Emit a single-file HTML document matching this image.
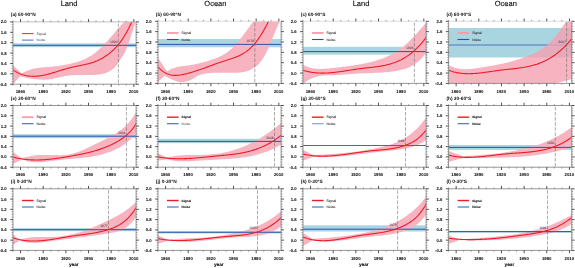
<!DOCTYPE html><html><head><meta charset="utf-8"><style>html,body{margin:0;padding:0;background:#fff;}svg{display:block;will-change:transform;}text{text-rendering:geometricPrecision;font-kerning:none;}</style></head><body>
<svg width="575" height="268" viewBox="0 0 575 268" font-family='"Liberation Sans", sans-serif'>
<rect width="575" height="268" fill="#fff"/>
<defs>
<clipPath id="c00"><rect x="13.00" y="21.90" width="123.10" height="62.30"/></clipPath>
<clipPath id="c01"><rect x="158.00" y="21.30" width="123.10" height="62.10"/></clipPath>
<clipPath id="c02"><rect x="303.00" y="21.30" width="123.10" height="62.10"/></clipPath>
<clipPath id="c03"><rect x="448.60" y="21.30" width="123.10" height="62.10"/></clipPath>
<clipPath id="c10"><rect x="13.00" y="105.50" width="123.10" height="61.70"/></clipPath>
<clipPath id="c11"><rect x="158.00" y="105.50" width="123.10" height="61.70"/></clipPath>
<clipPath id="c12"><rect x="303.00" y="105.50" width="123.10" height="61.70"/></clipPath>
<clipPath id="c13"><rect x="448.60" y="105.50" width="123.10" height="61.70"/></clipPath>
<clipPath id="c20"><rect x="13.00" y="188.80" width="123.10" height="61.60"/></clipPath>
<clipPath id="c21"><rect x="158.00" y="188.80" width="123.10" height="61.60"/></clipPath>
<clipPath id="c22"><rect x="303.00" y="188.80" width="123.10" height="61.60"/></clipPath>
<clipPath id="c23"><rect x="448.60" y="188.80" width="123.10" height="61.60"/></clipPath>
</defs>
<text x="69.00" y="6.20" font-size="7.50" text-anchor="middle" fill="#000" stroke="#000" stroke-width="0.10" stroke-linejoin="round">Land</text>
<text x="215.40" y="6.20" font-size="7.50" text-anchor="middle" fill="#000" stroke="#000" stroke-width="0.10" stroke-linejoin="round">Ocean</text>
<text x="361.00" y="6.20" font-size="7.50" text-anchor="middle" fill="#000" stroke="#000" stroke-width="0.10" stroke-linejoin="round">Land</text>
<text x="505.80" y="6.20" font-size="7.50" text-anchor="middle" fill="#000" stroke="#000" stroke-width="0.10" stroke-linejoin="round">Ocean</text>
<g clip-path="url(#c00)">
<rect x="13.00" y="43.30" width="123.10" height="3.90" fill="#a9d5e0"/>
<path d="M13.00,65.40 L13.79,66.13 L14.58,66.85 L15.37,67.58 L16.16,68.31 L16.95,69.04 L17.75,69.76 L18.54,70.49 L19.33,71.22 L20.12,71.95 L20.91,72.67 L21.70,73.40 L22.45,72.95 L23.20,72.53 L23.95,72.13 L24.70,71.75 L25.45,71.39 L26.20,71.05 L26.95,70.74 L27.70,70.44 L28.45,70.16 L29.20,69.91 L29.95,69.66 L30.70,69.44 L31.45,69.23 L32.21,69.03 L32.96,68.85 L33.71,68.68 L34.46,68.52 L35.21,68.38 L35.96,68.24 L36.71,68.12 L37.46,68.00 L38.21,67.89 L38.96,67.79 L39.71,67.70 L40.46,67.61 L41.21,67.53 L41.96,67.45 L42.71,67.38 L43.46,67.31 L44.21,67.24 L44.96,67.18 L45.71,67.12 L46.46,67.06 L47.21,67.00 L47.96,66.94 L48.71,66.88 L49.46,66.82 L50.21,66.77 L50.96,66.71 L51.71,66.64 L52.46,66.58 L53.22,66.52 L53.97,66.45 L54.72,66.37 L55.47,66.30 L56.22,66.21 L56.97,66.13 L57.72,66.04 L58.47,65.94 L59.22,65.83 L59.97,65.73 L60.72,65.61 L61.47,65.49 L62.22,65.37 L62.97,65.24 L63.72,65.11 L64.47,64.97 L65.22,64.83 L65.97,64.68 L66.72,64.53 L67.47,64.37 L68.22,64.21 L68.97,64.05 L69.72,63.88 L70.47,63.71 L71.22,63.54 L71.97,63.36 L72.72,63.17 L73.47,62.98 L74.23,62.78 L74.98,62.58 L75.73,62.37 L76.48,62.15 L77.23,61.93 L77.98,61.69 L78.73,61.45 L79.48,61.20 L80.23,60.93 L80.98,60.66 L81.73,60.37 L82.48,60.08 L83.23,59.77 L83.98,59.44 L84.73,59.11 L85.48,58.76 L86.23,58.40 L86.98,58.02 L87.73,57.62 L88.48,57.22 L89.23,56.79 L89.98,56.35 L90.73,55.89 L91.48,55.41 L92.23,54.92 L92.98,54.40 L93.73,53.87 L94.48,53.31 L95.24,52.74 L95.99,52.14 L96.74,51.53 L97.49,50.89 L98.24,50.24 L98.99,49.56 L99.74,48.87 L100.49,48.16 L101.24,47.43 L101.99,46.69 L102.74,45.94 L103.49,45.17 L104.24,44.38 L104.99,43.59 L105.74,42.78 L106.49,41.96 L107.24,41.13 L107.99,40.29 L108.74,39.45 L109.49,38.60 L110.24,37.74 L110.99,36.87 L111.74,36.01 L112.49,35.14 L113.24,34.26 L113.99,33.39 L114.74,32.51 L115.49,31.64 L116.25,30.77 L117.00,29.90 L117.75,29.03 L118.50,28.17 L119.25,27.31 L120.00,26.46 L120.75,25.62 L121.50,24.78 L122.25,23.96 L123.00,23.14 L123.75,22.34 L124.50,21.55 L125.25,20.77 L126.00,20.01 L139.10,18.01 L136.30,20.01 L135.55,22.28 L134.80,24.57 L134.05,26.86 L133.30,29.16 L132.55,31.46 L131.80,33.77 L131.05,36.07 L130.30,38.34 L129.55,40.57 L128.80,42.72 L128.05,44.79 L127.30,46.74 L126.55,48.56 L125.80,50.23 L125.05,51.75 L124.29,53.15 L123.54,54.46 L122.79,55.71 L122.04,56.91 L121.29,58.11 L120.54,59.31 L119.79,60.51 L119.04,61.68 L118.29,62.81 L117.54,63.90 L116.79,64.92 L116.04,65.86 L115.29,66.71 L114.54,67.50 L113.79,68.21 L113.04,68.85 L112.29,69.44 L111.54,69.98 L110.79,70.48 L110.04,70.94 L109.29,71.36 L108.54,71.75 L107.79,72.10 L107.04,72.43 L106.29,72.72 L105.54,72.99 L104.79,73.24 L104.04,73.46 L103.29,73.67 L102.54,73.85 L101.79,74.02 L101.03,74.17 L100.28,74.30 L99.53,74.42 L98.78,74.53 L98.03,74.62 L97.28,74.70 L96.53,74.76 L95.78,74.82 L95.03,74.86 L94.28,74.90 L93.53,74.93 L92.78,74.95 L92.03,74.96 L91.28,74.97 L90.53,74.97 L89.78,74.97 L89.03,74.97 L88.28,74.97 L87.53,74.96 L86.78,74.96 L86.03,74.95 L85.28,74.95 L84.53,74.94 L83.78,74.94 L83.03,74.94 L82.28,74.94 L81.53,74.94 L80.78,74.95 L80.03,74.96 L79.28,74.97 L78.53,74.98 L77.77,75.00 L77.02,75.02 L76.27,75.05 L75.52,75.08 L74.77,75.11 L74.02,75.15 L73.27,75.20 L72.52,75.25 L71.77,75.30 L71.02,75.36 L70.27,75.43 L69.52,75.50 L68.77,75.59 L68.02,75.67 L67.27,75.77 L66.52,75.87 L65.77,75.99 L65.02,76.11 L64.27,76.24 L63.52,76.38 L62.77,76.53 L62.02,76.69 L61.27,76.86 L60.52,77.03 L59.77,77.21 L59.02,77.38 L58.27,77.57 L57.52,77.75 L56.77,77.93 L56.02,78.10 L55.27,78.28 L54.51,78.44 L53.76,78.60 L53.01,78.76 L52.26,78.90 L51.51,79.03 L50.76,79.15 L50.01,79.25 L49.26,79.35 L48.51,79.43 L47.76,79.49 L47.01,79.55 L46.26,79.59 L45.51,79.63 L44.76,79.65 L44.01,79.66 L43.26,79.66 L42.51,79.65 L41.76,79.64 L41.01,79.61 L40.26,79.58 L39.51,79.53 L38.76,79.48 L38.01,79.43 L37.26,79.36 L36.51,79.29 L35.76,79.21 L35.01,79.13 L34.26,79.04 L33.51,78.95 L32.76,78.85 L32.01,78.74 L31.25,78.63 L30.50,78.52 L29.75,78.41 L29.00,78.29 L28.25,78.16 L27.50,78.03 L26.75,77.89 L26.00,77.74 L25.25,77.59 L24.50,77.43 L23.75,77.27 L23.00,77.09 L22.25,76.91 L21.50,76.72 L20.75,76.51 L20.00,76.30 L19.22,77.21 L18.44,78.12 L17.67,79.03 L16.89,79.94 L16.11,80.86 L15.33,81.77 L14.56,82.68 L13.78,83.59 L13.00,84.50 Z" fill="#f7b3c0"/>
<line x1="13.00" y1="45.30" x2="136.10" y2="45.30" stroke="#2a52a8" stroke-width="1.00" stroke-opacity="1.00"/>
<path d="M13.00,69.91 L13.75,70.43 L14.50,70.91 L15.25,71.38 L16.01,71.82 L16.76,72.23 L17.51,72.63 L18.26,73.00 L19.01,73.34 L19.76,73.67 L20.52,73.98 L21.27,74.26 L22.02,74.53 L22.77,74.77 L23.52,75.00 L24.27,75.20 L25.03,75.39 L25.78,75.56 L26.53,75.71 L27.28,75.84 L28.03,75.96 L28.78,76.06 L29.53,76.14 L30.29,76.21 L31.04,76.26 L31.79,76.30 L32.54,76.32 L33.29,76.33 L34.04,76.32 L34.80,76.30 L35.55,76.27 L36.30,76.23 L37.05,76.17 L37.80,76.10 L38.55,76.02 L39.31,75.93 L40.06,75.82 L40.81,75.71 L41.56,75.59 L42.31,75.46 L43.06,75.32 L43.81,75.17 L44.57,75.01 L45.32,74.85 L46.07,74.67 L46.82,74.49 L47.57,74.31 L48.32,74.12 L49.08,73.92 L49.83,73.72 L50.58,73.51 L51.33,73.30 L52.08,73.08 L52.83,72.86 L53.58,72.64 L54.34,72.41 L55.09,72.18 L55.84,71.95 L56.59,71.72 L57.34,71.49 L58.09,71.25 L58.85,71.02 L59.60,70.79 L60.35,70.55 L61.10,70.32 L61.85,70.09 L62.60,69.86 L63.36,69.63 L64.11,69.40 L64.86,69.18 L65.61,68.96 L66.36,68.75 L67.11,68.54 L67.86,68.33 L68.62,68.13 L69.37,67.93 L70.12,67.74 L70.87,67.55 L71.62,67.37 L72.37,67.20 L73.13,67.03 L73.88,66.86 L74.63,66.70 L75.38,66.54 L76.13,66.38 L76.88,66.23 L77.64,66.07 L78.39,65.92 L79.14,65.76 L79.89,65.61 L80.64,65.46 L81.39,65.30 L82.14,65.14 L82.90,64.98 L83.65,64.81 L84.40,64.65 L85.15,64.47 L85.90,64.30 L86.65,64.12 L87.41,63.93 L88.16,63.73 L88.91,63.53 L89.66,63.33 L90.41,63.11 L91.16,62.89 L91.92,62.65 L92.67,62.41 L93.42,62.16 L94.17,61.89 L94.92,61.62 L95.67,61.33 L96.42,61.04 L97.18,60.73 L97.93,60.40 L98.68,60.07 L99.43,59.71 L100.18,59.35 L100.93,58.96 L101.69,58.57 L102.44,58.15 L103.19,57.72 L103.94,57.27 L104.69,56.81 L105.44,56.32 L106.19,55.82 L106.95,55.29 L107.70,54.75 L108.45,54.18 L109.20,53.60 L109.95,52.99 L110.70,52.36 L111.46,51.71 L112.21,51.03 L112.96,50.33 L113.71,49.61 L114.46,48.86 L115.21,48.08 L115.97,47.28 L116.72,46.45 L117.47,45.59 L118.22,44.70 L118.97,43.78 L119.72,42.82 L120.47,41.83 L121.23,40.80 L121.98,39.74 L122.73,38.63 L123.48,37.49 L124.23,36.30 L124.98,35.07 L125.74,33.79 L126.49,32.47 L127.24,31.10 L127.99,29.68 L128.74,28.21 L129.49,26.69 L130.25,25.11 L131.00,23.48 L131.75,21.80 L132.50,20.05" fill="none" stroke="#ee1c24" stroke-width="1.1"/>
<line x1="118.40" y1="21.90" x2="118.40" y2="84.20" stroke="#666" stroke-width="0.55" stroke-dasharray="3.6,1.5" stroke-dashoffset="-1.4"/>
</g>
<text x="117.60" y="42.60" font-size="3.40" text-anchor="end" fill="#333">1990</text>
<line x1="22.00" y1="33.60" x2="33.60" y2="33.60" stroke="#f02535" stroke-width="1.00"/>
<line x1="22.00" y1="40.10" x2="33.60" y2="40.10" stroke="#5a7cc0" stroke-width="1.1"/>
<text x="36.60" y="34.80" font-size="3.40" fill="#4a4a4a" stroke="#4a4a4a" stroke-width="0.03" stroke-linejoin="round">Signal</text>
<text x="36.60" y="41.30" font-size="3.40" fill="#4a4a4a" stroke="#4a4a4a" stroke-width="0.03" stroke-linejoin="round">Noise</text>
<path d="M12.55,84.20H136.55M13.00,21.90V84.20M136.10,21.90V84.20" fill="none" stroke="#8a8a8a" stroke-width="0.9"/>
<path d="M12.55,21.90H136.55" fill="none" stroke="#b8b8b8" stroke-width="0.9"/>
<path d="M20.55,84.20v2.80M20.55,21.90v-2.80M43.21,84.20v2.80M43.21,21.90v-2.80M65.87,84.20v2.80M65.87,21.90v-2.80M88.52,84.20v2.80M88.52,21.90v-2.80M111.18,84.20v2.80M111.18,21.90v-2.80M133.83,84.20v2.80M133.83,21.90v-2.80M13.00,84.20h-2.80M136.10,84.20h2.80M13.00,73.82h-2.80M136.10,73.82h2.80M13.00,63.43h-2.80M136.10,63.43h2.80M13.00,53.05h-2.80M136.10,53.05h2.80M13.00,42.67h-2.80M136.10,42.67h2.80M13.00,32.28h-2.80M136.10,32.28h2.80M13.00,21.90h-2.80M136.10,21.90h2.80" stroke="#222" stroke-width="0.8" fill="none"/>
<path d="M13.00,84.20v1.40M13.00,21.90v-1.40M28.10,84.20v1.40M28.10,21.90v-1.40M35.66,84.20v1.40M35.66,21.90v-1.40M50.76,84.20v1.40M50.76,21.90v-1.40M58.31,84.20v1.40M58.31,21.90v-1.40M73.42,84.20v1.40M73.42,21.90v-1.40M80.97,84.20v1.40M80.97,21.90v-1.40M96.07,84.20v1.40M96.07,21.90v-1.40M103.63,84.20v1.40M103.63,21.90v-1.40M118.73,84.20v1.40M118.73,21.90v-1.40M126.28,84.20v1.40M126.28,21.90v-1.40M13.00,81.60h-1.40M136.10,81.60h1.40M13.00,79.01h-1.40M136.10,79.01h1.40M13.00,76.41h-1.40M136.10,76.41h1.40M13.00,71.22h-1.40M136.10,71.22h1.40M13.00,68.62h-1.40M136.10,68.62h1.40M13.00,66.03h-1.40M136.10,66.03h1.40M13.00,60.84h-1.40M136.10,60.84h1.40M13.00,58.24h-1.40M136.10,58.24h1.40M13.00,55.65h-1.40M136.10,55.65h1.40M13.00,50.45h-1.40M136.10,50.45h1.40M13.00,47.86h-1.40M136.10,47.86h1.40M13.00,45.26h-1.40M136.10,45.26h1.40M13.00,40.07h-1.40M136.10,40.07h1.40M13.00,37.48h-1.40M136.10,37.48h1.40M13.00,34.88h-1.40M136.10,34.88h1.40M13.00,29.69h-1.40M136.10,29.69h1.40M13.00,27.09h-1.40M136.10,27.09h1.40M13.00,24.50h-1.40M136.10,24.50h1.40" stroke="#666" stroke-width="0.6" fill="none"/>
<text x="6.70" y="85.70" font-size="4.25" font-weight="bold" text-anchor="end" fill="#111" stroke="#111" stroke-width="0.04" stroke-linejoin="round">-0.4</text>
<text x="6.70" y="75.32" font-size="4.25" font-weight="bold" text-anchor="end" fill="#111" stroke="#111" stroke-width="0.04" stroke-linejoin="round">0.0</text>
<text x="6.70" y="64.93" font-size="4.25" font-weight="bold" text-anchor="end" fill="#111" stroke="#111" stroke-width="0.04" stroke-linejoin="round">0.4</text>
<text x="6.70" y="54.55" font-size="4.25" font-weight="bold" text-anchor="end" fill="#111" stroke="#111" stroke-width="0.04" stroke-linejoin="round">0.8</text>
<text x="6.70" y="44.17" font-size="4.25" font-weight="bold" text-anchor="end" fill="#111" stroke="#111" stroke-width="0.04" stroke-linejoin="round">1.2</text>
<text x="6.70" y="33.78" font-size="4.25" font-weight="bold" text-anchor="end" fill="#111" stroke="#111" stroke-width="0.04" stroke-linejoin="round">1.6</text>
<text x="6.70" y="23.40" font-size="4.25" font-weight="bold" text-anchor="end" fill="#111" stroke="#111" stroke-width="0.04" stroke-linejoin="round">2.0</text>
<text x="20.45" y="93.40" font-size="4.30" font-weight="bold" text-anchor="middle" fill="#111" stroke="#111" stroke-width="0.04" stroke-linejoin="round">1860</text>
<text x="43.11" y="93.40" font-size="4.30" font-weight="bold" text-anchor="middle" fill="#111" stroke="#111" stroke-width="0.04" stroke-linejoin="round">1890</text>
<text x="65.77" y="93.40" font-size="4.30" font-weight="bold" text-anchor="middle" fill="#111" stroke="#111" stroke-width="0.04" stroke-linejoin="round">1920</text>
<text x="88.42" y="93.40" font-size="4.30" font-weight="bold" text-anchor="middle" fill="#111" stroke="#111" stroke-width="0.04" stroke-linejoin="round">1950</text>
<text x="111.08" y="93.40" font-size="4.30" font-weight="bold" text-anchor="middle" fill="#111" stroke="#111" stroke-width="0.04" stroke-linejoin="round">1980</text>
<text x="133.73" y="93.40" font-size="4.30" font-weight="bold" text-anchor="middle" fill="#111" stroke="#111" stroke-width="0.04" stroke-linejoin="round">2010</text>
<text x="10.80" y="16.40" font-size="4.80" font-weight="bold" fill="#111">(a) 60-90°N</text>
<g clip-path="url(#c01)">
<rect x="158.00" y="39.00" width="123.10" height="8.30" fill="#a9d5e0"/>
<path d="M158.00,57.80 L158.77,58.95 L159.53,60.10 L160.30,61.25 L161.07,62.40 L161.83,63.55 L162.60,64.70 L163.37,65.85 L164.13,67.00 L164.90,68.15 L165.67,69.30 L166.43,70.45 L167.20,71.60 L167.95,71.03 L168.71,70.50 L169.46,70.02 L170.21,69.58 L170.96,69.17 L171.72,68.80 L172.47,68.47 L173.22,68.16 L173.97,67.89 L174.73,67.64 L175.48,67.41 L176.23,67.21 L176.98,67.03 L177.74,66.87 L178.49,66.73 L179.24,66.60 L179.99,66.49 L180.75,66.38 L181.50,66.28 L182.25,66.19 L183.00,66.11 L183.76,66.02 L184.51,65.94 L185.26,65.85 L186.01,65.76 L186.77,65.67 L187.52,65.56 L188.27,65.46 L189.02,65.35 L189.78,65.23 L190.53,65.11 L191.28,64.98 L192.04,64.84 L192.79,64.71 L193.54,64.56 L194.29,64.41 L195.05,64.26 L195.80,64.10 L196.55,63.94 L197.30,63.77 L198.06,63.60 L198.81,63.42 L199.56,63.24 L200.31,63.06 L201.07,62.87 L201.82,62.67 L202.57,62.48 L203.32,62.28 L204.08,62.07 L204.83,61.86 L205.58,61.65 L206.33,61.43 L207.09,61.21 L207.84,60.99 L208.59,60.76 L209.34,60.53 L210.10,60.30 L210.85,60.06 L211.60,59.81 L212.36,59.56 L213.11,59.31 L213.86,59.04 L214.61,58.77 L215.37,58.48 L216.12,58.19 L216.87,57.89 L217.62,57.57 L218.38,57.25 L219.13,56.91 L219.88,56.56 L220.63,56.19 L221.39,55.81 L222.14,55.41 L222.89,54.99 L223.64,54.56 L224.40,54.11 L225.15,53.64 L225.90,53.16 L226.65,52.65 L227.41,52.12 L228.16,51.57 L228.91,51.00 L229.66,50.40 L230.42,49.78 L231.17,49.13 L231.92,48.46 L232.68,47.77 L233.43,47.04 L234.18,46.29 L234.93,45.52 L235.69,44.71 L236.44,43.87 L237.19,43.01 L237.94,42.11 L238.70,41.19 L239.45,40.24 L240.20,39.27 L240.95,38.29 L241.71,37.29 L242.46,36.28 L243.21,35.26 L243.96,34.23 L244.72,33.20 L245.47,32.17 L246.22,31.13 L246.97,30.09 L247.73,29.05 L248.48,28.01 L249.23,26.98 L249.98,25.96 L250.74,24.94 L251.49,23.93 L252.24,22.93 L252.99,21.94 L253.75,20.97 L254.50,20.01 L284.10,18.01 L281.00,20.02 L280.25,21.26 L279.50,22.60 L278.75,24.02 L277.99,25.53 L277.24,27.11 L276.49,28.75 L275.74,30.46 L274.99,32.21 L274.24,34.01 L273.48,35.83 L272.73,37.68 L271.98,39.53 L271.23,41.38 L270.48,43.22 L269.73,45.03 L268.97,46.80 L268.22,48.52 L267.47,50.19 L266.72,51.78 L265.97,53.29 L265.22,54.71 L264.46,56.05 L263.71,57.31 L262.96,58.49 L262.21,59.60 L261.46,60.63 L260.71,61.60 L259.95,62.51 L259.20,63.35 L258.45,64.14 L257.70,64.88 L256.95,65.56 L256.20,66.20 L255.45,66.80 L254.69,67.35 L253.94,67.87 L253.19,68.36 L252.44,68.81 L251.69,69.23 L250.94,69.61 L250.18,69.97 L249.43,70.30 L248.68,70.61 L247.93,70.88 L247.18,71.13 L246.43,71.36 L245.67,71.57 L244.92,71.75 L244.17,71.92 L243.42,72.07 L242.67,72.19 L241.92,72.31 L241.16,72.40 L240.41,72.49 L239.66,72.56 L238.91,72.62 L238.16,72.67 L237.41,72.71 L236.65,72.74 L235.90,72.76 L235.15,72.78 L234.40,72.80 L233.65,72.81 L232.90,72.82 L232.15,72.82 L231.39,72.82 L230.64,72.82 L229.89,72.82 L229.14,72.82 L228.39,72.81 L227.64,72.80 L226.88,72.80 L226.13,72.79 L225.38,72.78 L224.63,72.77 L223.88,72.76 L223.13,72.75 L222.37,72.75 L221.62,72.74 L220.87,72.74 L220.12,72.74 L219.37,72.74 L218.62,72.74 L217.86,72.75 L217.11,72.76 L216.36,72.77 L215.61,72.79 L214.86,72.81 L214.11,72.83 L213.35,72.86 L212.60,72.90 L211.85,72.94 L211.10,72.99 L210.35,73.04 L209.60,73.10 L208.85,73.17 L208.09,73.24 L207.34,73.32 L206.59,73.41 L205.84,73.50 L205.09,73.61 L204.34,73.73 L203.58,73.87 L202.83,74.03 L202.08,74.21 L201.33,74.42 L200.58,74.66 L199.83,74.93 L199.07,75.23 L198.32,75.58 L197.57,75.96 L196.82,76.37 L196.07,76.80 L195.32,77.25 L194.56,77.70 L193.81,78.15 L193.06,78.59 L192.31,79.03 L191.56,79.44 L190.81,79.82 L190.05,80.17 L189.30,80.50 L188.55,80.80 L187.80,81.06 L187.05,81.30 L186.30,81.51 L185.55,81.68 L184.79,81.83 L184.04,81.94 L183.29,82.03 L182.54,82.08 L181.79,82.09 L181.04,82.08 L180.28,82.03 L179.53,81.95 L178.78,81.83 L178.03,81.68 L177.28,81.50 L176.53,81.28 L175.77,81.04 L175.02,80.77 L174.27,80.48 L173.52,80.17 L172.77,79.84 L172.02,79.50 L171.26,79.14 L170.51,78.78 L169.76,78.40 L169.01,78.03 L168.26,77.64 L167.51,77.26 L166.75,76.89 L166.00,76.51 L165.25,76.15 L164.50,75.80 L163.69,76.60 L162.88,77.40 L162.06,78.20 L161.25,79.00 L160.44,79.80 L159.62,80.60 L158.81,81.40 L158.00,82.20 Z" fill="#f7b3c0"/>
<line x1="158.00" y1="44.40" x2="281.10" y2="44.40" stroke="#2a52a8" stroke-width="1.00" stroke-opacity="1.00"/>
<path d="M158.00,66.70 L158.75,67.56 L159.51,68.36 L160.26,69.11 L161.01,69.81 L161.77,70.46 L162.52,71.06 L163.27,71.62 L164.03,72.13 L164.78,72.60 L165.53,73.03 L166.29,73.42 L167.04,73.77 L167.79,74.08 L168.55,74.35 L169.30,74.59 L170.05,74.80 L170.81,74.97 L171.56,75.12 L172.31,75.23 L173.07,75.32 L173.82,75.38 L174.57,75.41 L175.33,75.42 L176.08,75.41 L176.83,75.38 L177.59,75.32 L178.34,75.25 L179.09,75.17 L179.85,75.06 L180.60,74.95 L181.35,74.82 L182.11,74.68 L182.86,74.53 L183.61,74.37 L184.37,74.20 L185.12,74.03 L185.88,73.85 L186.63,73.66 L187.38,73.47 L188.14,73.28 L188.89,73.08 L189.64,72.87 L190.40,72.66 L191.15,72.44 L191.90,72.22 L192.66,72.00 L193.41,71.77 L194.16,71.53 L194.92,71.29 L195.67,71.05 L196.42,70.81 L197.18,70.56 L197.93,70.31 L198.68,70.05 L199.44,69.80 L200.19,69.54 L200.94,69.27 L201.70,69.01 L202.45,68.74 L203.20,68.47 L203.96,68.20 L204.71,67.93 L205.46,67.66 L206.22,67.38 L206.97,67.11 L207.72,66.83 L208.48,66.55 L209.23,66.28 L209.98,66.00 L210.74,65.72 L211.49,65.44 L212.24,65.17 L213.00,64.89 L213.75,64.61 L214.50,64.34 L215.26,64.06 L216.01,63.79 L216.76,63.52 L217.52,63.25 L218.27,62.98 L219.02,62.71 L219.78,62.45 L220.53,62.19 L221.28,61.93 L222.04,61.67 L222.79,61.42 L223.54,61.17 L224.30,60.92 L225.05,60.67 L225.80,60.43 L226.56,60.20 L227.31,59.96 L228.06,59.72 L228.82,59.49 L229.57,59.25 L230.32,59.01 L231.08,58.76 L231.83,58.51 L232.58,58.26 L233.34,58.00 L234.09,57.73 L234.84,57.45 L235.60,57.16 L236.35,56.87 L237.10,56.56 L237.86,56.24 L238.61,55.90 L239.36,55.55 L240.12,55.19 L240.87,54.80 L241.62,54.40 L242.38,53.99 L243.13,53.55 L243.89,53.09 L244.64,52.61 L245.39,52.11 L246.15,51.58 L246.90,51.03 L247.65,50.45 L248.41,49.85 L249.16,49.22 L249.91,48.56 L250.67,47.87 L251.42,47.15 L252.17,46.40 L252.93,45.61 L253.68,44.79 L254.43,43.94 L255.19,43.05 L255.94,42.13 L256.69,41.16 L257.45,40.16 L258.20,39.12 L258.95,38.04 L259.71,36.92 L260.46,35.77 L261.21,34.58 L261.97,33.36 L262.72,32.10 L263.47,30.81 L264.23,29.49 L264.98,28.14 L265.73,26.76 L266.49,25.35 L267.24,23.92 L267.99,22.46 L268.75,20.97 L269.50,19.46" fill="none" stroke="#ee1c24" stroke-width="1.1"/>
<line x1="254.80" y1="21.30" x2="254.80" y2="83.40" stroke="#666" stroke-width="0.55" stroke-dasharray="3.6,1.5" stroke-dashoffset="-1.4"/>
</g>
<text x="254.00" y="41.60" font-size="3.40" text-anchor="end" fill="#333">1978</text>
<line x1="167.00" y1="33.00" x2="178.60" y2="33.00" stroke="#ff9aa6" stroke-width="1.80"/>
<line x1="167.00" y1="39.50" x2="178.60" y2="39.50" stroke="#2850a8" stroke-width="1.1"/>
<text x="181.60" y="34.20" font-size="3.40" fill="#333" stroke="#333" stroke-width="0.09" stroke-linejoin="round">Signal</text>
<text x="181.60" y="40.70" font-size="3.40" fill="#333" stroke="#333" stroke-width="0.09" stroke-linejoin="round">Noise</text>
<path d="M157.55,83.40H281.55M158.00,21.30V83.40M281.10,21.30V83.40" fill="none" stroke="#8a8a8a" stroke-width="0.9"/>
<path d="M157.55,21.30H281.55" fill="none" stroke="#d8d8d8" stroke-width="0.9"/>
<path d="M165.55,83.40v2.80M165.55,21.30v-2.80M188.21,83.40v2.80M188.21,21.30v-2.80M210.87,83.40v2.80M210.87,21.30v-2.80M233.52,83.40v2.80M233.52,21.30v-2.80M256.18,83.40v2.80M256.18,21.30v-2.80M278.83,83.40v2.80M278.83,21.30v-2.80M158.00,83.40h-2.80M281.10,83.40h2.80M158.00,73.05h-2.80M281.10,73.05h2.80M158.00,62.70h-2.80M281.10,62.70h2.80M158.00,52.35h-2.80M281.10,52.35h2.80M158.00,42.00h-2.80M281.10,42.00h2.80M158.00,31.65h-2.80M281.10,31.65h2.80M158.00,21.30h-2.80M281.10,21.30h2.80" stroke="#222" stroke-width="0.8" fill="none"/>
<path d="M158.00,83.40v1.40M158.00,21.30v-1.40M173.10,83.40v1.40M173.10,21.30v-1.40M180.66,83.40v1.40M180.66,21.30v-1.40M195.76,83.40v1.40M195.76,21.30v-1.40M203.31,83.40v1.40M203.31,21.30v-1.40M218.42,83.40v1.40M218.42,21.30v-1.40M225.97,83.40v1.40M225.97,21.30v-1.40M241.07,83.40v1.40M241.07,21.30v-1.40M248.63,83.40v1.40M248.63,21.30v-1.40M263.73,83.40v1.40M263.73,21.30v-1.40M271.28,83.40v1.40M271.28,21.30v-1.40M158.00,80.81h-1.40M281.10,80.81h1.40M158.00,78.23h-1.40M281.10,78.23h1.40M158.00,75.64h-1.40M281.10,75.64h1.40M158.00,70.46h-1.40M281.10,70.46h1.40M158.00,67.88h-1.40M281.10,67.88h1.40M158.00,65.29h-1.40M281.10,65.29h1.40M158.00,60.11h-1.40M281.10,60.11h1.40M158.00,57.53h-1.40M281.10,57.53h1.40M158.00,54.94h-1.40M281.10,54.94h1.40M158.00,49.76h-1.40M281.10,49.76h1.40M158.00,47.17h-1.40M281.10,47.17h1.40M158.00,44.59h-1.40M281.10,44.59h1.40M158.00,39.41h-1.40M281.10,39.41h1.40M158.00,36.83h-1.40M281.10,36.83h1.40M158.00,34.24h-1.40M281.10,34.24h1.40M158.00,29.06h-1.40M281.10,29.06h1.40M158.00,26.47h-1.40M281.10,26.47h1.40M158.00,23.89h-1.40M281.10,23.89h1.40" stroke="#666" stroke-width="0.6" fill="none"/>
<text x="151.70" y="84.90" font-size="4.25" font-weight="bold" text-anchor="end" fill="#111" stroke="#111" stroke-width="0.04" stroke-linejoin="round">-0.4</text>
<text x="151.70" y="74.55" font-size="4.25" font-weight="bold" text-anchor="end" fill="#111" stroke="#111" stroke-width="0.04" stroke-linejoin="round">0.0</text>
<text x="151.70" y="64.20" font-size="4.25" font-weight="bold" text-anchor="end" fill="#111" stroke="#111" stroke-width="0.04" stroke-linejoin="round">0.4</text>
<text x="151.70" y="53.85" font-size="4.25" font-weight="bold" text-anchor="end" fill="#111" stroke="#111" stroke-width="0.04" stroke-linejoin="round">0.8</text>
<text x="151.70" y="43.50" font-size="4.25" font-weight="bold" text-anchor="end" fill="#111" stroke="#111" stroke-width="0.04" stroke-linejoin="round">1.2</text>
<text x="151.70" y="33.15" font-size="4.25" font-weight="bold" text-anchor="end" fill="#111" stroke="#111" stroke-width="0.04" stroke-linejoin="round">1.6</text>
<text x="151.70" y="22.80" font-size="4.25" font-weight="bold" text-anchor="end" fill="#111" stroke="#111" stroke-width="0.04" stroke-linejoin="round">2.0</text>
<text x="165.45" y="92.60" font-size="4.30" font-weight="bold" text-anchor="middle" fill="#111" stroke="#111" stroke-width="0.04" stroke-linejoin="round">1860</text>
<text x="188.11" y="92.60" font-size="4.30" font-weight="bold" text-anchor="middle" fill="#111" stroke="#111" stroke-width="0.04" stroke-linejoin="round">1890</text>
<text x="210.77" y="92.60" font-size="4.30" font-weight="bold" text-anchor="middle" fill="#111" stroke="#111" stroke-width="0.04" stroke-linejoin="round">1920</text>
<text x="233.42" y="92.60" font-size="4.30" font-weight="bold" text-anchor="middle" fill="#111" stroke="#111" stroke-width="0.04" stroke-linejoin="round">1950</text>
<text x="256.08" y="92.60" font-size="4.30" font-weight="bold" text-anchor="middle" fill="#111" stroke="#111" stroke-width="0.04" stroke-linejoin="round">1980</text>
<text x="278.73" y="92.60" font-size="4.30" font-weight="bold" text-anchor="middle" fill="#111" stroke="#111" stroke-width="0.04" stroke-linejoin="round">2010</text>
<text x="155.80" y="15.80" font-size="4.80" font-weight="bold" fill="#111">(b) 60-90°N</text>
<g clip-path="url(#c02)">
<rect x="303.00" y="46.80" width="123.10" height="7.80" fill="#a9d5e0"/>
<path d="M303.00,64.79 L303.75,65.18 L304.50,65.56 L305.25,65.90 L306.00,66.23 L306.75,66.53 L307.50,66.82 L308.25,67.08 L309.00,67.32 L309.75,67.54 L310.50,67.74 L311.25,67.93 L312.00,68.09 L312.75,68.24 L313.50,68.38 L314.25,68.49 L315.00,68.60 L315.75,68.68 L316.50,68.75 L317.25,68.81 L318.00,68.86 L318.75,68.89 L319.50,68.92 L320.25,68.93 L321.00,68.93 L321.75,68.92 L322.50,68.90 L323.25,68.87 L324.00,68.83 L324.75,68.79 L325.50,68.74 L326.25,68.68 L327.00,68.62 L327.75,68.55 L328.50,68.48 L329.25,68.41 L330.00,68.33 L330.75,68.24 L331.50,68.16 L332.25,68.07 L333.00,67.99 L333.75,67.90 L334.50,67.81 L335.25,67.73 L336.00,67.64 L336.75,67.55 L337.50,67.47 L338.25,67.38 L339.00,67.29 L339.75,67.20 L340.50,67.11 L341.25,67.02 L342.00,66.93 L342.75,66.84 L343.50,66.75 L344.25,66.66 L345.00,66.56 L345.75,66.47 L346.50,66.37 L347.25,66.27 L348.00,66.17 L348.75,66.07 L349.50,65.97 L350.25,65.87 L351.00,65.76 L351.75,65.65 L352.50,65.54 L353.25,65.43 L354.00,65.32 L354.75,65.20 L355.50,65.09 L356.25,64.97 L357.00,64.84 L357.75,64.72 L358.50,64.59 L359.25,64.46 L360.00,64.32 L360.75,64.19 L361.50,64.05 L362.25,63.91 L363.00,63.76 L363.75,63.61 L364.50,63.46 L365.25,63.30 L366.00,63.14 L366.75,62.98 L367.50,62.81 L368.25,62.64 L369.00,62.47 L369.75,62.29 L370.50,62.11 L371.25,61.92 L372.00,61.73 L372.75,61.54 L373.50,61.34 L374.25,61.13 L375.00,60.92 L375.75,60.71 L376.50,60.48 L377.25,60.26 L378.00,60.02 L378.75,59.78 L379.50,59.53 L380.25,59.27 L381.00,59.01 L381.75,58.74 L382.50,58.46 L383.25,58.17 L384.00,57.88 L384.75,57.58 L385.50,57.26 L386.25,56.94 L387.00,56.61 L387.75,56.27 L388.50,55.92 L389.25,55.56 L390.00,55.19 L390.75,54.81 L391.50,54.41 L392.25,54.01 L393.00,53.60 L393.75,53.17 L394.50,52.73 L395.25,52.28 L396.00,51.82 L396.75,51.34 L397.50,50.85 L398.25,50.35 L399.00,49.84 L399.75,49.31 L400.50,48.77 L401.25,48.21 L402.00,47.64 L402.75,47.06 L403.50,46.46 L404.25,45.85 L405.00,45.22 L405.75,44.57 L406.50,43.91 L407.25,43.24 L408.00,42.54 L408.75,41.83 L409.50,41.11 L410.25,40.36 L411.00,39.60 L411.75,38.83 L412.50,38.04 L413.25,37.24 L414.00,36.42 L414.75,35.60 L415.50,34.77 L416.25,33.93 L417.00,33.09 L417.75,32.25 L418.50,31.40 L419.25,30.55 L420.00,29.70 L420.75,28.86 L421.50,28.01 L422.25,27.17 L423.00,26.32 L423.75,25.47 L424.50,24.61 L425.25,23.74 L426.00,22.85 L426.75,21.95 L427.50,21.04 L426.40,52.20 L425.65,53.26 L424.90,54.27 L424.14,55.24 L423.39,56.17 L422.64,57.06 L421.89,57.91 L421.13,58.72 L420.38,59.49 L419.63,60.23 L418.88,60.93 L418.12,61.59 L417.37,62.23 L416.62,62.83 L415.87,63.40 L415.11,63.94 L414.36,64.45 L413.61,64.93 L412.86,65.39 L412.10,65.82 L411.35,66.22 L410.60,66.61 L409.85,66.97 L409.09,67.31 L408.34,67.63 L407.59,67.93 L406.84,68.21 L406.08,68.48 L405.33,68.73 L404.58,68.96 L403.83,69.18 L403.07,69.39 L402.32,69.59 L401.57,69.78 L400.82,69.96 L400.06,70.13 L399.31,70.29 L398.56,70.45 L397.81,70.60 L397.05,70.74 L396.30,70.88 L395.55,71.01 L394.80,71.13 L394.05,71.25 L393.29,71.36 L392.54,71.47 L391.79,71.57 L391.04,71.67 L390.28,71.76 L389.53,71.85 L388.78,71.93 L388.03,72.01 L387.27,72.09 L386.52,72.16 L385.77,72.22 L385.02,72.28 L384.26,72.34 L383.51,72.40 L382.76,72.45 L382.01,72.50 L381.25,72.55 L380.50,72.59 L379.75,72.63 L379.00,72.67 L378.24,72.71 L377.49,72.74 L376.74,72.78 L375.99,72.81 L375.23,72.84 L374.48,72.87 L373.73,72.90 L372.98,72.92 L372.22,72.95 L371.47,72.98 L370.72,73.00 L369.97,73.03 L369.21,73.05 L368.46,73.08 L367.71,73.11 L366.96,73.13 L366.20,73.16 L365.45,73.19 L364.70,73.22 L363.95,73.25 L363.20,73.28 L362.44,73.32 L361.69,73.35 L360.94,73.39 L360.19,73.43 L359.43,73.47 L358.68,73.52 L357.93,73.56 L357.18,73.61 L356.42,73.66 L355.67,73.71 L354.92,73.77 L354.17,73.82 L353.41,73.87 L352.66,73.93 L351.91,73.99 L351.16,74.04 L350.40,74.10 L349.65,74.16 L348.90,74.21 L348.15,74.27 L347.39,74.33 L346.64,74.39 L345.89,74.44 L345.14,74.50 L344.38,74.55 L343.63,74.61 L342.88,74.66 L342.13,74.71 L341.37,74.76 L340.62,74.81 L339.87,74.85 L339.12,74.90 L338.36,74.94 L337.61,74.98 L336.86,75.02 L336.11,75.06 L335.35,75.09 L334.60,75.12 L333.85,75.15 L333.10,75.17 L332.35,75.19 L331.59,75.21 L330.84,75.23 L330.09,75.25 L329.34,75.27 L328.58,75.29 L327.83,75.32 L327.08,75.35 L326.33,75.38 L325.57,75.42 L324.82,75.47 L324.07,75.52 L323.32,75.59 L322.56,75.66 L321.81,75.75 L321.06,75.84 L320.31,75.95 L319.55,76.07 L318.80,76.20 L318.05,76.35 L317.30,76.52 L316.54,76.70 L315.79,76.91 L315.04,77.13 L314.29,77.37 L313.53,77.63 L312.78,77.91 L312.03,78.22 L311.28,78.55 L310.52,78.90 L309.77,79.28 L309.02,79.68 L308.27,80.12 L307.51,80.58 L306.76,81.07 L306.01,81.59 L305.26,82.14 L304.50,82.72 L303.75,83.34 L303.00,83.99 Z" fill="#f7b3c0"/>
<line x1="303.00" y1="51.60" x2="426.10" y2="51.60" stroke="#2a52a8" stroke-width="1.00" stroke-opacity="1.00"/>
<path d="M303.00,70.24 L303.75,70.48 L304.50,70.70 L305.26,70.91 L306.01,71.12 L306.76,71.31 L307.51,71.49 L308.27,71.65 L309.02,71.81 L309.77,71.96 L310.52,72.10 L311.28,72.23 L312.03,72.35 L312.78,72.45 L313.53,72.55 L314.29,72.64 L315.04,72.73 L315.79,72.80 L316.54,72.86 L317.30,72.92 L318.05,72.97 L318.80,73.01 L319.55,73.04 L320.31,73.06 L321.06,73.08 L321.81,73.09 L322.56,73.09 L323.32,73.09 L324.07,73.08 L324.82,73.06 L325.57,73.04 L326.33,73.01 L327.08,72.97 L327.83,72.93 L328.58,72.88 L329.34,72.83 L330.09,72.78 L330.84,72.72 L331.59,72.65 L332.35,72.58 L333.10,72.50 L333.85,72.43 L334.60,72.34 L335.35,72.26 L336.11,72.17 L336.86,72.07 L337.61,71.98 L338.36,71.88 L339.12,71.78 L339.87,71.67 L340.62,71.57 L341.37,71.46 L342.13,71.35 L342.88,71.24 L343.63,71.12 L344.38,71.01 L345.14,70.89 L345.89,70.77 L346.64,70.65 L347.39,70.54 L348.15,70.42 L348.90,70.30 L349.65,70.18 L350.40,70.06 L351.16,69.94 L351.91,69.82 L352.66,69.71 L353.41,69.59 L354.17,69.48 L354.92,69.36 L355.67,69.25 L356.42,69.14 L357.18,69.03 L357.93,68.93 L358.68,68.82 L359.43,68.72 L360.19,68.62 L360.94,68.53 L361.69,68.44 L362.44,68.35 L363.20,68.26 L363.95,68.17 L364.70,68.09 L365.45,68.01 L366.20,67.92 L366.96,67.84 L367.71,67.76 L368.46,67.68 L369.21,67.60 L369.97,67.52 L370.72,67.44 L371.47,67.35 L372.22,67.27 L372.98,67.18 L373.73,67.09 L374.48,67.00 L375.23,66.91 L375.99,66.81 L376.74,66.71 L377.49,66.61 L378.24,66.50 L379.00,66.39 L379.75,66.27 L380.50,66.15 L381.25,66.02 L382.01,65.89 L382.76,65.75 L383.51,65.60 L384.26,65.45 L385.02,65.30 L385.77,65.13 L386.52,64.96 L387.27,64.78 L388.03,64.59 L388.78,64.39 L389.53,64.19 L390.28,63.98 L391.04,63.75 L391.79,63.52 L392.54,63.28 L393.29,63.03 L394.05,62.76 L394.80,62.49 L395.55,62.20 L396.30,61.91 L397.05,61.60 L397.81,61.28 L398.56,60.95 L399.31,60.60 L400.06,60.25 L400.82,59.88 L401.57,59.49 L402.32,59.09 L403.07,58.68 L403.83,58.25 L404.58,57.81 L405.33,57.35 L406.08,56.88 L406.84,56.39 L407.59,55.89 L408.34,55.37 L409.09,54.83 L409.85,54.28 L410.60,53.70 L411.35,53.11 L412.10,52.51 L412.86,51.88 L413.61,51.24 L414.36,50.58 L415.11,49.89 L415.87,49.19 L416.62,48.47 L417.37,47.73 L418.12,46.97 L418.88,46.19 L419.63,45.38 L420.38,44.56 L421.13,43.71 L421.89,42.85 L422.64,41.96 L423.39,41.04 L424.14,40.11 L424.90,39.15 L425.65,38.17 L426.40,37.16" fill="none" stroke="#ee1c24" stroke-width="1.1"/>
<line x1="414.40" y1="21.30" x2="414.40" y2="83.40" stroke="#666" stroke-width="0.55" stroke-dasharray="3.6,1.5" stroke-dashoffset="-1.4"/>
</g>
<text x="413.60" y="49.00" font-size="3.40" text-anchor="end" fill="#333">1996</text>
<line x1="312.00" y1="33.00" x2="323.60" y2="33.00" stroke="#ff9aa6" stroke-width="1.80"/>
<line x1="312.00" y1="39.50" x2="323.60" y2="39.50" stroke="#2850a8" stroke-width="1.1"/>
<text x="326.60" y="34.20" font-size="3.40" fill="#333" stroke="#333" stroke-width="0.09" stroke-linejoin="round">Signal</text>
<text x="326.60" y="40.70" font-size="3.40" fill="#333" stroke="#333" stroke-width="0.09" stroke-linejoin="round">Noise</text>
<path d="M302.55,83.40H426.55M303.00,21.30V83.40M426.10,21.30V83.40" fill="none" stroke="#8a8a8a" stroke-width="0.9"/>
<path d="M302.55,21.30H426.55" fill="none" stroke="#d8d8d8" stroke-width="0.9"/>
<path d="M310.55,83.40v2.80M310.55,21.30v-2.80M333.21,83.40v2.80M333.21,21.30v-2.80M355.87,83.40v2.80M355.87,21.30v-2.80M378.52,83.40v2.80M378.52,21.30v-2.80M401.18,83.40v2.80M401.18,21.30v-2.80M423.83,83.40v2.80M423.83,21.30v-2.80M303.00,83.40h-2.80M426.10,83.40h2.80M303.00,73.05h-2.80M426.10,73.05h2.80M303.00,62.70h-2.80M426.10,62.70h2.80M303.00,52.35h-2.80M426.10,52.35h2.80M303.00,42.00h-2.80M426.10,42.00h2.80M303.00,31.65h-2.80M426.10,31.65h2.80M303.00,21.30h-2.80M426.10,21.30h2.80" stroke="#222" stroke-width="0.8" fill="none"/>
<path d="M303.00,83.40v1.40M303.00,21.30v-1.40M318.10,83.40v1.40M318.10,21.30v-1.40M325.66,83.40v1.40M325.66,21.30v-1.40M340.76,83.40v1.40M340.76,21.30v-1.40M348.31,83.40v1.40M348.31,21.30v-1.40M363.42,83.40v1.40M363.42,21.30v-1.40M370.97,83.40v1.40M370.97,21.30v-1.40M386.07,83.40v1.40M386.07,21.30v-1.40M393.63,83.40v1.40M393.63,21.30v-1.40M408.73,83.40v1.40M408.73,21.30v-1.40M416.28,83.40v1.40M416.28,21.30v-1.40M303.00,80.81h-1.40M426.10,80.81h1.40M303.00,78.23h-1.40M426.10,78.23h1.40M303.00,75.64h-1.40M426.10,75.64h1.40M303.00,70.46h-1.40M426.10,70.46h1.40M303.00,67.88h-1.40M426.10,67.88h1.40M303.00,65.29h-1.40M426.10,65.29h1.40M303.00,60.11h-1.40M426.10,60.11h1.40M303.00,57.53h-1.40M426.10,57.53h1.40M303.00,54.94h-1.40M426.10,54.94h1.40M303.00,49.76h-1.40M426.10,49.76h1.40M303.00,47.17h-1.40M426.10,47.17h1.40M303.00,44.59h-1.40M426.10,44.59h1.40M303.00,39.41h-1.40M426.10,39.41h1.40M303.00,36.83h-1.40M426.10,36.83h1.40M303.00,34.24h-1.40M426.10,34.24h1.40M303.00,29.06h-1.40M426.10,29.06h1.40M303.00,26.47h-1.40M426.10,26.47h1.40M303.00,23.89h-1.40M426.10,23.89h1.40" stroke="#666" stroke-width="0.6" fill="none"/>
<text x="296.70" y="84.90" font-size="4.25" font-weight="bold" text-anchor="end" fill="#111" stroke="#111" stroke-width="0.04" stroke-linejoin="round">-0.4</text>
<text x="296.70" y="74.55" font-size="4.25" font-weight="bold" text-anchor="end" fill="#111" stroke="#111" stroke-width="0.04" stroke-linejoin="round">0.0</text>
<text x="296.70" y="64.20" font-size="4.25" font-weight="bold" text-anchor="end" fill="#111" stroke="#111" stroke-width="0.04" stroke-linejoin="round">0.4</text>
<text x="296.70" y="53.85" font-size="4.25" font-weight="bold" text-anchor="end" fill="#111" stroke="#111" stroke-width="0.04" stroke-linejoin="round">0.8</text>
<text x="296.70" y="43.50" font-size="4.25" font-weight="bold" text-anchor="end" fill="#111" stroke="#111" stroke-width="0.04" stroke-linejoin="round">1.2</text>
<text x="296.70" y="33.15" font-size="4.25" font-weight="bold" text-anchor="end" fill="#111" stroke="#111" stroke-width="0.04" stroke-linejoin="round">1.6</text>
<text x="296.70" y="22.80" font-size="4.25" font-weight="bold" text-anchor="end" fill="#111" stroke="#111" stroke-width="0.04" stroke-linejoin="round">2.0</text>
<text x="310.45" y="92.60" font-size="4.30" font-weight="bold" text-anchor="middle" fill="#111" stroke="#111" stroke-width="0.04" stroke-linejoin="round">1860</text>
<text x="333.11" y="92.60" font-size="4.30" font-weight="bold" text-anchor="middle" fill="#111" stroke="#111" stroke-width="0.04" stroke-linejoin="round">1890</text>
<text x="355.77" y="92.60" font-size="4.30" font-weight="bold" text-anchor="middle" fill="#111" stroke="#111" stroke-width="0.04" stroke-linejoin="round">1920</text>
<text x="378.42" y="92.60" font-size="4.30" font-weight="bold" text-anchor="middle" fill="#111" stroke="#111" stroke-width="0.04" stroke-linejoin="round">1950</text>
<text x="401.08" y="92.60" font-size="4.30" font-weight="bold" text-anchor="middle" fill="#111" stroke="#111" stroke-width="0.04" stroke-linejoin="round">1980</text>
<text x="423.73" y="92.60" font-size="4.30" font-weight="bold" text-anchor="middle" fill="#111" stroke="#111" stroke-width="0.04" stroke-linejoin="round">2010</text>
<text x="300.80" y="15.80" font-size="4.80" font-weight="bold" fill="#111">(c) 60-90°S</text>
<g clip-path="url(#c03)">
<rect x="448.60" y="28.00" width="123.10" height="29.50" fill="#a9d5e0"/>
<line x1="448.60" y1="45.00" x2="571.70" y2="45.00" stroke="#2a52b0" stroke-width="1.20" stroke-opacity="0.72"/>
<path d="M448.60,64.99 L449.35,65.41 L450.11,65.80 L450.86,66.17 L451.61,66.51 L452.36,66.83 L453.12,67.12 L453.87,67.40 L454.62,67.65 L455.37,67.88 L456.13,68.09 L456.88,68.27 L457.63,68.44 L458.38,68.59 L459.14,68.73 L459.89,68.84 L460.64,68.94 L461.39,69.02 L462.15,69.09 L462.90,69.14 L463.65,69.18 L464.40,69.20 L465.16,69.21 L465.91,69.21 L466.66,69.20 L467.41,69.17 L468.17,69.14 L468.92,69.09 L469.67,69.04 L470.42,68.98 L471.18,68.90 L471.93,68.83 L472.68,68.74 L473.43,68.65 L474.19,68.55 L474.94,68.45 L475.69,68.35 L476.44,68.24 L477.20,68.12 L477.95,68.01 L478.70,67.89 L479.45,67.77 L480.21,67.66 L480.96,67.54 L481.71,67.42 L482.46,67.30 L483.22,67.18 L483.97,67.06 L484.72,66.93 L485.47,66.81 L486.23,66.69 L486.98,66.56 L487.73,66.44 L488.48,66.31 L489.24,66.18 L489.99,66.05 L490.74,65.92 L491.49,65.79 L492.25,65.65 L493.00,65.52 L493.75,65.38 L494.50,65.24 L495.26,65.10 L496.01,64.96 L496.76,64.81 L497.51,64.66 L498.27,64.52 L499.02,64.36 L499.77,64.21 L500.52,64.05 L501.28,63.89 L502.03,63.73 L502.78,63.57 L503.53,63.40 L504.29,63.23 L505.04,63.06 L505.79,62.88 L506.54,62.70 L507.30,62.52 L508.05,62.34 L508.80,62.15 L509.56,61.96 L510.31,61.76 L511.06,61.56 L511.81,61.36 L512.57,61.15 L513.32,60.94 L514.07,60.73 L514.82,60.51 L515.58,60.29 L516.33,60.07 L517.08,59.84 L517.83,59.60 L518.59,59.36 L519.34,59.12 L520.09,58.88 L520.84,58.62 L521.60,58.37 L522.35,58.11 L523.10,57.84 L523.85,57.57 L524.61,57.30 L525.36,57.02 L526.11,56.73 L526.86,56.44 L527.62,56.14 L528.37,55.84 L529.12,55.54 L529.87,55.22 L530.63,54.91 L531.38,54.58 L532.13,54.25 L532.88,53.90 L533.64,53.55 L534.39,53.19 L535.14,52.82 L535.89,52.43 L536.65,52.04 L537.40,51.63 L538.15,51.21 L538.90,50.77 L539.66,50.32 L540.41,49.85 L541.16,49.37 L541.91,48.87 L542.67,48.36 L543.42,47.82 L544.17,47.27 L544.92,46.70 L545.68,46.10 L546.43,45.49 L547.18,44.85 L547.93,44.20 L548.69,43.51 L549.44,42.81 L550.19,42.08 L550.94,41.33 L551.70,40.55 L552.45,39.74 L553.20,38.91 L553.95,38.05 L554.71,37.17 L555.46,36.27 L556.21,35.34 L556.96,34.39 L557.72,33.42 L558.47,32.43 L559.22,31.42 L559.97,30.40 L560.73,29.36 L561.48,28.30 L562.23,27.24 L562.98,26.16 L563.74,25.07 L564.49,23.97 L565.24,22.86 L565.99,21.74 L566.75,20.62 L567.50,19.50 L574.70,17.50 L572.30,78.91 L571.55,79.11 L570.79,79.31 L570.04,79.51 L569.28,79.71 L568.53,79.91 L567.77,80.11 L567.02,80.32 L566.27,80.52 L565.51,80.73 L564.76,80.93 L564.00,81.14 L563.25,81.35 L562.49,81.56 L561.74,81.77 L560.99,81.98 L560.23,82.19 L559.48,82.40 L558.72,82.61 L557.97,82.82 L557.21,83.03 L556.46,83.25 L555.71,83.46 L554.95,83.67 L554.20,83.89 L553.44,84.10 L552.69,84.31 L551.93,84.53 L551.18,84.74 L550.43,84.95 L549.67,85.17 L548.92,85.38 L548.16,85.59 L547.41,85.81 L546.65,86.02 L545.90,86.23 L545.15,86.45 L544.39,86.66 L543.64,86.87 L542.88,87.08 L542.13,87.29 L541.38,87.50 L540.62,87.71 L539.87,87.92 L539.11,88.13 L538.36,88.34 L537.60,88.54 L536.85,88.75 L536.10,88.95 L535.34,89.16 L534.59,89.36 L533.83,89.56 L533.08,89.76 L532.32,89.96 L531.57,90.16 L530.82,90.36 L530.06,90.56 L529.31,90.75 L528.55,90.95 L527.80,91.14 L527.04,91.33 L526.29,91.52 L525.54,91.71 L524.78,91.89 L524.03,92.08 L523.27,92.26 L522.52,92.45 L521.76,92.63 L521.01,92.80 L520.26,92.98 L519.50,93.16 L518.75,93.33 L517.99,93.50 L517.24,93.67 L516.48,93.84 L515.73,94.00 L514.98,94.16 L514.22,94.32 L513.47,94.48 L512.71,94.64 L511.96,94.79 L511.20,94.94 L510.45,95.09 L509.70,95.24 L508.94,95.38 L508.19,95.53 L507.43,95.67 L506.68,95.80 L505.92,95.94 L505.17,96.07 L504.42,96.20 L503.66,96.32 L502.91,96.45 L502.15,96.57 L501.40,96.68 L500.64,96.80 L499.89,96.91 L499.14,97.02 L498.38,97.12 L497.63,97.22 L496.87,97.32 L496.12,97.42 L495.36,97.51 L494.61,97.60 L493.86,97.69 L493.10,97.77 L492.35,97.85 L491.59,97.92 L490.84,97.99 L490.08,98.06 L489.33,98.13 L488.58,98.19 L487.82,98.25 L487.07,98.30 L486.31,98.35 L485.56,98.39 L484.80,98.44 L484.05,98.47 L483.30,98.51 L482.54,98.54 L481.79,98.56 L481.03,98.59 L480.28,98.60 L479.52,98.62 L478.77,98.63 L478.02,98.63 L477.26,98.63 L476.51,98.63 L475.75,98.62 L475.00,98.61 L474.25,98.59 L473.49,98.57 L472.74,98.54 L471.98,98.51 L471.23,98.48 L470.47,98.44 L469.72,98.39 L468.97,98.34 L468.21,98.28 L467.46,98.23 L466.70,98.16 L465.95,98.09 L465.19,98.02 L464.44,97.94 L463.69,97.85 L462.93,97.76 L462.18,97.66 L461.42,97.56 L460.67,97.46 L459.91,97.35 L459.16,97.23 L458.41,97.11 L457.65,96.98 L456.90,96.85 L456.14,96.71 L455.39,96.56 L454.63,96.41 L453.88,96.26 L453.13,96.09 L452.37,95.93 L451.62,95.75 L450.86,95.57 L450.11,95.39 L449.35,95.20 L448.60,95.00 Z" fill="#f5a0b0" fill-opacity="0.80"/>
<path d="M448.60,70.22 L449.35,70.50 L450.11,70.77 L450.86,71.03 L451.62,71.27 L452.37,71.50 L453.13,71.71 L453.88,71.92 L454.63,72.11 L455.39,72.28 L456.14,72.45 L456.90,72.60 L457.65,72.75 L458.41,72.88 L459.16,73.00 L459.91,73.11 L460.67,73.21 L461.42,73.30 L462.18,73.38 L462.93,73.45 L463.69,73.51 L464.44,73.56 L465.19,73.60 L465.95,73.64 L466.70,73.66 L467.46,73.68 L468.21,73.69 L468.97,73.69 L469.72,73.68 L470.47,73.67 L471.23,73.65 L471.98,73.63 L472.74,73.59 L473.49,73.55 L474.25,73.51 L475.00,73.46 L475.75,73.40 L476.51,73.34 L477.26,73.27 L478.02,73.20 L478.77,73.13 L479.52,73.05 L480.28,72.96 L481.03,72.88 L481.79,72.79 L482.54,72.69 L483.30,72.60 L484.05,72.50 L484.80,72.40 L485.56,72.29 L486.31,72.19 L487.07,72.08 L487.82,71.97 L488.58,71.86 L489.33,71.75 L490.08,71.64 L490.84,71.53 L491.59,71.42 L492.35,71.30 L493.10,71.19 L493.86,71.08 L494.61,70.97 L495.36,70.86 L496.12,70.76 L496.87,70.65 L497.63,70.55 L498.38,70.45 L499.14,70.35 L499.89,70.25 L500.64,70.15 L501.40,70.06 L502.15,69.97 L502.91,69.89 L503.66,69.80 L504.42,69.72 L505.17,69.64 L505.92,69.55 L506.68,69.47 L507.43,69.39 L508.19,69.31 L508.94,69.24 L509.70,69.16 L510.45,69.08 L511.20,69.00 L511.96,68.91 L512.71,68.83 L513.47,68.75 L514.22,68.66 L514.98,68.58 L515.73,68.49 L516.48,68.40 L517.24,68.30 L517.99,68.21 L518.75,68.11 L519.50,68.00 L520.26,67.90 L521.01,67.79 L521.76,67.67 L522.52,67.55 L523.27,67.43 L524.03,67.30 L524.78,67.17 L525.54,67.03 L526.29,66.89 L527.04,66.74 L527.80,66.58 L528.55,66.42 L529.31,66.25 L530.06,66.08 L530.82,65.89 L531.57,65.71 L532.32,65.51 L533.08,65.30 L533.83,65.09 L534.59,64.87 L535.34,64.64 L536.10,64.41 L536.85,64.16 L537.60,63.91 L538.36,63.64 L539.11,63.37 L539.87,63.08 L540.62,62.79 L541.38,62.48 L542.13,62.17 L542.88,61.84 L543.64,61.50 L544.39,61.16 L545.15,60.80 L545.90,60.42 L546.65,60.04 L547.41,59.64 L548.16,59.23 L548.92,58.81 L549.67,58.38 L550.43,57.93 L551.18,57.47 L551.93,56.99 L552.69,56.50 L553.44,56.00 L554.20,55.48 L554.95,54.95 L555.71,54.40 L556.46,53.84 L557.21,53.26 L557.97,52.66 L558.72,52.05 L559.48,51.43 L560.23,50.78 L560.99,50.12 L561.74,49.45 L562.49,48.75 L563.25,48.04 L564.00,47.31 L564.76,46.56 L565.51,45.80 L566.27,45.02 L567.02,44.21 L567.77,43.39 L568.53,42.55 L569.28,41.69 L570.04,40.81 L570.79,39.91 L571.55,38.99 L572.30,38.05" fill="none" stroke="#ee1c24" stroke-width="1.1"/>
<line x1="566.60" y1="21.30" x2="566.60" y2="83.40" stroke="#666" stroke-width="0.55" stroke-dasharray="3.6,1.5" stroke-dashoffset="-1.4"/>
</g>
<text x="565.80" y="42.60" font-size="3.40" text-anchor="end" fill="#333">2007</text>
<line x1="457.60" y1="33.00" x2="469.20" y2="33.00" stroke="#ff9aa6" stroke-width="1.80"/>
<line x1="457.60" y1="39.50" x2="469.20" y2="39.50" stroke="#2850a8" stroke-width="1.1"/>
<text x="472.20" y="34.20" font-size="3.40" fill="#333" stroke="#333" stroke-width="0.09" stroke-linejoin="round">Signal</text>
<text x="472.20" y="40.70" font-size="3.40" fill="#333" stroke="#333" stroke-width="0.09" stroke-linejoin="round">Noise</text>
<path d="M448.15,83.40H572.15M448.60,21.30V83.40M571.70,21.30V83.40" fill="none" stroke="#8a8a8a" stroke-width="0.9"/>
<path d="M448.15,21.30H572.15" fill="none" stroke="#d8d8d8" stroke-width="0.9"/>
<path d="M456.15,83.40v2.80M456.15,21.30v-2.80M478.81,83.40v2.80M478.81,21.30v-2.80M501.47,83.40v2.80M501.47,21.30v-2.80M524.12,83.40v2.80M524.12,21.30v-2.80M546.78,83.40v2.80M546.78,21.30v-2.80M569.43,83.40v2.80M569.43,21.30v-2.80M448.60,83.40h-2.80M571.70,83.40h2.80M448.60,73.05h-2.80M571.70,73.05h2.80M448.60,62.70h-2.80M571.70,62.70h2.80M448.60,52.35h-2.80M571.70,52.35h2.80M448.60,42.00h-2.80M571.70,42.00h2.80M448.60,31.65h-2.80M571.70,31.65h2.80M448.60,21.30h-2.80M571.70,21.30h2.80" stroke="#222" stroke-width="0.8" fill="none"/>
<path d="M448.60,83.40v1.40M448.60,21.30v-1.40M463.70,83.40v1.40M463.70,21.30v-1.40M471.26,83.40v1.40M471.26,21.30v-1.40M486.36,83.40v1.40M486.36,21.30v-1.40M493.91,83.40v1.40M493.91,21.30v-1.40M509.02,83.40v1.40M509.02,21.30v-1.40M516.57,83.40v1.40M516.57,21.30v-1.40M531.67,83.40v1.40M531.67,21.30v-1.40M539.23,83.40v1.40M539.23,21.30v-1.40M554.33,83.40v1.40M554.33,21.30v-1.40M561.88,83.40v1.40M561.88,21.30v-1.40M448.60,80.81h-1.40M571.70,80.81h1.40M448.60,78.23h-1.40M571.70,78.23h1.40M448.60,75.64h-1.40M571.70,75.64h1.40M448.60,70.46h-1.40M571.70,70.46h1.40M448.60,67.88h-1.40M571.70,67.88h1.40M448.60,65.29h-1.40M571.70,65.29h1.40M448.60,60.11h-1.40M571.70,60.11h1.40M448.60,57.53h-1.40M571.70,57.53h1.40M448.60,54.94h-1.40M571.70,54.94h1.40M448.60,49.76h-1.40M571.70,49.76h1.40M448.60,47.17h-1.40M571.70,47.17h1.40M448.60,44.59h-1.40M571.70,44.59h1.40M448.60,39.41h-1.40M571.70,39.41h1.40M448.60,36.83h-1.40M571.70,36.83h1.40M448.60,34.24h-1.40M571.70,34.24h1.40M448.60,29.06h-1.40M571.70,29.06h1.40M448.60,26.47h-1.40M571.70,26.47h1.40M448.60,23.89h-1.40M571.70,23.89h1.40" stroke="#666" stroke-width="0.6" fill="none"/>
<text x="442.30" y="84.90" font-size="4.25" font-weight="bold" text-anchor="end" fill="#111" stroke="#111" stroke-width="0.04" stroke-linejoin="round">-0.4</text>
<text x="442.30" y="74.55" font-size="4.25" font-weight="bold" text-anchor="end" fill="#111" stroke="#111" stroke-width="0.04" stroke-linejoin="round">0.0</text>
<text x="442.30" y="64.20" font-size="4.25" font-weight="bold" text-anchor="end" fill="#111" stroke="#111" stroke-width="0.04" stroke-linejoin="round">0.4</text>
<text x="442.30" y="53.85" font-size="4.25" font-weight="bold" text-anchor="end" fill="#111" stroke="#111" stroke-width="0.04" stroke-linejoin="round">0.8</text>
<text x="442.30" y="43.50" font-size="4.25" font-weight="bold" text-anchor="end" fill="#111" stroke="#111" stroke-width="0.04" stroke-linejoin="round">1.2</text>
<text x="442.30" y="33.15" font-size="4.25" font-weight="bold" text-anchor="end" fill="#111" stroke="#111" stroke-width="0.04" stroke-linejoin="round">1.6</text>
<text x="442.30" y="22.80" font-size="4.25" font-weight="bold" text-anchor="end" fill="#111" stroke="#111" stroke-width="0.04" stroke-linejoin="round">2.0</text>
<text x="456.05" y="92.60" font-size="4.30" font-weight="bold" text-anchor="middle" fill="#111" stroke="#111" stroke-width="0.04" stroke-linejoin="round">1860</text>
<text x="478.71" y="92.60" font-size="4.30" font-weight="bold" text-anchor="middle" fill="#111" stroke="#111" stroke-width="0.04" stroke-linejoin="round">1890</text>
<text x="501.37" y="92.60" font-size="4.30" font-weight="bold" text-anchor="middle" fill="#111" stroke="#111" stroke-width="0.04" stroke-linejoin="round">1920</text>
<text x="524.02" y="92.60" font-size="4.30" font-weight="bold" text-anchor="middle" fill="#111" stroke="#111" stroke-width="0.04" stroke-linejoin="round">1950</text>
<text x="546.68" y="92.60" font-size="4.30" font-weight="bold" text-anchor="middle" fill="#111" stroke="#111" stroke-width="0.04" stroke-linejoin="round">1980</text>
<text x="569.33" y="92.60" font-size="4.30" font-weight="bold" text-anchor="middle" fill="#111" stroke="#111" stroke-width="0.04" stroke-linejoin="round">2010</text>
<text x="446.40" y="15.80" font-size="4.80" font-weight="bold" fill="#111">(d) 60-90°S</text>
<g clip-path="url(#c10)">
<rect x="13.00" y="134.20" width="123.10" height="4.00" fill="#a9d5e0"/>
<path d="M13.00,152.20 L13.77,152.71 L14.53,153.22 L15.30,153.72 L16.07,154.23 L16.83,154.74 L17.60,155.25 L18.37,155.76 L19.13,156.27 L19.90,156.78 L20.67,157.28 L21.43,157.79 L22.20,158.30 L22.95,158.05 L23.70,157.80 L24.46,157.56 L25.21,157.33 L25.96,157.12 L26.71,156.92 L27.46,156.73 L28.22,156.55 L28.97,156.39 L29.72,156.23 L30.47,156.09 L31.22,155.95 L31.98,155.83 L32.73,155.71 L33.48,155.60 L34.23,155.51 L34.98,155.42 L35.74,155.34 L36.49,155.26 L37.24,155.20 L37.99,155.14 L38.74,155.09 L39.50,155.05 L40.25,155.01 L41.00,154.98 L41.75,154.95 L42.50,154.93 L43.26,154.91 L44.01,154.90 L44.76,154.89 L45.51,154.89 L46.26,154.89 L47.02,154.90 L47.77,154.91 L48.52,154.92 L49.27,154.93 L50.02,154.95 L50.78,154.96 L51.53,154.98 L52.28,155.00 L53.03,155.02 L53.78,155.04 L54.53,155.06 L55.29,155.09 L56.04,155.10 L56.79,155.12 L57.54,155.13 L58.29,155.14 L59.05,155.15 L59.80,155.15 L60.55,155.14 L61.30,155.13 L62.05,155.11 L62.81,155.08 L63.56,155.05 L64.31,155.01 L65.06,154.95 L65.81,154.89 L66.57,154.81 L67.32,154.72 L68.07,154.62 L68.82,154.51 L69.57,154.38 L70.33,154.24 L71.08,154.08 L71.83,153.91 L72.58,153.72 L73.33,153.52 L74.09,153.31 L74.84,153.08 L75.59,152.84 L76.34,152.59 L77.09,152.33 L77.85,152.06 L78.60,151.77 L79.35,151.48 L80.10,151.19 L80.85,150.88 L81.61,150.57 L82.36,150.25 L83.11,149.93 L83.86,149.60 L84.61,149.26 L85.37,148.92 L86.12,148.58 L86.87,148.23 L87.62,147.87 L88.37,147.52 L89.13,147.16 L89.88,146.80 L90.63,146.43 L91.38,146.07 L92.13,145.70 L92.89,145.33 L93.64,144.96 L94.39,144.59 L95.14,144.23 L95.89,143.86 L96.65,143.49 L97.40,143.12 L98.15,142.75 L98.90,142.39 L99.65,142.02 L100.41,141.65 L101.16,141.28 L101.91,140.91 L102.66,140.53 L103.41,140.16 L104.17,139.78 L104.92,139.40 L105.67,139.02 L106.42,138.64 L107.17,138.25 L107.93,137.86 L108.68,137.46 L109.43,137.06 L110.18,136.66 L110.93,136.25 L111.68,135.83 L112.44,135.41 L113.19,134.98 L113.94,134.54 L114.69,134.10 L115.44,133.64 L116.20,133.18 L116.95,132.71 L117.70,132.22 L118.45,131.72 L119.20,131.21 L119.96,130.67 L120.71,130.12 L121.46,129.55 L122.21,128.96 L122.96,128.35 L123.72,127.71 L124.47,127.04 L125.22,126.35 L125.97,125.62 L126.72,124.87 L127.48,124.08 L128.23,123.26 L128.98,122.40 L129.73,121.51 L130.48,120.57 L131.24,119.60 L131.99,118.58 L132.74,117.53 L133.49,116.42 L134.24,115.27 L135.00,114.07 L135.75,112.82 L136.50,111.52 L136.50,131.82 L135.75,132.87 L135.00,133.88 L134.24,134.86 L133.49,135.79 L132.74,136.68 L131.99,137.54 L131.24,138.36 L130.48,139.15 L129.73,139.90 L128.98,140.62 L128.23,141.31 L127.48,141.97 L126.72,142.60 L125.97,143.21 L125.22,143.79 L124.47,144.34 L123.72,144.87 L122.96,145.38 L122.21,145.87 L121.46,146.34 L120.71,146.78 L119.96,147.22 L119.20,147.63 L118.45,148.03 L117.70,148.42 L116.95,148.79 L116.20,149.15 L115.44,149.51 L114.69,149.85 L113.94,150.18 L113.19,150.51 L112.44,150.83 L111.68,151.14 L110.93,151.44 L110.18,151.74 L109.43,152.02 L108.68,152.30 L107.93,152.57 L107.17,152.83 L106.42,153.09 L105.67,153.33 L104.92,153.57 L104.17,153.80 L103.41,154.03 L102.66,154.25 L101.91,154.46 L101.16,154.66 L100.41,154.86 L99.65,155.05 L98.90,155.23 L98.15,155.41 L97.40,155.58 L96.65,155.74 L95.89,155.90 L95.14,156.05 L94.39,156.19 L93.64,156.33 L92.89,156.46 L92.13,156.59 L91.38,156.71 L90.63,156.83 L89.88,156.94 L89.13,157.05 L88.37,157.16 L87.62,157.26 L86.87,157.35 L86.12,157.45 L85.37,157.54 L84.61,157.62 L83.86,157.71 L83.11,157.79 L82.36,157.87 L81.61,157.95 L80.85,158.03 L80.10,158.10 L79.35,158.18 L78.60,158.25 L77.85,158.32 L77.09,158.39 L76.34,158.46 L75.59,158.53 L74.84,158.60 L74.09,158.67 L73.33,158.74 L72.58,158.81 L71.83,158.88 L71.08,158.95 L70.33,159.02 L69.57,159.09 L68.82,159.16 L68.07,159.22 L67.32,159.29 L66.57,159.36 L65.81,159.43 L65.06,159.51 L64.31,159.58 L63.56,159.65 L62.81,159.72 L62.05,159.80 L61.30,159.87 L60.55,159.95 L59.80,160.03 L59.05,160.11 L58.29,160.19 L57.54,160.27 L56.79,160.35 L56.04,160.44 L55.29,160.52 L54.53,160.61 L53.78,160.70 L53.03,160.80 L52.28,160.89 L51.53,160.99 L50.78,161.08 L50.02,161.18 L49.27,161.28 L48.52,161.38 L47.77,161.47 L47.02,161.57 L46.26,161.66 L45.51,161.75 L44.76,161.83 L44.01,161.91 L43.26,161.99 L42.50,162.06 L41.75,162.12 L41.00,162.17 L40.25,162.22 L39.50,162.26 L38.74,162.29 L37.99,162.31 L37.24,162.32 L36.49,162.32 L35.74,162.31 L34.98,162.29 L34.23,162.25 L33.48,162.20 L32.73,162.13 L31.98,162.05 L31.22,161.96 L30.47,161.85 L29.72,161.72 L28.97,161.58 L28.22,161.41 L27.46,161.23 L26.71,161.03 L25.96,160.81 L25.21,160.57 L24.46,160.31 L23.70,160.02 L22.95,159.72 L22.20,159.40 L21.43,159.77 L20.67,160.13 L19.90,160.50 L19.13,160.87 L18.37,161.23 L17.60,161.60 L16.83,161.97 L16.07,162.33 L15.30,162.70 L14.53,163.07 L13.77,163.43 L13.00,163.80 Z" fill="#f7b3c0"/>
<line x1="13.00" y1="136.20" x2="136.10" y2="136.20" stroke="#2a52a8" stroke-width="1.00" stroke-opacity="1.00"/>
<path d="M13.00,157.03 L13.75,157.23 L14.51,157.42 L15.26,157.61 L16.01,157.79 L16.77,157.96 L17.52,158.12 L18.27,158.28 L19.02,158.42 L19.78,158.57 L20.53,158.70 L21.28,158.82 L22.04,158.94 L22.79,159.05 L23.54,159.16 L24.30,159.25 L25.05,159.34 L25.80,159.43 L26.55,159.51 L27.31,159.58 L28.06,159.64 L28.81,159.70 L29.57,159.75 L30.32,159.80 L31.07,159.84 L31.83,159.87 L32.58,159.90 L33.33,159.92 L34.09,159.94 L34.84,159.95 L35.59,159.96 L36.34,159.96 L37.10,159.96 L37.85,159.95 L38.60,159.93 L39.36,159.92 L40.11,159.89 L40.86,159.86 L41.62,159.83 L42.37,159.79 L43.12,159.75 L43.88,159.71 L44.63,159.66 L45.38,159.60 L46.13,159.55 L46.89,159.48 L47.64,159.42 L48.39,159.35 L49.15,159.28 L49.90,159.20 L50.65,159.12 L51.41,159.04 L52.16,158.95 L52.91,158.86 L53.66,158.77 L54.42,158.68 L55.17,158.58 L55.92,158.48 L56.68,158.38 L57.43,158.27 L58.18,158.16 L58.94,158.05 L59.69,157.94 L60.44,157.83 L61.20,157.71 L61.95,157.59 L62.70,157.48 L63.45,157.35 L64.21,157.23 L64.96,157.11 L65.71,156.98 L66.47,156.86 L67.22,156.73 L67.97,156.60 L68.73,156.47 L69.48,156.34 L70.23,156.21 L70.98,156.08 L71.74,155.94 L72.49,155.81 L73.24,155.68 L74.00,155.54 L74.75,155.40 L75.50,155.27 L76.26,155.13 L77.01,154.99 L77.76,154.85 L78.52,154.70 L79.27,154.56 L80.02,154.41 L80.77,154.26 L81.53,154.11 L82.28,153.95 L83.03,153.79 L83.79,153.63 L84.54,153.47 L85.29,153.30 L86.05,153.13 L86.80,152.96 L87.55,152.79 L88.30,152.61 L89.06,152.42 L89.81,152.24 L90.56,152.05 L91.32,151.85 L92.07,151.65 L92.82,151.45 L93.58,151.24 L94.33,151.03 L95.08,150.81 L95.84,150.58 L96.59,150.36 L97.34,150.12 L98.09,149.89 L98.85,149.64 L99.60,149.39 L100.35,149.14 L101.11,148.88 L101.86,148.61 L102.61,148.34 L103.37,148.06 L104.12,147.77 L104.87,147.48 L105.62,147.18 L106.38,146.87 L107.13,146.56 L107.88,146.24 L108.64,145.91 L109.39,145.58 L110.14,145.23 L110.90,144.88 L111.65,144.52 L112.40,144.16 L113.16,143.78 L113.91,143.40 L114.66,143.01 L115.41,142.61 L116.17,142.21 L116.92,141.79 L117.67,141.36 L118.43,140.92 L119.18,140.46 L119.93,140.00 L120.69,139.51 L121.44,139.01 L122.19,138.50 L122.95,137.96 L123.70,137.41 L124.45,136.83 L125.20,136.24 L125.96,135.62 L126.71,134.97 L127.46,134.30 L128.22,133.61 L128.97,132.88 L129.72,132.11 L130.48,131.31 L131.23,130.47 L131.98,129.59 L132.73,128.66 L133.49,127.68 L134.24,126.64 L134.99,125.56 L135.75,124.41 L136.50,123.21" fill="none" stroke="#ee1c24" stroke-width="1.1"/>
<line x1="126.40" y1="105.50" x2="126.40" y2="167.20" stroke="#666" stroke-width="0.55" stroke-dasharray="3.6,1.5" stroke-dashoffset="-1.4"/>
</g>
<text x="125.60" y="133.60" font-size="3.40" text-anchor="end" fill="#333">2001</text>
<line x1="22.00" y1="117.20" x2="33.60" y2="117.20" stroke="#ff9aa6" stroke-width="1.80"/>
<line x1="22.00" y1="123.70" x2="33.60" y2="123.70" stroke="#4068b8" stroke-width="1.1"/>
<text x="36.60" y="118.40" font-size="3.40" fill="#333" stroke="#333" stroke-width="0.09" stroke-linejoin="round">Signal</text>
<text x="36.60" y="124.90" font-size="3.40" fill="#333" stroke="#333" stroke-width="0.09" stroke-linejoin="round">Noise</text>
<path d="M12.55,167.20H136.55M13.00,105.50V167.20M136.10,105.50V167.20" fill="none" stroke="#8a8a8a" stroke-width="0.9"/>
<path d="M12.55,105.50H136.55" fill="none" stroke="#8a8a8a" stroke-width="0.9"/>
<path d="M20.55,167.20v2.80M20.55,105.50v-2.80M43.21,167.20v2.80M43.21,105.50v-2.80M65.87,167.20v2.80M65.87,105.50v-2.80M88.52,167.20v2.80M88.52,105.50v-2.80M111.18,167.20v2.80M111.18,105.50v-2.80M133.83,167.20v2.80M133.83,105.50v-2.80M13.00,167.20h-2.80M136.10,167.20h2.80M13.00,156.92h-2.80M136.10,156.92h2.80M13.00,146.63h-2.80M136.10,146.63h2.80M13.00,136.35h-2.80M136.10,136.35h2.80M13.00,126.07h-2.80M136.10,126.07h2.80M13.00,115.78h-2.80M136.10,115.78h2.80M13.00,105.50h-2.80M136.10,105.50h2.80" stroke="#222" stroke-width="0.8" fill="none"/>
<path d="M13.00,167.20v1.40M13.00,105.50v-1.40M28.10,167.20v1.40M28.10,105.50v-1.40M35.66,167.20v1.40M35.66,105.50v-1.40M50.76,167.20v1.40M50.76,105.50v-1.40M58.31,167.20v1.40M58.31,105.50v-1.40M73.42,167.20v1.40M73.42,105.50v-1.40M80.97,167.20v1.40M80.97,105.50v-1.40M96.07,167.20v1.40M96.07,105.50v-1.40M103.63,167.20v1.40M103.63,105.50v-1.40M118.73,167.20v1.40M118.73,105.50v-1.40M126.28,167.20v1.40M126.28,105.50v-1.40M13.00,164.63h-1.40M136.10,164.63h1.40M13.00,162.06h-1.40M136.10,162.06h1.40M13.00,159.49h-1.40M136.10,159.49h1.40M13.00,154.35h-1.40M136.10,154.35h1.40M13.00,151.77h-1.40M136.10,151.77h1.40M13.00,149.20h-1.40M136.10,149.20h1.40M13.00,144.06h-1.40M136.10,144.06h1.40M13.00,141.49h-1.40M136.10,141.49h1.40M13.00,138.92h-1.40M136.10,138.92h1.40M13.00,133.78h-1.40M136.10,133.78h1.40M13.00,131.21h-1.40M136.10,131.21h1.40M13.00,128.64h-1.40M136.10,128.64h1.40M13.00,123.50h-1.40M136.10,123.50h1.40M13.00,120.92h-1.40M136.10,120.92h1.40M13.00,118.35h-1.40M136.10,118.35h1.40M13.00,113.21h-1.40M136.10,113.21h1.40M13.00,110.64h-1.40M136.10,110.64h1.40M13.00,108.07h-1.40M136.10,108.07h1.40" stroke="#666" stroke-width="0.6" fill="none"/>
<text x="6.70" y="168.70" font-size="4.25" font-weight="bold" text-anchor="end" fill="#111" stroke="#111" stroke-width="0.04" stroke-linejoin="round">-0.4</text>
<text x="6.70" y="158.42" font-size="4.25" font-weight="bold" text-anchor="end" fill="#111" stroke="#111" stroke-width="0.04" stroke-linejoin="round">0.0</text>
<text x="6.70" y="148.13" font-size="4.25" font-weight="bold" text-anchor="end" fill="#111" stroke="#111" stroke-width="0.04" stroke-linejoin="round">0.4</text>
<text x="6.70" y="137.85" font-size="4.25" font-weight="bold" text-anchor="end" fill="#111" stroke="#111" stroke-width="0.04" stroke-linejoin="round">0.8</text>
<text x="6.70" y="127.57" font-size="4.25" font-weight="bold" text-anchor="end" fill="#111" stroke="#111" stroke-width="0.04" stroke-linejoin="round">1.2</text>
<text x="6.70" y="117.28" font-size="4.25" font-weight="bold" text-anchor="end" fill="#111" stroke="#111" stroke-width="0.04" stroke-linejoin="round">1.6</text>
<text x="6.70" y="107.00" font-size="4.25" font-weight="bold" text-anchor="end" fill="#111" stroke="#111" stroke-width="0.04" stroke-linejoin="round">2.0</text>
<text x="20.45" y="176.40" font-size="4.30" font-weight="bold" text-anchor="middle" fill="#111" stroke="#111" stroke-width="0.04" stroke-linejoin="round">1860</text>
<text x="43.11" y="176.40" font-size="4.30" font-weight="bold" text-anchor="middle" fill="#111" stroke="#111" stroke-width="0.04" stroke-linejoin="round">1890</text>
<text x="65.77" y="176.40" font-size="4.30" font-weight="bold" text-anchor="middle" fill="#111" stroke="#111" stroke-width="0.04" stroke-linejoin="round">1920</text>
<text x="88.42" y="176.40" font-size="4.30" font-weight="bold" text-anchor="middle" fill="#111" stroke="#111" stroke-width="0.04" stroke-linejoin="round">1950</text>
<text x="111.08" y="176.40" font-size="4.30" font-weight="bold" text-anchor="middle" fill="#111" stroke="#111" stroke-width="0.04" stroke-linejoin="round">1980</text>
<text x="133.73" y="176.40" font-size="4.30" font-weight="bold" text-anchor="middle" fill="#111" stroke="#111" stroke-width="0.04" stroke-linejoin="round">2010</text>
<text x="10.80" y="100.00" font-size="4.80" font-weight="bold" fill="#111">(e) 30-60°N</text>
<g clip-path="url(#c11)">
<rect x="158.00" y="138.80" width="123.10" height="4.40" fill="#a9d5e0"/>
<path d="M158.00,153.20 L158.77,153.57 L159.53,153.95 L160.30,154.32 L161.07,154.70 L161.83,155.07 L162.60,155.45 L163.37,155.82 L164.13,156.20 L164.90,156.57 L165.67,156.95 L166.43,157.32 L167.20,157.70 L167.95,157.48 L168.70,157.28 L169.45,157.08 L170.20,156.90 L170.95,156.73 L171.70,156.57 L172.45,156.42 L173.20,156.27 L173.95,156.14 L174.70,156.02 L175.45,155.91 L176.20,155.81 L176.95,155.71 L177.70,155.63 L178.45,155.55 L179.21,155.48 L179.96,155.41 L180.71,155.35 L181.46,155.30 L182.21,155.25 L182.96,155.21 L183.71,155.18 L184.46,155.15 L185.21,155.12 L185.96,155.10 L186.71,155.08 L187.46,155.06 L188.21,155.05 L188.96,155.04 L189.71,155.03 L190.46,155.03 L191.21,155.02 L191.96,155.02 L192.71,155.01 L193.46,155.01 L194.21,155.01 L194.96,155.01 L195.71,155.00 L196.46,155.00 L197.21,154.99 L197.96,154.99 L198.71,154.98 L199.46,154.97 L200.21,154.95 L200.96,154.94 L201.72,154.92 L202.47,154.90 L203.22,154.87 L203.97,154.85 L204.72,154.82 L205.47,154.78 L206.22,154.75 L206.97,154.71 L207.72,154.66 L208.47,154.62 L209.22,154.57 L209.97,154.51 L210.72,154.45 L211.47,154.39 L212.22,154.32 L212.97,154.25 L213.72,154.18 L214.47,154.10 L215.22,154.01 L215.97,153.92 L216.72,153.83 L217.47,153.73 L218.22,153.62 L218.97,153.51 L219.72,153.40 L220.47,153.27 L221.22,153.15 L221.97,153.01 L222.72,152.87 L223.47,152.73 L224.22,152.58 L224.98,152.42 L225.73,152.26 L226.48,152.09 L227.23,151.91 L227.98,151.73 L228.73,151.55 L229.48,151.35 L230.23,151.15 L230.98,150.95 L231.73,150.74 L232.48,150.52 L233.23,150.30 L233.98,150.07 L234.73,149.83 L235.48,149.59 L236.23,149.34 L236.98,149.09 L237.73,148.83 L238.48,148.56 L239.23,148.29 L239.98,148.01 L240.73,147.73 L241.48,147.43 L242.23,147.14 L242.98,146.83 L243.73,146.52 L244.48,146.21 L245.23,145.89 L245.98,145.56 L246.73,145.22 L247.48,144.88 L248.24,144.54 L248.99,144.18 L249.74,143.82 L250.49,143.46 L251.24,143.09 L251.99,142.71 L252.74,142.32 L253.49,141.93 L254.24,141.53 L254.99,141.13 L255.74,140.72 L256.49,140.30 L257.24,139.88 L257.99,139.45 L258.74,139.02 L259.49,138.58 L260.24,138.13 L260.99,137.67 L261.74,137.21 L262.49,136.75 L263.24,136.27 L263.99,135.79 L264.74,135.31 L265.49,134.81 L266.24,134.31 L266.99,133.81 L267.74,133.29 L268.49,132.78 L269.24,132.25 L269.99,131.72 L270.75,131.18 L271.50,130.64 L272.25,130.08 L273.00,129.53 L273.75,128.96 L274.50,128.39 L275.25,127.81 L276.00,127.23 L276.75,126.64 L277.50,126.04 L278.25,125.44 L279.00,124.83 L279.75,124.21 L280.50,123.59 L281.25,122.96 L282.00,122.32 L282.00,143.99 L281.25,144.45 L280.50,144.90 L279.75,145.34 L279.00,145.78 L278.25,146.20 L277.50,146.62 L276.75,147.02 L276.00,147.42 L275.25,147.80 L274.50,148.18 L273.75,148.55 L273.00,148.91 L272.25,149.26 L271.50,149.60 L270.75,149.93 L269.99,150.26 L269.24,150.58 L268.49,150.88 L267.74,151.19 L266.99,151.48 L266.24,151.77 L265.49,152.04 L264.74,152.31 L263.99,152.58 L263.24,152.83 L262.49,153.08 L261.74,153.32 L260.99,153.56 L260.24,153.79 L259.49,154.01 L258.74,154.23 L257.99,154.43 L257.24,154.64 L256.49,154.83 L255.74,155.02 L254.99,155.21 L254.24,155.39 L253.49,155.56 L252.74,155.73 L251.99,155.89 L251.24,156.05 L250.49,156.20 L249.74,156.35 L248.99,156.49 L248.24,156.63 L247.48,156.76 L246.73,156.89 L245.98,157.01 L245.23,157.13 L244.48,157.24 L243.73,157.36 L242.98,157.46 L242.23,157.56 L241.48,157.66 L240.73,157.76 L239.98,157.85 L239.23,157.94 L238.48,158.03 L237.73,158.11 L236.98,158.19 L236.23,158.26 L235.48,158.34 L234.73,158.41 L233.98,158.48 L233.23,158.54 L232.48,158.61 L231.73,158.67 L230.98,158.73 L230.23,158.79 L229.48,158.84 L228.73,158.90 L227.98,158.95 L227.23,159.00 L226.48,159.05 L225.73,159.10 L224.98,159.15 L224.22,159.19 L223.47,159.24 L222.72,159.28 L221.97,159.33 L221.22,159.37 L220.47,159.42 L219.72,159.46 L218.97,159.50 L218.22,159.55 L217.47,159.59 L216.72,159.63 L215.97,159.67 L215.22,159.71 L214.47,159.75 L213.72,159.80 L212.97,159.84 L212.22,159.88 L211.47,159.92 L210.72,159.96 L209.97,160.00 L209.22,160.04 L208.47,160.09 L207.72,160.13 L206.97,160.17 L206.22,160.21 L205.47,160.25 L204.72,160.30 L203.97,160.34 L203.22,160.39 L202.47,160.43 L201.72,160.48 L200.96,160.52 L200.21,160.57 L199.46,160.61 L198.71,160.66 L197.96,160.71 L197.21,160.76 L196.46,160.81 L195.71,160.86 L194.96,160.91 L194.21,160.96 L193.46,161.00 L192.71,161.05 L191.96,161.10 L191.21,161.14 L190.46,161.18 L189.71,161.22 L188.96,161.25 L188.21,161.28 L187.46,161.31 L186.71,161.33 L185.96,161.35 L185.21,161.37 L184.46,161.37 L183.71,161.38 L182.96,161.37 L182.21,161.36 L181.46,161.34 L180.71,161.32 L179.96,161.29 L179.21,161.25 L178.45,161.20 L177.70,161.14 L176.95,161.08 L176.20,161.00 L175.45,160.92 L174.70,160.82 L173.95,160.71 L173.20,160.60 L172.45,160.47 L171.70,160.33 L170.95,160.18 L170.20,160.01 L169.45,159.83 L168.70,159.64 L167.95,159.44 L167.20,159.20 L166.43,159.32 L165.67,159.43 L164.90,159.55 L164.13,159.67 L163.37,159.78 L162.60,159.90 L161.83,160.02 L161.07,160.13 L160.30,160.25 L159.53,160.37 L158.77,160.48 L158.00,160.60 Z" fill="#f7b3c0"/>
<line x1="158.00" y1="141.40" x2="281.10" y2="141.40" stroke="#2a52a8" stroke-width="1.00" stroke-opacity="1.00"/>
<path d="M158.00,156.85 L158.75,156.99 L159.50,157.13 L160.25,157.26 L161.01,157.39 L161.76,157.50 L162.51,157.62 L163.26,157.72 L164.01,157.82 L164.76,157.92 L165.52,158.01 L166.27,158.09 L167.02,158.17 L167.77,158.24 L168.52,158.31 L169.27,158.37 L170.02,158.43 L170.78,158.48 L171.53,158.52 L172.28,158.57 L173.03,158.60 L173.78,158.64 L174.53,158.66 L175.28,158.69 L176.04,158.71 L176.79,158.72 L177.54,158.73 L178.29,158.74 L179.04,158.74 L179.79,158.74 L180.55,158.74 L181.30,158.73 L182.05,158.72 L182.80,158.70 L183.55,158.68 L184.30,158.66 L185.05,158.64 L185.81,158.61 L186.56,158.58 L187.31,158.54 L188.06,158.50 L188.81,158.46 L189.56,158.42 L190.32,158.38 L191.07,158.33 L191.82,158.28 L192.57,158.23 L193.32,158.18 L194.07,158.12 L194.82,158.06 L195.58,158.00 L196.33,157.94 L197.08,157.88 L197.83,157.81 L198.58,157.75 L199.33,157.68 L200.08,157.61 L200.84,157.54 L201.59,157.47 L202.34,157.40 L203.09,157.33 L203.84,157.25 L204.59,157.18 L205.35,157.10 L206.10,157.03 L206.85,156.95 L207.60,156.88 L208.35,156.80 L209.10,156.72 L209.85,156.65 L210.61,156.57 L211.36,156.50 L212.11,156.42 L212.86,156.34 L213.61,156.27 L214.36,156.20 L215.12,156.12 L215.87,156.05 L216.62,155.98 L217.37,155.91 L218.12,155.84 L218.87,155.77 L219.62,155.69 L220.38,155.62 L221.13,155.55 L221.88,155.48 L222.63,155.41 L223.38,155.34 L224.13,155.27 L224.88,155.20 L225.64,155.12 L226.39,155.05 L227.14,154.97 L227.89,154.89 L228.64,154.81 L229.39,154.73 L230.15,154.65 L230.90,154.56 L231.65,154.47 L232.40,154.38 L233.15,154.29 L233.90,154.19 L234.65,154.09 L235.41,153.99 L236.16,153.88 L236.91,153.77 L237.66,153.66 L238.41,153.54 L239.16,153.42 L239.92,153.29 L240.67,153.16 L241.42,153.03 L242.17,152.89 L242.92,152.74 L243.67,152.60 L244.42,152.44 L245.18,152.28 L245.93,152.12 L246.68,151.95 L247.43,151.77 L248.18,151.59 L248.93,151.40 L249.68,151.21 L250.44,151.00 L251.19,150.80 L251.94,150.58 L252.69,150.36 L253.44,150.13 L254.19,149.90 L254.95,149.65 L255.70,149.40 L256.45,149.14 L257.20,148.88 L257.95,148.60 L258.70,148.32 L259.45,148.03 L260.21,147.73 L260.96,147.42 L261.71,147.10 L262.46,146.78 L263.21,146.44 L263.96,146.10 L264.72,145.74 L265.47,145.38 L266.22,145.00 L266.97,144.62 L267.72,144.23 L268.47,143.82 L269.22,143.41 L269.98,142.98 L270.73,142.54 L271.48,142.10 L272.23,141.64 L272.98,141.17 L273.73,140.68 L274.48,140.19 L275.24,139.69 L275.99,139.17 L276.74,138.64 L277.49,138.10 L278.24,137.54 L278.99,136.98 L279.75,136.40 L280.50,135.80 L281.25,135.20 L282.00,134.58" fill="none" stroke="#ee1c24" stroke-width="1.1"/>
<line x1="274.50" y1="105.50" x2="274.50" y2="167.20" stroke="#666" stroke-width="0.55" stroke-dasharray="3.6,1.5" stroke-dashoffset="-1.4"/>
</g>
<text x="273.70" y="138.50" font-size="3.40" text-anchor="end" fill="#333">2008</text>
<line x1="167.00" y1="117.20" x2="178.60" y2="117.20" stroke="#ee1c24" stroke-width="1.40"/>
<line x1="167.00" y1="123.70" x2="178.60" y2="123.70" stroke="#4068b8" stroke-width="1.1"/>
<text x="181.60" y="118.40" font-size="3.20" font-weight="bold" fill="#000" stroke="#000" stroke-width="0.05" stroke-linejoin="round">Signal</text>
<text x="181.60" y="124.90" font-size="3.40" fill="#4a4a4a" stroke="#4a4a4a" stroke-width="0.03" stroke-linejoin="round">Noise</text>
<path d="M157.55,167.20H281.55M158.00,105.50V167.20M281.10,105.50V167.20" fill="none" stroke="#8a8a8a" stroke-width="0.9"/>
<path d="M157.55,105.50H281.55" fill="none" stroke="#8a8a8a" stroke-width="0.9"/>
<path d="M165.55,167.20v2.80M165.55,105.50v-2.80M188.21,167.20v2.80M188.21,105.50v-2.80M210.87,167.20v2.80M210.87,105.50v-2.80M233.52,167.20v2.80M233.52,105.50v-2.80M256.18,167.20v2.80M256.18,105.50v-2.80M278.83,167.20v2.80M278.83,105.50v-2.80M158.00,167.20h-2.80M281.10,167.20h2.80M158.00,156.92h-2.80M281.10,156.92h2.80M158.00,146.63h-2.80M281.10,146.63h2.80M158.00,136.35h-2.80M281.10,136.35h2.80M158.00,126.07h-2.80M281.10,126.07h2.80M158.00,115.78h-2.80M281.10,115.78h2.80M158.00,105.50h-2.80M281.10,105.50h2.80" stroke="#222" stroke-width="0.8" fill="none"/>
<path d="M158.00,167.20v1.40M158.00,105.50v-1.40M173.10,167.20v1.40M173.10,105.50v-1.40M180.66,167.20v1.40M180.66,105.50v-1.40M195.76,167.20v1.40M195.76,105.50v-1.40M203.31,167.20v1.40M203.31,105.50v-1.40M218.42,167.20v1.40M218.42,105.50v-1.40M225.97,167.20v1.40M225.97,105.50v-1.40M241.07,167.20v1.40M241.07,105.50v-1.40M248.63,167.20v1.40M248.63,105.50v-1.40M263.73,167.20v1.40M263.73,105.50v-1.40M271.28,167.20v1.40M271.28,105.50v-1.40M158.00,164.63h-1.40M281.10,164.63h1.40M158.00,162.06h-1.40M281.10,162.06h1.40M158.00,159.49h-1.40M281.10,159.49h1.40M158.00,154.35h-1.40M281.10,154.35h1.40M158.00,151.77h-1.40M281.10,151.77h1.40M158.00,149.20h-1.40M281.10,149.20h1.40M158.00,144.06h-1.40M281.10,144.06h1.40M158.00,141.49h-1.40M281.10,141.49h1.40M158.00,138.92h-1.40M281.10,138.92h1.40M158.00,133.78h-1.40M281.10,133.78h1.40M158.00,131.21h-1.40M281.10,131.21h1.40M158.00,128.64h-1.40M281.10,128.64h1.40M158.00,123.50h-1.40M281.10,123.50h1.40M158.00,120.92h-1.40M281.10,120.92h1.40M158.00,118.35h-1.40M281.10,118.35h1.40M158.00,113.21h-1.40M281.10,113.21h1.40M158.00,110.64h-1.40M281.10,110.64h1.40M158.00,108.07h-1.40M281.10,108.07h1.40" stroke="#666" stroke-width="0.6" fill="none"/>
<text x="151.70" y="168.70" font-size="4.25" font-weight="bold" text-anchor="end" fill="#111" stroke="#111" stroke-width="0.04" stroke-linejoin="round">-0.4</text>
<text x="151.70" y="158.42" font-size="4.25" font-weight="bold" text-anchor="end" fill="#111" stroke="#111" stroke-width="0.04" stroke-linejoin="round">0.0</text>
<text x="151.70" y="148.13" font-size="4.25" font-weight="bold" text-anchor="end" fill="#111" stroke="#111" stroke-width="0.04" stroke-linejoin="round">0.4</text>
<text x="151.70" y="137.85" font-size="4.25" font-weight="bold" text-anchor="end" fill="#111" stroke="#111" stroke-width="0.04" stroke-linejoin="round">0.8</text>
<text x="151.70" y="127.57" font-size="4.25" font-weight="bold" text-anchor="end" fill="#111" stroke="#111" stroke-width="0.04" stroke-linejoin="round">1.2</text>
<text x="151.70" y="117.28" font-size="4.25" font-weight="bold" text-anchor="end" fill="#111" stroke="#111" stroke-width="0.04" stroke-linejoin="round">1.6</text>
<text x="151.70" y="107.00" font-size="4.25" font-weight="bold" text-anchor="end" fill="#111" stroke="#111" stroke-width="0.04" stroke-linejoin="round">2.0</text>
<text x="165.45" y="176.40" font-size="4.30" font-weight="bold" text-anchor="middle" fill="#111" stroke="#111" stroke-width="0.04" stroke-linejoin="round">1860</text>
<text x="188.11" y="176.40" font-size="4.30" font-weight="bold" text-anchor="middle" fill="#111" stroke="#111" stroke-width="0.04" stroke-linejoin="round">1890</text>
<text x="210.77" y="176.40" font-size="4.30" font-weight="bold" text-anchor="middle" fill="#111" stroke="#111" stroke-width="0.04" stroke-linejoin="round">1920</text>
<text x="233.42" y="176.40" font-size="4.30" font-weight="bold" text-anchor="middle" fill="#111" stroke="#111" stroke-width="0.04" stroke-linejoin="round">1950</text>
<text x="256.08" y="176.40" font-size="4.30" font-weight="bold" text-anchor="middle" fill="#111" stroke="#111" stroke-width="0.04" stroke-linejoin="round">1980</text>
<text x="278.73" y="176.40" font-size="4.30" font-weight="bold" text-anchor="middle" fill="#111" stroke="#111" stroke-width="0.04" stroke-linejoin="round">2010</text>
<text x="155.80" y="100.00" font-size="4.80" font-weight="bold" fill="#111">(f) 30-60°N</text>
<g clip-path="url(#c12)">
<rect x="303.00" y="145.00" width="123.10" height="1.00" fill="#a9d5e0"/>
<path d="M303.00,149.90 L303.80,150.29 L304.60,150.68 L305.40,151.08 L306.20,151.47 L307.00,151.86 L307.80,152.25 L308.60,152.65 L309.40,153.04 L310.20,153.43 L311.00,153.82 L311.80,154.22 L312.60,154.61 L313.40,155.00 L314.15,154.99 L314.90,154.95 L315.65,154.92 L316.40,154.88 L317.15,154.84 L317.91,154.81 L318.66,154.77 L319.41,154.73 L320.16,154.69 L320.91,154.65 L321.66,154.61 L322.41,154.57 L323.16,154.53 L323.91,154.49 L324.66,154.45 L325.42,154.40 L326.17,154.36 L326.92,154.31 L327.67,154.27 L328.42,154.22 L329.17,154.17 L329.92,154.12 L330.67,154.07 L331.42,154.02 L332.17,153.97 L332.93,153.92 L333.68,153.87 L334.43,153.81 L335.18,153.75 L335.93,153.70 L336.68,153.64 L337.43,153.58 L338.18,153.52 L338.93,153.46 L339.68,153.39 L340.44,153.33 L341.19,153.26 L341.94,153.20 L342.69,153.13 L343.44,153.06 L344.19,152.98 L344.94,152.91 L345.69,152.84 L346.44,152.76 L347.19,152.68 L347.95,152.60 L348.70,152.52 L349.45,152.44 L350.20,152.36 L350.95,152.27 L351.70,152.18 L352.45,152.09 L353.20,152.00 L353.95,151.91 L354.70,151.81 L355.46,151.72 L356.21,151.62 L356.96,151.52 L357.71,151.41 L358.46,151.31 L359.21,151.20 L359.96,151.09 L360.71,150.98 L361.46,150.87 L362.21,150.75 L362.97,150.64 L363.72,150.52 L364.47,150.40 L365.22,150.27 L365.97,150.15 L366.72,150.02 L367.47,149.89 L368.22,149.75 L368.97,149.62 L369.72,149.48 L370.48,149.34 L371.23,149.20 L371.98,149.05 L372.73,148.90 L373.48,148.75 L374.23,148.60 L374.98,148.44 L375.73,148.28 L376.48,148.12 L377.23,147.96 L377.99,147.79 L378.74,147.62 L379.49,147.45 L380.24,147.28 L380.99,147.10 L381.74,146.92 L382.49,146.74 L383.24,146.55 L383.99,146.36 L384.74,146.17 L385.50,145.97 L386.25,145.77 L387.00,145.56 L387.75,145.35 L388.50,145.13 L389.25,144.90 L390.00,144.67 L390.75,144.43 L391.50,144.19 L392.25,143.93 L393.01,143.67 L393.76,143.40 L394.51,143.12 L395.26,142.83 L396.01,142.53 L396.76,142.22 L397.51,141.90 L398.26,141.57 L399.01,141.23 L399.76,140.87 L400.52,140.50 L401.27,140.12 L402.02,139.73 L402.77,139.32 L403.52,138.90 L404.27,138.46 L405.02,138.01 L405.77,137.54 L406.52,137.06 L407.27,136.56 L408.03,136.04 L408.78,135.51 L409.53,134.96 L410.28,134.39 L411.03,133.80 L411.78,133.20 L412.53,132.58 L413.28,131.93 L414.03,131.27 L414.78,130.58 L415.54,129.88 L416.29,129.15 L417.04,128.40 L417.79,127.64 L418.54,126.84 L419.29,126.03 L420.04,125.19 L420.79,124.33 L421.54,123.44 L422.29,122.53 L423.05,121.60 L423.80,120.63 L424.55,119.65 L425.30,118.63 L426.05,117.59 L426.80,116.53 L426.80,139.27 L426.05,139.87 L425.30,140.45 L424.55,140.99 L423.80,141.51 L423.05,142.00 L422.29,142.46 L421.54,142.90 L420.79,143.31 L420.04,143.70 L419.29,144.07 L418.54,144.42 L417.79,144.75 L417.04,145.07 L416.29,145.36 L415.54,145.65 L414.78,145.91 L414.03,146.17 L413.28,146.41 L412.53,146.65 L411.78,146.87 L411.03,147.09 L410.28,147.30 L409.53,147.50 L408.78,147.69 L408.03,147.87 L407.27,148.05 L406.52,148.22 L405.77,148.38 L405.02,148.54 L404.27,148.69 L403.52,148.83 L402.77,148.97 L402.02,149.10 L401.27,149.23 L400.52,149.35 L399.76,149.47 L399.01,149.58 L398.26,149.69 L397.51,149.80 L396.76,149.90 L396.01,150.00 L395.26,150.09 L394.51,150.18 L393.76,150.27 L393.01,150.36 L392.25,150.44 L391.50,150.52 L390.75,150.60 L390.00,150.68 L389.25,150.76 L388.50,150.84 L387.75,150.91 L387.00,150.99 L386.25,151.07 L385.50,151.14 L384.74,151.22 L383.99,151.29 L383.24,151.37 L382.49,151.45 L381.74,151.53 L380.99,151.61 L380.24,151.70 L379.49,151.78 L378.74,151.87 L377.99,151.95 L377.23,152.04 L376.48,152.13 L375.73,152.22 L374.98,152.31 L374.23,152.40 L373.48,152.49 L372.73,152.58 L371.98,152.67 L371.23,152.77 L370.48,152.86 L369.72,152.95 L368.97,153.05 L368.22,153.14 L367.47,153.24 L366.72,153.33 L365.97,153.43 L365.22,153.53 L364.47,153.62 L363.72,153.72 L362.97,153.81 L362.21,153.91 L361.46,154.00 L360.71,154.10 L359.96,154.19 L359.21,154.28 L358.46,154.38 L357.71,154.47 L356.96,154.56 L356.21,154.65 L355.46,154.74 L354.70,154.83 L353.95,154.92 L353.20,155.01 L352.45,155.10 L351.70,155.19 L350.95,155.27 L350.20,155.36 L349.45,155.44 L348.70,155.52 L347.95,155.60 L347.19,155.68 L346.44,155.76 L345.69,155.83 L344.94,155.91 L344.19,155.98 L343.44,156.05 L342.69,156.12 L341.94,156.19 L341.19,156.25 L340.44,156.32 L339.68,156.38 L338.93,156.44 L338.18,156.49 L337.43,156.55 L336.68,156.60 L335.93,156.65 L335.18,156.70 L334.43,156.75 L333.68,156.79 L332.93,156.83 L332.17,156.87 L331.42,156.91 L330.67,156.94 L329.92,156.97 L329.17,157.00 L328.42,157.02 L327.67,157.04 L326.92,157.06 L326.17,157.08 L325.42,157.09 L324.66,157.10 L323.91,157.11 L323.16,157.11 L322.41,157.11 L321.66,157.10 L320.91,157.10 L320.16,157.09 L319.41,157.07 L318.66,157.05 L317.91,157.03 L317.15,157.00 L316.40,156.97 L315.65,156.94 L314.90,156.90 L314.15,156.86 L313.40,156.80 L312.60,157.10 L311.80,157.40 L311.00,157.70 L310.20,158.00 L309.40,158.30 L308.60,158.60 L307.80,158.90 L307.00,159.20 L306.20,159.50 L305.40,159.80 L304.60,160.10 L303.80,160.40 L303.00,160.70 Z" fill="#f7b3c0"/>
<line x1="303.00" y1="145.50" x2="426.10" y2="145.50" stroke="#3a6ab8" stroke-width="1.00" stroke-opacity="1.00"/>
<path d="M303.00,154.01 L303.75,154.18 L304.50,154.35 L305.25,154.51 L306.00,154.67 L306.75,154.81 L307.50,154.95 L308.25,155.08 L309.00,155.20 L309.75,155.31 L310.50,155.42 L311.25,155.52 L312.00,155.61 L312.75,155.69 L313.50,155.77 L314.25,155.84 L315.00,155.90 L315.76,155.96 L316.51,156.01 L317.26,156.05 L318.01,156.09 L318.76,156.12 L319.51,156.15 L320.26,156.17 L321.01,156.18 L321.76,156.19 L322.51,156.19 L323.26,156.19 L324.01,156.18 L324.76,156.17 L325.51,156.16 L326.26,156.13 L327.01,156.11 L327.76,156.07 L328.51,156.04 L329.26,156.00 L330.01,155.95 L330.76,155.91 L331.51,155.85 L332.26,155.80 L333.01,155.74 L333.76,155.67 L334.51,155.61 L335.26,155.54 L336.01,155.46 L336.76,155.39 L337.51,155.31 L338.26,155.23 L339.01,155.14 L339.76,155.06 L340.52,154.97 L341.27,154.87 L342.02,154.78 L342.77,154.69 L343.52,154.59 L344.27,154.49 L345.02,154.39 L345.77,154.28 L346.52,154.18 L347.27,154.08 L348.02,153.97 L348.77,153.86 L349.52,153.75 L350.27,153.64 L351.02,153.54 L351.77,153.43 L352.52,153.32 L353.27,153.20 L354.02,153.09 L354.77,152.98 L355.52,152.87 L356.27,152.76 L357.02,152.65 L357.77,152.54 L358.52,152.44 L359.27,152.33 L360.02,152.22 L360.77,152.12 L361.52,152.01 L362.27,151.91 L363.02,151.81 L363.77,151.71 L364.52,151.61 L365.28,151.51 L366.03,151.42 L366.78,151.33 L367.53,151.23 L368.28,151.15 L369.03,151.06 L369.78,150.98 L370.53,150.90 L371.28,150.82 L372.03,150.75 L372.78,150.67 L373.53,150.60 L374.28,150.53 L375.03,150.46 L375.78,150.39 L376.53,150.33 L377.28,150.26 L378.03,150.19 L378.78,150.12 L379.53,150.06 L380.28,149.99 L381.03,149.92 L381.78,149.84 L382.53,149.77 L383.28,149.70 L384.03,149.62 L384.78,149.54 L385.53,149.46 L386.28,149.37 L387.03,149.28 L387.78,149.19 L388.53,149.09 L389.28,148.99 L390.04,148.89 L390.79,148.78 L391.54,148.66 L392.29,148.54 L393.04,148.41 L393.79,148.28 L394.54,148.14 L395.29,148.00 L396.04,147.85 L396.79,147.69 L397.54,147.52 L398.29,147.35 L399.04,147.17 L399.79,146.98 L400.54,146.78 L401.29,146.57 L402.04,146.36 L402.79,146.13 L403.54,145.90 L404.29,145.65 L405.04,145.40 L405.79,145.13 L406.54,144.86 L407.29,144.57 L408.04,144.27 L408.79,143.95 L409.54,143.62 L410.29,143.27 L411.04,142.90 L411.79,142.52 L412.54,142.11 L413.29,141.68 L414.04,141.23 L414.80,140.76 L415.55,140.26 L416.30,139.74 L417.05,139.19 L417.80,138.61 L418.55,138.00 L419.30,137.36 L420.05,136.69 L420.80,135.98 L421.55,135.24 L422.30,134.47 L423.05,133.66 L423.80,132.82 L424.55,131.93 L425.30,131.01 L426.05,130.04 L426.80,129.03" fill="none" stroke="#ee1c24" stroke-width="1.1"/>
<line x1="405.50" y1="105.50" x2="405.50" y2="167.20" stroke="#666" stroke-width="0.55" stroke-dasharray="3.6,1.5" stroke-dashoffset="-1.4"/>
</g>
<text x="404.70" y="142.20" font-size="3.40" text-anchor="end" fill="#333">1986</text>
<line x1="312.00" y1="117.20" x2="323.60" y2="117.20" stroke="#ee1c24" stroke-width="1.40"/>
<line x1="312.00" y1="123.70" x2="323.60" y2="123.70" stroke="#7a9ad0" stroke-width="1.1"/>
<text x="326.60" y="118.40" font-size="3.40" fill="#333" stroke="#333" stroke-width="0.09" stroke-linejoin="round">Signal</text>
<text x="326.60" y="124.90" font-size="3.40" fill="#333" stroke="#333" stroke-width="0.09" stroke-linejoin="round">Noise</text>
<path d="M302.55,167.20H426.55M303.00,105.50V167.20M426.10,105.50V167.20" fill="none" stroke="#8a8a8a" stroke-width="0.9"/>
<path d="M302.55,105.50H426.55" fill="none" stroke="#8a8a8a" stroke-width="0.9"/>
<path d="M310.55,167.20v2.80M310.55,105.50v-2.80M333.21,167.20v2.80M333.21,105.50v-2.80M355.87,167.20v2.80M355.87,105.50v-2.80M378.52,167.20v2.80M378.52,105.50v-2.80M401.18,167.20v2.80M401.18,105.50v-2.80M423.83,167.20v2.80M423.83,105.50v-2.80M303.00,167.20h-2.80M426.10,167.20h2.80M303.00,156.92h-2.80M426.10,156.92h2.80M303.00,146.63h-2.80M426.10,146.63h2.80M303.00,136.35h-2.80M426.10,136.35h2.80M303.00,126.07h-2.80M426.10,126.07h2.80M303.00,115.78h-2.80M426.10,115.78h2.80M303.00,105.50h-2.80M426.10,105.50h2.80" stroke="#222" stroke-width="0.8" fill="none"/>
<path d="M303.00,167.20v1.40M303.00,105.50v-1.40M318.10,167.20v1.40M318.10,105.50v-1.40M325.66,167.20v1.40M325.66,105.50v-1.40M340.76,167.20v1.40M340.76,105.50v-1.40M348.31,167.20v1.40M348.31,105.50v-1.40M363.42,167.20v1.40M363.42,105.50v-1.40M370.97,167.20v1.40M370.97,105.50v-1.40M386.07,167.20v1.40M386.07,105.50v-1.40M393.63,167.20v1.40M393.63,105.50v-1.40M408.73,167.20v1.40M408.73,105.50v-1.40M416.28,167.20v1.40M416.28,105.50v-1.40M303.00,164.63h-1.40M426.10,164.63h1.40M303.00,162.06h-1.40M426.10,162.06h1.40M303.00,159.49h-1.40M426.10,159.49h1.40M303.00,154.35h-1.40M426.10,154.35h1.40M303.00,151.77h-1.40M426.10,151.77h1.40M303.00,149.20h-1.40M426.10,149.20h1.40M303.00,144.06h-1.40M426.10,144.06h1.40M303.00,141.49h-1.40M426.10,141.49h1.40M303.00,138.92h-1.40M426.10,138.92h1.40M303.00,133.78h-1.40M426.10,133.78h1.40M303.00,131.21h-1.40M426.10,131.21h1.40M303.00,128.64h-1.40M426.10,128.64h1.40M303.00,123.50h-1.40M426.10,123.50h1.40M303.00,120.92h-1.40M426.10,120.92h1.40M303.00,118.35h-1.40M426.10,118.35h1.40M303.00,113.21h-1.40M426.10,113.21h1.40M303.00,110.64h-1.40M426.10,110.64h1.40M303.00,108.07h-1.40M426.10,108.07h1.40" stroke="#666" stroke-width="0.6" fill="none"/>
<text x="296.70" y="168.70" font-size="4.25" font-weight="bold" text-anchor="end" fill="#111" stroke="#111" stroke-width="0.04" stroke-linejoin="round">-0.4</text>
<text x="296.70" y="158.42" font-size="4.25" font-weight="bold" text-anchor="end" fill="#111" stroke="#111" stroke-width="0.04" stroke-linejoin="round">0.0</text>
<text x="296.70" y="148.13" font-size="4.25" font-weight="bold" text-anchor="end" fill="#111" stroke="#111" stroke-width="0.04" stroke-linejoin="round">0.4</text>
<text x="296.70" y="137.85" font-size="4.25" font-weight="bold" text-anchor="end" fill="#111" stroke="#111" stroke-width="0.04" stroke-linejoin="round">0.8</text>
<text x="296.70" y="127.57" font-size="4.25" font-weight="bold" text-anchor="end" fill="#111" stroke="#111" stroke-width="0.04" stroke-linejoin="round">1.2</text>
<text x="296.70" y="117.28" font-size="4.25" font-weight="bold" text-anchor="end" fill="#111" stroke="#111" stroke-width="0.04" stroke-linejoin="round">1.6</text>
<text x="296.70" y="107.00" font-size="4.25" font-weight="bold" text-anchor="end" fill="#111" stroke="#111" stroke-width="0.04" stroke-linejoin="round">2.0</text>
<text x="310.45" y="176.40" font-size="4.30" font-weight="bold" text-anchor="middle" fill="#111" stroke="#111" stroke-width="0.04" stroke-linejoin="round">1860</text>
<text x="333.11" y="176.40" font-size="4.30" font-weight="bold" text-anchor="middle" fill="#111" stroke="#111" stroke-width="0.04" stroke-linejoin="round">1890</text>
<text x="355.77" y="176.40" font-size="4.30" font-weight="bold" text-anchor="middle" fill="#111" stroke="#111" stroke-width="0.04" stroke-linejoin="round">1920</text>
<text x="378.42" y="176.40" font-size="4.30" font-weight="bold" text-anchor="middle" fill="#111" stroke="#111" stroke-width="0.04" stroke-linejoin="round">1950</text>
<text x="401.08" y="176.40" font-size="4.30" font-weight="bold" text-anchor="middle" fill="#111" stroke="#111" stroke-width="0.04" stroke-linejoin="round">1980</text>
<text x="423.73" y="176.40" font-size="4.30" font-weight="bold" text-anchor="middle" fill="#111" stroke="#111" stroke-width="0.04" stroke-linejoin="round">2010</text>
<text x="300.80" y="100.00" font-size="4.80" font-weight="bold" fill="#111">(g) 30-60°S</text>
<g clip-path="url(#c13)">
<rect x="448.60" y="145.00" width="123.10" height="4.90" fill="#a9d5e0"/>
<path d="M448.60,151.00 L449.39,151.28 L450.18,151.56 L450.97,151.83 L451.76,152.11 L452.54,152.39 L453.33,152.67 L454.12,152.94 L454.91,153.22 L455.70,153.50 L456.49,153.78 L457.28,154.06 L458.07,154.33 L458.86,154.61 L459.64,154.89 L460.43,155.17 L461.22,155.44 L462.01,155.72 L462.80,156.00 L463.55,156.00 L464.30,155.96 L465.06,155.92 L465.81,155.88 L466.56,155.85 L467.31,155.81 L468.06,155.77 L468.81,155.73 L469.57,155.69 L470.32,155.65 L471.07,155.60 L471.82,155.56 L472.57,155.52 L473.32,155.47 L474.08,155.43 L474.83,155.38 L475.58,155.33 L476.33,155.29 L477.08,155.24 L477.83,155.19 L478.59,155.14 L479.34,155.09 L480.09,155.03 L480.84,154.98 L481.59,154.92 L482.34,154.87 L483.10,154.81 L483.85,154.75 L484.60,154.69 L485.35,154.63 L486.10,154.56 L486.86,154.50 L487.61,154.43 L488.36,154.36 L489.11,154.29 L489.86,154.22 L490.61,154.15 L491.37,154.08 L492.12,154.00 L492.87,153.92 L493.62,153.85 L494.37,153.76 L495.12,153.68 L495.88,153.60 L496.63,153.51 L497.38,153.42 L498.13,153.33 L498.88,153.24 L499.63,153.14 L500.39,153.05 L501.14,152.95 L501.89,152.85 L502.64,152.75 L503.39,152.64 L504.14,152.53 L504.90,152.42 L505.65,152.31 L506.40,152.20 L507.15,152.08 L507.90,151.96 L508.66,151.84 L509.41,151.72 L510.16,151.59 L510.91,151.46 L511.66,151.33 L512.41,151.19 L513.17,151.06 L513.92,150.92 L514.67,150.77 L515.42,150.63 L516.17,150.48 L516.92,150.33 L517.68,150.18 L518.43,150.02 L519.18,149.86 L519.93,149.70 L520.68,149.53 L521.43,149.37 L522.19,149.19 L522.94,149.02 L523.69,148.84 L524.44,148.66 L525.19,148.48 L525.94,148.29 L526.70,148.10 L527.45,147.90 L528.20,147.70 L528.95,147.50 L529.70,147.30 L530.46,147.09 L531.21,146.87 L531.96,146.66 L532.71,146.44 L533.46,146.21 L534.21,145.98 L534.97,145.75 L535.72,145.51 L536.47,145.26 L537.22,145.01 L537.97,144.76 L538.72,144.50 L539.48,144.24 L540.23,143.97 L540.98,143.70 L541.73,143.42 L542.48,143.14 L543.23,142.85 L543.99,142.56 L544.74,142.26 L545.49,141.96 L546.24,141.65 L546.99,141.33 L547.74,141.01 L548.50,140.68 L549.25,140.35 L550.00,140.01 L550.75,139.66 L551.50,139.31 L552.26,138.95 L553.01,138.58 L553.76,138.21 L554.51,137.83 L555.26,137.45 L556.01,137.06 L556.77,136.66 L557.52,136.25 L558.27,135.84 L559.02,135.42 L559.77,135.00 L560.52,134.56 L561.28,134.12 L562.03,133.67 L562.78,133.21 L563.53,132.75 L564.28,132.28 L565.03,131.80 L565.79,131.31 L566.54,130.82 L567.29,130.31 L568.04,129.80 L568.79,129.28 L569.54,128.75 L570.30,128.22 L571.05,127.67 L571.80,127.12 L571.80,146.72 L571.05,146.98 L570.30,147.24 L569.54,147.50 L568.79,147.75 L568.04,148.00 L567.29,148.24 L566.54,148.48 L565.79,148.72 L565.03,148.95 L564.28,149.18 L563.53,149.40 L562.78,149.62 L562.03,149.84 L561.28,150.05 L560.52,150.26 L559.77,150.46 L559.02,150.66 L558.27,150.86 L557.52,151.05 L556.77,151.24 L556.01,151.42 L555.26,151.61 L554.51,151.78 L553.76,151.96 L553.01,152.13 L552.26,152.30 L551.50,152.46 L550.75,152.62 L550.00,152.78 L549.25,152.94 L548.50,153.09 L547.74,153.23 L546.99,153.38 L546.24,153.52 L545.49,153.66 L544.74,153.80 L543.99,153.93 L543.23,154.06 L542.48,154.18 L541.73,154.31 L540.98,154.43 L540.23,154.55 L539.48,154.66 L538.72,154.77 L537.97,154.88 L537.22,154.99 L536.47,155.09 L535.72,155.19 L534.97,155.29 L534.21,155.39 L533.46,155.48 L532.71,155.57 L531.96,155.66 L531.21,155.75 L530.46,155.83 L529.70,155.91 L528.95,155.99 L528.20,156.07 L527.45,156.15 L526.70,156.22 L525.94,156.29 L525.19,156.36 L524.44,156.42 L523.69,156.49 L522.94,156.55 L522.19,156.61 L521.43,156.67 L520.68,156.72 L519.93,156.78 L519.18,156.83 L518.43,156.88 L517.68,156.93 L516.92,156.98 L516.17,157.02 L515.42,157.07 L514.67,157.11 L513.92,157.15 L513.17,157.19 L512.41,157.23 L511.66,157.26 L510.91,157.30 L510.16,157.33 L509.41,157.36 L508.66,157.39 L507.90,157.42 L507.15,157.45 L506.40,157.48 L505.65,157.50 L504.90,157.53 L504.14,157.55 L503.39,157.57 L502.64,157.60 L501.89,157.62 L501.14,157.64 L500.39,157.65 L499.63,157.67 L498.88,157.69 L498.13,157.71 L497.38,157.72 L496.63,157.74 L495.88,157.75 L495.12,157.76 L494.37,157.77 L493.62,157.79 L492.87,157.80 L492.12,157.81 L491.37,157.82 L490.61,157.83 L489.86,157.84 L489.11,157.85 L488.36,157.86 L487.61,157.87 L486.86,157.87 L486.10,157.88 L485.35,157.89 L484.60,157.90 L483.85,157.91 L483.10,157.91 L482.34,157.92 L481.59,157.93 L480.84,157.94 L480.09,157.94 L479.34,157.95 L478.59,157.96 L477.83,157.97 L477.08,157.98 L476.33,157.98 L475.58,157.99 L474.83,158.00 L474.08,158.01 L473.32,158.02 L472.57,158.03 L471.82,158.04 L471.07,158.05 L470.32,158.07 L469.57,158.08 L468.81,158.09 L468.06,158.10 L467.31,158.12 L466.56,158.13 L465.81,158.15 L465.06,158.17 L464.30,158.18 L463.55,158.20 L462.80,158.20 L462.01,158.40 L461.22,158.60 L460.43,158.80 L459.64,159.00 L458.86,159.20 L458.07,159.40 L457.28,159.60 L456.49,159.80 L455.70,160.00 L454.91,160.20 L454.12,160.40 L453.33,160.60 L452.54,160.80 L451.76,161.00 L450.97,161.20 L450.18,161.40 L449.39,161.60 L448.60,161.80 Z" fill="#f7b3c0"/>
<line x1="448.60" y1="147.40" x2="571.70" y2="147.40" stroke="#2a52a8" stroke-width="1.00" stroke-opacity="1.00"/>
<path d="M448.60,155.10 L449.35,155.29 L450.10,155.47 L450.85,155.64 L451.60,155.81 L452.36,155.96 L453.11,156.10 L453.86,156.24 L454.61,156.37 L455.36,156.49 L456.11,156.60 L456.86,156.70 L457.61,156.80 L458.37,156.88 L459.12,156.96 L459.87,157.04 L460.62,157.10 L461.37,157.16 L462.12,157.21 L462.87,157.25 L463.62,157.29 L464.38,157.32 L465.13,157.35 L465.88,157.36 L466.63,157.38 L467.38,157.38 L468.13,157.38 L468.88,157.38 L469.63,157.37 L470.39,157.35 L471.14,157.33 L471.89,157.31 L472.64,157.28 L473.39,157.25 L474.14,157.21 L474.89,157.17 L475.64,157.12 L476.40,157.07 L477.15,157.02 L477.90,156.96 L478.65,156.90 L479.40,156.83 L480.15,156.77 L480.90,156.70 L481.65,156.63 L482.40,156.55 L483.16,156.47 L483.91,156.39 L484.66,156.31 L485.41,156.23 L486.16,156.14 L486.91,156.06 L487.66,155.97 L488.41,155.88 L489.17,155.79 L489.92,155.70 L490.67,155.61 L491.42,155.52 L492.17,155.43 L492.92,155.33 L493.67,155.24 L494.42,155.15 L495.18,155.06 L495.93,154.97 L496.68,154.88 L497.43,154.79 L498.18,154.70 L498.93,154.61 L499.68,154.52 L500.43,154.44 L501.19,154.35 L501.94,154.27 L502.69,154.19 L503.44,154.12 L504.19,154.04 L504.94,153.97 L505.69,153.90 L506.44,153.83 L507.20,153.77 L507.95,153.70 L508.70,153.64 L509.45,153.58 L510.20,153.52 L510.95,153.47 L511.70,153.41 L512.45,153.36 L513.20,153.30 L513.96,153.25 L514.71,153.20 L515.46,153.15 L516.21,153.10 L516.96,153.05 L517.71,152.99 L518.46,152.94 L519.21,152.89 L519.97,152.84 L520.72,152.78 L521.47,152.73 L522.22,152.67 L522.97,152.61 L523.72,152.56 L524.47,152.49 L525.22,152.43 L525.98,152.37 L526.73,152.30 L527.48,152.23 L528.23,152.16 L528.98,152.08 L529.73,152.00 L530.48,151.92 L531.23,151.84 L531.99,151.75 L532.74,151.66 L533.49,151.56 L534.24,151.46 L534.99,151.36 L535.74,151.25 L536.49,151.14 L537.24,151.02 L538.00,150.90 L538.75,150.77 L539.50,150.64 L540.25,150.50 L541.00,150.35 L541.75,150.20 L542.50,150.05 L543.25,149.89 L544.00,149.72 L544.76,149.54 L545.51,149.36 L546.26,149.17 L547.01,148.98 L547.76,148.77 L548.51,148.56 L549.26,148.35 L550.01,148.12 L550.77,147.89 L551.52,147.65 L552.27,147.40 L553.02,147.14 L553.77,146.87 L554.52,146.60 L555.27,146.31 L556.02,146.02 L556.78,145.71 L557.53,145.40 L558.28,145.08 L559.03,144.74 L559.78,144.40 L560.53,144.04 L561.28,143.67 L562.03,143.29 L562.79,142.89 L563.54,142.48 L564.29,142.06 L565.04,141.63 L565.79,141.18 L566.54,140.72 L567.29,140.24 L568.04,139.74 L568.80,139.23 L569.55,138.71 L570.30,138.16 L571.05,137.60 L571.80,137.02" fill="none" stroke="#ee1c24" stroke-width="1.1"/>
<line x1="555.30" y1="105.50" x2="555.30" y2="167.20" stroke="#666" stroke-width="0.55" stroke-dasharray="3.6,1.5" stroke-dashoffset="-1.4"/>
</g>
<text x="554.50" y="144.00" font-size="3.40" text-anchor="end" fill="#333">1992</text>
<line x1="457.60" y1="117.20" x2="469.20" y2="117.20" stroke="#ee1c24" stroke-width="1.40"/>
<line x1="457.60" y1="123.70" x2="469.20" y2="123.70" stroke="#4068b8" stroke-width="1.1"/>
<text x="472.20" y="118.40" font-size="3.20" font-weight="bold" fill="#000" stroke="#000" stroke-width="0.05" stroke-linejoin="round">Signal</text>
<text x="472.20" y="124.90" font-size="3.20" font-weight="bold" fill="#000" stroke="#000" stroke-width="0.05" stroke-linejoin="round">Noise</text>
<path d="M448.15,167.20H572.15M448.60,105.50V167.20M571.70,105.50V167.20" fill="none" stroke="#8a8a8a" stroke-width="0.9"/>
<path d="M448.15,105.50H572.15" fill="none" stroke="#8a8a8a" stroke-width="0.9"/>
<path d="M456.15,167.20v2.80M456.15,105.50v-2.80M478.81,167.20v2.80M478.81,105.50v-2.80M501.47,167.20v2.80M501.47,105.50v-2.80M524.12,167.20v2.80M524.12,105.50v-2.80M546.78,167.20v2.80M546.78,105.50v-2.80M569.43,167.20v2.80M569.43,105.50v-2.80M448.60,167.20h-2.80M571.70,167.20h2.80M448.60,156.92h-2.80M571.70,156.92h2.80M448.60,146.63h-2.80M571.70,146.63h2.80M448.60,136.35h-2.80M571.70,136.35h2.80M448.60,126.07h-2.80M571.70,126.07h2.80M448.60,115.78h-2.80M571.70,115.78h2.80M448.60,105.50h-2.80M571.70,105.50h2.80" stroke="#222" stroke-width="0.8" fill="none"/>
<path d="M448.60,167.20v1.40M448.60,105.50v-1.40M463.70,167.20v1.40M463.70,105.50v-1.40M471.26,167.20v1.40M471.26,105.50v-1.40M486.36,167.20v1.40M486.36,105.50v-1.40M493.91,167.20v1.40M493.91,105.50v-1.40M509.02,167.20v1.40M509.02,105.50v-1.40M516.57,167.20v1.40M516.57,105.50v-1.40M531.67,167.20v1.40M531.67,105.50v-1.40M539.23,167.20v1.40M539.23,105.50v-1.40M554.33,167.20v1.40M554.33,105.50v-1.40M561.88,167.20v1.40M561.88,105.50v-1.40M448.60,164.63h-1.40M571.70,164.63h1.40M448.60,162.06h-1.40M571.70,162.06h1.40M448.60,159.49h-1.40M571.70,159.49h1.40M448.60,154.35h-1.40M571.70,154.35h1.40M448.60,151.77h-1.40M571.70,151.77h1.40M448.60,149.20h-1.40M571.70,149.20h1.40M448.60,144.06h-1.40M571.70,144.06h1.40M448.60,141.49h-1.40M571.70,141.49h1.40M448.60,138.92h-1.40M571.70,138.92h1.40M448.60,133.78h-1.40M571.70,133.78h1.40M448.60,131.21h-1.40M571.70,131.21h1.40M448.60,128.64h-1.40M571.70,128.64h1.40M448.60,123.50h-1.40M571.70,123.50h1.40M448.60,120.92h-1.40M571.70,120.92h1.40M448.60,118.35h-1.40M571.70,118.35h1.40M448.60,113.21h-1.40M571.70,113.21h1.40M448.60,110.64h-1.40M571.70,110.64h1.40M448.60,108.07h-1.40M571.70,108.07h1.40" stroke="#666" stroke-width="0.6" fill="none"/>
<text x="442.30" y="168.70" font-size="4.25" font-weight="bold" text-anchor="end" fill="#111" stroke="#111" stroke-width="0.04" stroke-linejoin="round">-0.4</text>
<text x="442.30" y="158.42" font-size="4.25" font-weight="bold" text-anchor="end" fill="#111" stroke="#111" stroke-width="0.04" stroke-linejoin="round">0.0</text>
<text x="442.30" y="148.13" font-size="4.25" font-weight="bold" text-anchor="end" fill="#111" stroke="#111" stroke-width="0.04" stroke-linejoin="round">0.4</text>
<text x="442.30" y="137.85" font-size="4.25" font-weight="bold" text-anchor="end" fill="#111" stroke="#111" stroke-width="0.04" stroke-linejoin="round">0.8</text>
<text x="442.30" y="127.57" font-size="4.25" font-weight="bold" text-anchor="end" fill="#111" stroke="#111" stroke-width="0.04" stroke-linejoin="round">1.2</text>
<text x="442.30" y="117.28" font-size="4.25" font-weight="bold" text-anchor="end" fill="#111" stroke="#111" stroke-width="0.04" stroke-linejoin="round">1.6</text>
<text x="442.30" y="107.00" font-size="4.25" font-weight="bold" text-anchor="end" fill="#111" stroke="#111" stroke-width="0.04" stroke-linejoin="round">2.0</text>
<text x="456.05" y="176.40" font-size="4.30" font-weight="bold" text-anchor="middle" fill="#111" stroke="#111" stroke-width="0.04" stroke-linejoin="round">1860</text>
<text x="478.71" y="176.40" font-size="4.30" font-weight="bold" text-anchor="middle" fill="#111" stroke="#111" stroke-width="0.04" stroke-linejoin="round">1890</text>
<text x="501.37" y="176.40" font-size="4.30" font-weight="bold" text-anchor="middle" fill="#111" stroke="#111" stroke-width="0.04" stroke-linejoin="round">1920</text>
<text x="524.02" y="176.40" font-size="4.30" font-weight="bold" text-anchor="middle" fill="#111" stroke="#111" stroke-width="0.04" stroke-linejoin="round">1950</text>
<text x="546.68" y="176.40" font-size="4.30" font-weight="bold" text-anchor="middle" fill="#111" stroke="#111" stroke-width="0.04" stroke-linejoin="round">1980</text>
<text x="569.33" y="176.40" font-size="4.30" font-weight="bold" text-anchor="middle" fill="#111" stroke="#111" stroke-width="0.04" stroke-linejoin="round">2010</text>
<text x="446.40" y="100.00" font-size="4.80" font-weight="bold" fill="#111">(h) 30-60°S</text>
<g clip-path="url(#c20)">
<rect x="13.00" y="228.10" width="123.10" height="3.10" fill="#a9d5e0"/>
<path d="M13.00,234.30 L13.84,235.00 L14.68,235.70 L15.51,236.40 L16.35,237.10 L17.19,237.80 L18.02,238.50 L18.86,239.20 L19.70,239.90 L20.45,239.62 L21.21,239.36 L21.96,239.12 L22.71,238.90 L23.47,238.69 L24.22,238.50 L24.97,238.33 L25.73,238.16 L26.48,238.01 L27.24,237.88 L27.99,237.75 L28.74,237.64 L29.50,237.54 L30.25,237.45 L31.00,237.37 L31.76,237.30 L32.51,237.24 L33.26,237.18 L34.02,237.14 L34.77,237.10 L35.52,237.07 L36.28,237.04 L37.03,237.02 L37.79,237.01 L38.54,237.00 L39.29,236.99 L40.05,236.99 L40.80,236.99 L41.55,236.99 L42.31,236.99 L43.06,237.00 L43.81,237.01 L44.57,237.01 L45.32,237.02 L46.07,237.02 L46.83,237.03 L47.58,237.03 L48.33,237.02 L49.09,237.02 L49.84,237.01 L50.60,237.00 L51.35,236.98 L52.10,236.96 L52.86,236.93 L53.61,236.89 L54.36,236.85 L55.12,236.81 L55.87,236.75 L56.62,236.70 L57.38,236.64 L58.13,236.57 L58.88,236.49 L59.64,236.42 L60.39,236.33 L61.15,236.24 L61.90,236.14 L62.65,236.04 L63.41,235.94 L64.16,235.82 L64.91,235.71 L65.67,235.58 L66.42,235.45 L67.17,235.32 L67.93,235.18 L68.68,235.03 L69.43,234.88 L70.19,234.72 L70.94,234.56 L71.69,234.39 L72.45,234.21 L73.20,234.03 L73.96,233.85 L74.71,233.66 L75.46,233.46 L76.22,233.26 L76.97,233.05 L77.72,232.83 L78.48,232.61 L79.23,232.39 L79.98,232.15 L80.74,231.92 L81.49,231.67 L82.24,231.43 L83.00,231.17 L83.75,230.91 L84.51,230.65 L85.26,230.38 L86.01,230.11 L86.77,229.83 L87.52,229.54 L88.27,229.25 L89.03,228.96 L89.78,228.66 L90.53,228.36 L91.29,228.06 L92.04,227.75 L92.79,227.44 L93.55,227.12 L94.30,226.80 L95.05,226.48 L95.81,226.15 L96.56,225.82 L97.32,225.48 L98.07,225.15 L98.82,224.81 L99.58,224.47 L100.33,224.12 L101.08,223.78 L101.84,223.43 L102.59,223.07 L103.34,222.72 L104.10,222.36 L104.85,222.01 L105.60,221.65 L106.36,221.28 L107.11,220.92 L107.87,220.56 L108.62,220.19 L109.37,219.82 L110.13,219.46 L110.88,219.08 L111.63,218.71 L112.39,218.33 L113.14,217.95 L113.89,217.57 L114.65,217.18 L115.40,216.78 L116.15,216.38 L116.91,215.97 L117.66,215.56 L118.41,215.14 L119.17,214.71 L119.92,214.27 L120.68,213.82 L121.43,213.37 L122.18,212.90 L122.94,212.42 L123.69,211.94 L124.44,211.44 L125.20,210.93 L125.95,210.41 L126.70,209.87 L127.46,209.32 L128.21,208.76 L128.96,208.19 L129.72,207.60 L130.47,206.99 L131.23,206.37 L131.98,205.73 L132.73,205.07 L133.49,204.40 L134.24,203.71 L134.99,203.00 L135.75,202.27 L136.50,201.53 L136.50,216.43 L135.75,217.52 L134.99,218.55 L134.24,219.54 L133.49,220.48 L132.73,221.37 L131.98,222.21 L131.23,223.01 L130.47,223.77 L129.72,224.48 L128.96,225.16 L128.21,225.79 L127.46,226.39 L126.70,226.96 L125.95,227.48 L125.20,227.98 L124.44,228.44 L123.69,228.88 L122.94,229.28 L122.18,229.66 L121.43,230.01 L120.68,230.34 L119.92,230.64 L119.17,230.92 L118.41,231.18 L117.66,231.42 L116.91,231.65 L116.15,231.85 L115.40,232.05 L114.65,232.22 L113.89,232.39 L113.14,232.55 L112.39,232.69 L111.63,232.83 L110.88,232.96 L110.13,233.09 L109.37,233.21 L108.62,233.34 L107.87,233.46 L107.11,233.57 L106.36,233.69 L105.60,233.81 L104.85,233.93 L104.10,234.05 L103.34,234.16 L102.59,234.28 L101.84,234.39 L101.08,234.51 L100.33,234.62 L99.58,234.73 L98.82,234.84 L98.07,234.95 L97.32,235.06 L96.56,235.17 L95.81,235.28 L95.05,235.39 L94.30,235.50 L93.55,235.61 L92.79,235.71 L92.04,235.82 L91.29,235.93 L90.53,236.03 L89.78,236.14 L89.03,236.24 L88.27,236.34 L87.52,236.44 L86.77,236.55 L86.01,236.65 L85.26,236.75 L84.51,236.85 L83.75,236.95 L83.00,237.04 L82.24,237.14 L81.49,237.24 L80.74,237.34 L79.98,237.43 L79.23,237.53 L78.48,237.62 L77.72,237.72 L76.97,237.81 L76.22,237.90 L75.46,238.00 L74.71,238.09 L73.96,238.18 L73.20,238.27 L72.45,238.37 L71.69,238.46 L70.94,238.55 L70.19,238.64 L69.43,238.73 L68.68,238.82 L67.93,238.92 L67.17,239.01 L66.42,239.10 L65.67,239.19 L64.91,239.28 L64.16,239.38 L63.41,239.47 L62.65,239.56 L61.90,239.66 L61.15,239.75 L60.39,239.85 L59.64,239.94 L58.88,240.04 L58.13,240.13 L57.38,240.23 L56.62,240.33 L55.87,240.43 L55.12,240.53 L54.36,240.63 L53.61,240.73 L52.86,240.83 L52.10,240.93 L51.35,241.04 L50.60,241.14 L49.84,241.25 L49.09,241.35 L48.33,241.46 L47.58,241.56 L46.83,241.66 L46.07,241.77 L45.32,241.87 L44.57,241.96 L43.81,242.06 L43.06,242.15 L42.31,242.23 L41.55,242.31 L40.80,242.39 L40.05,242.46 L39.29,242.52 L38.54,242.58 L37.79,242.63 L37.03,242.68 L36.28,242.71 L35.52,242.74 L34.77,242.76 L34.02,242.77 L33.26,242.77 L32.51,242.76 L31.76,242.74 L31.00,242.71 L30.25,242.67 L29.50,242.62 L28.74,242.55 L27.99,242.47 L27.24,242.38 L26.48,242.27 L25.73,242.15 L24.97,242.01 L24.22,241.86 L23.47,241.70 L22.71,241.51 L21.96,241.31 L21.21,241.10 L20.45,240.86 L19.70,240.60 L18.86,241.11 L18.02,241.62 L17.19,242.14 L16.35,242.65 L15.51,243.16 L14.68,243.67 L13.84,244.19 L13.00,244.70 Z" fill="#f7b3c0"/>
<line x1="13.00" y1="229.70" x2="136.10" y2="229.70" stroke="#2a52a8" stroke-width="1.00" stroke-opacity="1.00"/>
<path d="M13.00,237.82 L13.75,238.07 L14.51,238.31 L15.26,238.54 L16.01,238.76 L16.77,238.96 L17.52,239.16 L18.27,239.34 L19.02,239.52 L19.78,239.68 L20.53,239.83 L21.28,239.97 L22.04,240.11 L22.79,240.23 L23.54,240.34 L24.30,240.45 L25.05,240.54 L25.80,240.63 L26.55,240.70 L27.31,240.77 L28.06,240.83 L28.81,240.88 L29.57,240.93 L30.32,240.96 L31.07,240.99 L31.83,241.01 L32.58,241.03 L33.33,241.03 L34.09,241.03 L34.84,241.02 L35.59,241.01 L36.34,240.99 L37.10,240.96 L37.85,240.93 L38.60,240.89 L39.36,240.85 L40.11,240.80 L40.86,240.74 L41.62,240.68 L42.37,240.62 L43.12,240.55 L43.88,240.47 L44.63,240.39 L45.38,240.31 L46.13,240.22 L46.89,240.13 L47.64,240.03 L48.39,239.94 L49.15,239.83 L49.90,239.73 L50.65,239.62 L51.41,239.51 L52.16,239.40 L52.91,239.28 L53.66,239.16 L54.42,239.04 L55.17,238.92 L55.92,238.80 L56.68,238.67 L57.43,238.55 L58.18,238.42 L58.94,238.29 L59.69,238.16 L60.44,238.03 L61.20,237.90 L61.95,237.77 L62.70,237.64 L63.45,237.51 L64.21,237.38 L64.96,237.26 L65.71,237.13 L66.47,237.00 L67.22,236.87 L67.97,236.75 L68.73,236.62 L69.48,236.50 L70.23,236.38 L70.98,236.26 L71.74,236.15 L72.49,236.03 L73.24,235.92 L74.00,235.81 L74.75,235.71 L75.50,235.60 L76.26,235.50 L77.01,235.40 L77.76,235.29 L78.52,235.19 L79.27,235.09 L80.02,234.99 L80.77,234.90 L81.53,234.80 L82.28,234.70 L83.03,234.60 L83.79,234.50 L84.54,234.40 L85.29,234.30 L86.05,234.19 L86.80,234.09 L87.55,233.98 L88.30,233.88 L89.06,233.77 L89.81,233.65 L90.56,233.54 L91.32,233.42 L92.07,233.30 L92.82,233.18 L93.58,233.06 L94.33,232.93 L95.08,232.79 L95.84,232.66 L96.59,232.51 L97.34,232.37 L98.09,232.22 L98.85,232.06 L99.60,231.90 L100.35,231.74 L101.11,231.57 L101.86,231.39 L102.61,231.21 L103.37,231.02 L104.12,230.83 L104.87,230.63 L105.62,230.42 L106.38,230.21 L107.13,229.99 L107.88,229.76 L108.64,229.52 L109.39,229.28 L110.14,229.03 L110.90,228.76 L111.65,228.49 L112.40,228.21 L113.16,227.91 L113.91,227.60 L114.66,227.27 L115.41,226.93 L116.17,226.57 L116.92,226.20 L117.67,225.81 L118.43,225.39 L119.18,224.96 L119.93,224.51 L120.69,224.03 L121.44,223.53 L122.19,223.00 L122.95,222.45 L123.70,221.88 L124.45,221.27 L125.20,220.64 L125.96,219.98 L126.71,219.29 L127.46,218.57 L128.22,217.82 L128.97,217.03 L129.72,216.21 L130.48,215.35 L131.23,214.46 L131.98,213.53 L132.73,212.57 L133.49,211.56 L134.24,210.52 L134.99,209.43 L135.75,208.31 L136.50,207.14" fill="none" stroke="#ee1c24" stroke-width="1.1"/>
<line x1="108.50" y1="188.80" x2="108.50" y2="250.40" stroke="#666" stroke-width="0.55" stroke-dasharray="3.6,1.5" stroke-dashoffset="-1.4"/>
</g>
<text x="107.70" y="227.00" font-size="3.40" text-anchor="end" fill="#333">1977</text>
<line x1="22.00" y1="200.50" x2="33.60" y2="200.50" stroke="#ee1c24" stroke-width="1.40"/>
<line x1="22.00" y1="207.00" x2="33.60" y2="207.00" stroke="#4068b8" stroke-width="1.1"/>
<text x="36.60" y="201.70" font-size="3.40" fill="#333" stroke="#333" stroke-width="0.09" stroke-linejoin="round">Signal</text>
<text x="36.60" y="208.20" font-size="3.40" fill="#333" stroke="#333" stroke-width="0.09" stroke-linejoin="round">Noise</text>
<path d="M12.55,250.40H136.55M13.00,188.80V250.40M136.10,188.80V250.40" fill="none" stroke="#8a8a8a" stroke-width="0.9"/>
<path d="M12.55,188.80H136.55" fill="none" stroke="#8a8a8a" stroke-width="0.9"/>
<path d="M20.55,250.40v2.80M20.55,188.80v-2.80M43.21,250.40v2.80M43.21,188.80v-2.80M65.87,250.40v2.80M65.87,188.80v-2.80M88.52,250.40v2.80M88.52,188.80v-2.80M111.18,250.40v2.80M111.18,188.80v-2.80M133.83,250.40v2.80M133.83,188.80v-2.80M13.00,250.40h-2.80M136.10,250.40h2.80M13.00,240.13h-2.80M136.10,240.13h2.80M13.00,229.87h-2.80M136.10,229.87h2.80M13.00,219.60h-2.80M136.10,219.60h2.80M13.00,209.33h-2.80M136.10,209.33h2.80M13.00,199.07h-2.80M136.10,199.07h2.80M13.00,188.80h-2.80M136.10,188.80h2.80" stroke="#222" stroke-width="0.8" fill="none"/>
<path d="M13.00,250.40v1.40M13.00,188.80v-1.40M28.10,250.40v1.40M28.10,188.80v-1.40M35.66,250.40v1.40M35.66,188.80v-1.40M50.76,250.40v1.40M50.76,188.80v-1.40M58.31,250.40v1.40M58.31,188.80v-1.40M73.42,250.40v1.40M73.42,188.80v-1.40M80.97,250.40v1.40M80.97,188.80v-1.40M96.07,250.40v1.40M96.07,188.80v-1.40M103.63,250.40v1.40M103.63,188.80v-1.40M118.73,250.40v1.40M118.73,188.80v-1.40M126.28,250.40v1.40M126.28,188.80v-1.40M13.00,247.83h-1.40M136.10,247.83h1.40M13.00,245.27h-1.40M136.10,245.27h1.40M13.00,242.70h-1.40M136.10,242.70h1.40M13.00,237.57h-1.40M136.10,237.57h1.40M13.00,235.00h-1.40M136.10,235.00h1.40M13.00,232.43h-1.40M136.10,232.43h1.40M13.00,227.30h-1.40M136.10,227.30h1.40M13.00,224.73h-1.40M136.10,224.73h1.40M13.00,222.17h-1.40M136.10,222.17h1.40M13.00,217.03h-1.40M136.10,217.03h1.40M13.00,214.47h-1.40M136.10,214.47h1.40M13.00,211.90h-1.40M136.10,211.90h1.40M13.00,206.77h-1.40M136.10,206.77h1.40M13.00,204.20h-1.40M136.10,204.20h1.40M13.00,201.63h-1.40M136.10,201.63h1.40M13.00,196.50h-1.40M136.10,196.50h1.40M13.00,193.93h-1.40M136.10,193.93h1.40M13.00,191.37h-1.40M136.10,191.37h1.40" stroke="#666" stroke-width="0.6" fill="none"/>
<text x="6.70" y="251.90" font-size="4.25" font-weight="bold" text-anchor="end" fill="#111" stroke="#111" stroke-width="0.04" stroke-linejoin="round">-0.4</text>
<text x="6.70" y="241.63" font-size="4.25" font-weight="bold" text-anchor="end" fill="#111" stroke="#111" stroke-width="0.04" stroke-linejoin="round">0.0</text>
<text x="6.70" y="231.37" font-size="4.25" font-weight="bold" text-anchor="end" fill="#111" stroke="#111" stroke-width="0.04" stroke-linejoin="round">0.4</text>
<text x="6.70" y="221.10" font-size="4.25" font-weight="bold" text-anchor="end" fill="#111" stroke="#111" stroke-width="0.04" stroke-linejoin="round">0.8</text>
<text x="6.70" y="210.83" font-size="4.25" font-weight="bold" text-anchor="end" fill="#111" stroke="#111" stroke-width="0.04" stroke-linejoin="round">1.2</text>
<text x="6.70" y="200.57" font-size="4.25" font-weight="bold" text-anchor="end" fill="#111" stroke="#111" stroke-width="0.04" stroke-linejoin="round">1.6</text>
<text x="6.70" y="190.30" font-size="4.25" font-weight="bold" text-anchor="end" fill="#111" stroke="#111" stroke-width="0.04" stroke-linejoin="round">2.0</text>
<text x="20.45" y="259.60" font-size="4.30" font-weight="bold" text-anchor="middle" fill="#111" stroke="#111" stroke-width="0.04" stroke-linejoin="round">1860</text>
<text x="43.11" y="259.60" font-size="4.30" font-weight="bold" text-anchor="middle" fill="#111" stroke="#111" stroke-width="0.04" stroke-linejoin="round">1890</text>
<text x="65.77" y="259.60" font-size="4.30" font-weight="bold" text-anchor="middle" fill="#111" stroke="#111" stroke-width="0.04" stroke-linejoin="round">1920</text>
<text x="88.42" y="259.60" font-size="4.30" font-weight="bold" text-anchor="middle" fill="#111" stroke="#111" stroke-width="0.04" stroke-linejoin="round">1950</text>
<text x="111.08" y="259.60" font-size="4.30" font-weight="bold" text-anchor="middle" fill="#111" stroke="#111" stroke-width="0.04" stroke-linejoin="round">1980</text>
<text x="133.73" y="259.60" font-size="4.30" font-weight="bold" text-anchor="middle" fill="#111" stroke="#111" stroke-width="0.04" stroke-linejoin="round">2010</text>
<text x="10.80" y="183.30" font-size="4.80" font-weight="bold" fill="#111">(i) 0-30°N</text>
<text x="73.85" y="266.40" font-size="4.70" font-weight="bold" text-anchor="middle" fill="#000" stroke="#000" stroke-width="0.06" stroke-linejoin="round">year</text>
<g clip-path="url(#c21)">
<rect x="158.00" y="231.30" width="123.10" height="2.20" fill="#a9d5e0"/>
<path d="M158.00,235.40 L158.80,235.75 L159.60,236.09 L160.40,236.44 L161.20,236.78 L162.00,237.13 L162.80,237.48 L163.60,237.82 L164.40,238.17 L165.20,238.52 L166.00,238.86 L166.80,239.21 L167.60,239.55 L168.40,239.90 L169.15,239.78 L169.90,239.67 L170.66,239.57 L171.41,239.48 L172.16,239.39 L172.91,239.31 L173.67,239.23 L174.42,239.15 L175.17,239.08 L175.92,239.02 L176.68,238.95 L177.43,238.89 L178.18,238.84 L178.93,238.79 L179.68,238.74 L180.44,238.69 L181.19,238.64 L181.94,238.60 L182.69,238.56 L183.45,238.53 L184.20,238.49 L184.95,238.46 L185.70,238.43 L186.46,238.39 L187.21,238.36 L187.96,238.33 L188.71,238.31 L189.46,238.28 L190.22,238.25 L190.97,238.22 L191.72,238.20 L192.47,238.17 L193.23,238.14 L193.98,238.11 L194.73,238.08 L195.48,238.05 L196.24,238.02 L196.99,237.98 L197.74,237.95 L198.49,237.91 L199.25,237.87 L200.00,237.83 L200.75,237.78 L201.50,237.74 L202.25,237.69 L203.01,237.64 L203.76,237.58 L204.51,237.53 L205.26,237.47 L206.02,237.40 L206.77,237.34 L207.52,237.27 L208.27,237.21 L209.03,237.13 L209.78,237.06 L210.53,236.98 L211.28,236.90 L212.03,236.82 L212.79,236.74 L213.54,236.65 L214.29,236.56 L215.04,236.47 L215.80,236.37 L216.55,236.27 L217.30,236.17 L218.05,236.07 L218.81,235.96 L219.56,235.86 L220.31,235.74 L221.06,235.63 L221.81,235.51 L222.57,235.39 L223.32,235.27 L224.07,235.15 L224.82,235.02 L225.58,234.89 L226.33,234.75 L227.08,234.62 L227.83,234.48 L228.59,234.33 L229.34,234.19 L230.09,234.04 L230.84,233.89 L231.59,233.74 L232.35,233.58 L233.10,233.42 L233.85,233.26 L234.60,233.09 L235.36,232.92 L236.11,232.75 L236.86,232.58 L237.61,232.40 L238.37,232.22 L239.12,232.03 L239.87,231.85 L240.62,231.66 L241.37,231.46 L242.13,231.26 L242.88,231.06 L243.63,230.85 L244.38,230.64 L245.14,230.43 L245.89,230.21 L246.64,229.98 L247.39,229.75 L248.15,229.51 L248.90,229.27 L249.65,229.02 L250.40,228.77 L251.15,228.51 L251.91,228.25 L252.66,227.97 L253.41,227.69 L254.16,227.41 L254.92,227.12 L255.67,226.82 L256.42,226.51 L257.17,226.20 L257.93,225.88 L258.68,225.55 L259.43,225.21 L260.18,224.86 L260.94,224.51 L261.69,224.15 L262.44,223.78 L263.19,223.40 L263.94,223.01 L264.70,222.61 L265.45,222.20 L266.20,221.79 L266.95,221.36 L267.71,220.92 L268.46,220.48 L269.21,220.02 L269.96,219.55 L270.72,219.07 L271.47,218.59 L272.22,218.09 L272.97,217.58 L273.72,217.05 L274.48,216.52 L275.23,215.97 L275.98,215.42 L276.73,214.85 L277.49,214.27 L278.24,213.67 L278.99,213.07 L279.74,212.45 L280.50,211.82 L281.25,211.17 L282.00,210.51 L282.00,225.61 L281.25,226.20 L280.50,226.77 L279.74,227.32 L278.99,227.85 L278.24,228.36 L277.49,228.85 L276.73,229.32 L275.98,229.77 L275.23,230.19 L274.48,230.61 L273.72,231.00 L272.97,231.38 L272.22,231.73 L271.47,232.08 L270.72,232.40 L269.96,232.71 L269.21,233.00 L268.46,233.28 L267.71,233.55 L266.95,233.80 L266.20,234.03 L265.45,234.26 L264.70,234.47 L263.94,234.67 L263.19,234.85 L262.44,235.03 L261.69,235.19 L260.94,235.34 L260.18,235.49 L259.43,235.62 L258.68,235.74 L257.93,235.86 L257.17,235.96 L256.42,236.06 L255.67,236.15 L254.92,236.23 L254.16,236.31 L253.41,236.38 L252.66,236.44 L251.91,236.50 L251.15,236.56 L250.40,236.60 L249.65,236.65 L248.90,236.69 L248.15,236.73 L247.39,236.76 L246.64,236.80 L245.89,236.83 L245.14,236.86 L244.38,236.89 L243.63,236.91 L242.88,236.94 L242.13,236.97 L241.37,237.00 L240.62,237.03 L239.87,237.06 L239.12,237.09 L238.37,237.12 L237.61,237.16 L236.86,237.20 L236.11,237.25 L235.36,237.30 L234.60,237.35 L233.85,237.40 L233.10,237.46 L232.35,237.52 L231.59,237.58 L230.84,237.64 L230.09,237.71 L229.34,237.78 L228.59,237.85 L227.83,237.92 L227.08,238.00 L226.33,238.07 L225.58,238.15 L224.82,238.23 L224.07,238.31 L223.32,238.39 L222.57,238.48 L221.81,238.56 L221.06,238.65 L220.31,238.74 L219.56,238.82 L218.81,238.91 L218.05,239.00 L217.30,239.09 L216.55,239.18 L215.80,239.27 L215.04,239.36 L214.29,239.45 L213.54,239.54 L212.79,239.63 L212.03,239.72 L211.28,239.81 L210.53,239.90 L209.78,239.99 L209.03,240.07 L208.27,240.16 L207.52,240.24 L206.77,240.33 L206.02,240.41 L205.26,240.49 L204.51,240.57 L203.76,240.65 L203.01,240.73 L202.25,240.80 L201.50,240.88 L200.75,240.95 L200.00,241.02 L199.25,241.08 L198.49,241.15 L197.74,241.21 L196.99,241.27 L196.24,241.32 L195.48,241.38 L194.73,241.43 L193.98,241.48 L193.23,241.52 L192.47,241.56 L191.72,241.60 L190.97,241.64 L190.22,241.67 L189.46,241.70 L188.71,241.72 L187.96,241.74 L187.21,241.76 L186.46,241.77 L185.70,241.78 L184.95,241.78 L184.20,241.78 L183.45,241.77 L182.69,241.76 L181.94,241.75 L181.19,241.73 L180.44,241.70 L179.68,241.67 L178.93,241.63 L178.18,241.59 L177.43,241.55 L176.68,241.49 L175.92,241.44 L175.17,241.37 L174.42,241.30 L173.67,241.23 L172.91,241.15 L172.16,241.06 L171.41,240.96 L170.66,240.86 L169.90,240.76 L169.15,240.64 L168.40,240.50 L167.60,240.75 L166.80,241.01 L166.00,241.26 L165.20,241.52 L164.40,241.77 L163.60,242.02 L162.80,242.28 L162.00,242.53 L161.20,242.78 L160.40,243.04 L159.60,243.29 L158.80,243.55 L158.00,243.80 Z" fill="#f7b3c0"/>
<line x1="158.00" y1="232.25" x2="281.10" y2="232.25" stroke="#2a52a8" stroke-width="1.00" stroke-opacity="1.00"/>
<path d="M158.00,238.62 L158.75,238.77 L159.50,238.91 L160.25,239.04 L161.01,239.17 L161.76,239.30 L162.51,239.41 L163.26,239.52 L164.01,239.63 L164.76,239.72 L165.52,239.82 L166.27,239.90 L167.02,239.98 L167.77,240.06 L168.52,240.13 L169.27,240.19 L170.02,240.25 L170.78,240.30 L171.53,240.35 L172.28,240.39 L173.03,240.43 L173.78,240.46 L174.53,240.48 L175.28,240.51 L176.04,240.53 L176.79,240.54 L177.54,240.55 L178.29,240.55 L179.04,240.55 L179.79,240.55 L180.55,240.54 L181.30,240.53 L182.05,240.52 L182.80,240.50 L183.55,240.48 L184.30,240.45 L185.05,240.42 L185.81,240.39 L186.56,240.35 L187.31,240.31 L188.06,240.27 L188.81,240.23 L189.56,240.18 L190.32,240.13 L191.07,240.08 L191.82,240.02 L192.57,239.96 L193.32,239.90 L194.07,239.84 L194.82,239.77 L195.58,239.71 L196.33,239.64 L197.08,239.57 L197.83,239.50 L198.58,239.42 L199.33,239.35 L200.08,239.27 L200.84,239.20 L201.59,239.12 L202.34,239.04 L203.09,238.96 L203.84,238.87 L204.59,238.79 L205.35,238.71 L206.10,238.62 L206.85,238.54 L207.60,238.45 L208.35,238.37 L209.10,238.28 L209.85,238.20 L210.61,238.11 L211.36,238.03 L212.11,237.94 L212.86,237.86 L213.61,237.77 L214.36,237.69 L215.12,237.61 L215.87,237.52 L216.62,237.44 L217.37,237.36 L218.12,237.28 L218.87,237.20 L219.62,237.12 L220.38,237.05 L221.13,236.97 L221.88,236.90 L222.63,236.83 L223.38,236.76 L224.13,236.69 L224.88,236.62 L225.64,236.56 L226.39,236.49 L227.14,236.43 L227.89,236.37 L228.64,236.31 L229.39,236.26 L230.15,236.20 L230.90,236.14 L231.65,236.08 L232.40,236.02 L233.15,235.96 L233.90,235.90 L234.65,235.84 L235.41,235.78 L236.16,235.71 L236.91,235.64 L237.66,235.57 L238.41,235.50 L239.16,235.43 L239.92,235.35 L240.67,235.26 L241.42,235.18 L242.17,235.09 L242.92,234.99 L243.67,234.89 L244.42,234.79 L245.18,234.68 L245.93,234.56 L246.68,234.44 L247.43,234.31 L248.18,234.18 L248.93,234.03 L249.68,233.89 L250.44,233.73 L251.19,233.57 L251.94,233.40 L252.69,233.22 L253.44,233.03 L254.19,232.83 L254.95,232.63 L255.70,232.41 L256.45,232.19 L257.20,231.95 L257.95,231.71 L258.70,231.46 L259.45,231.19 L260.21,230.91 L260.96,230.63 L261.71,230.33 L262.46,230.02 L263.21,229.69 L263.96,229.36 L264.72,229.01 L265.47,228.65 L266.22,228.27 L266.97,227.89 L267.72,227.48 L268.47,227.07 L269.22,226.64 L269.98,226.19 L270.73,225.73 L271.48,225.26 L272.23,224.77 L272.98,224.26 L273.73,223.74 L274.48,223.20 L275.24,222.64 L275.99,222.07 L276.74,221.48 L277.49,220.87 L278.24,220.25 L278.99,219.61 L279.75,218.94 L280.50,218.26 L281.25,217.56 L282.00,216.85" fill="none" stroke="#ee1c24" stroke-width="1.1"/>
<line x1="257.50" y1="188.80" x2="257.50" y2="250.40" stroke="#666" stroke-width="0.55" stroke-dasharray="3.6,1.5" stroke-dashoffset="-1.4"/>
</g>
<text x="256.70" y="229.30" font-size="3.40" text-anchor="end" fill="#333">1983</text>
<line x1="167.00" y1="200.50" x2="178.60" y2="200.50" stroke="#ee1c24" stroke-width="1.40"/>
<line x1="167.00" y1="207.00" x2="178.60" y2="207.00" stroke="#4068b8" stroke-width="1.1"/>
<text x="181.60" y="201.70" font-size="3.20" font-weight="bold" fill="#000" stroke="#000" stroke-width="0.05" stroke-linejoin="round">Signal</text>
<text x="181.60" y="208.20" font-size="3.20" font-weight="bold" fill="#000" stroke="#000" stroke-width="0.05" stroke-linejoin="round">Noise</text>
<path d="M157.55,250.40H281.55M158.00,188.80V250.40M281.10,188.80V250.40" fill="none" stroke="#8a8a8a" stroke-width="0.9"/>
<path d="M157.55,188.80H281.55" fill="none" stroke="#8a8a8a" stroke-width="0.9"/>
<path d="M165.55,250.40v2.80M165.55,188.80v-2.80M188.21,250.40v2.80M188.21,188.80v-2.80M210.87,250.40v2.80M210.87,188.80v-2.80M233.52,250.40v2.80M233.52,188.80v-2.80M256.18,250.40v2.80M256.18,188.80v-2.80M278.83,250.40v2.80M278.83,188.80v-2.80M158.00,250.40h-2.80M281.10,250.40h2.80M158.00,240.13h-2.80M281.10,240.13h2.80M158.00,229.87h-2.80M281.10,229.87h2.80M158.00,219.60h-2.80M281.10,219.60h2.80M158.00,209.33h-2.80M281.10,209.33h2.80M158.00,199.07h-2.80M281.10,199.07h2.80M158.00,188.80h-2.80M281.10,188.80h2.80" stroke="#222" stroke-width="0.8" fill="none"/>
<path d="M158.00,250.40v1.40M158.00,188.80v-1.40M173.10,250.40v1.40M173.10,188.80v-1.40M180.66,250.40v1.40M180.66,188.80v-1.40M195.76,250.40v1.40M195.76,188.80v-1.40M203.31,250.40v1.40M203.31,188.80v-1.40M218.42,250.40v1.40M218.42,188.80v-1.40M225.97,250.40v1.40M225.97,188.80v-1.40M241.07,250.40v1.40M241.07,188.80v-1.40M248.63,250.40v1.40M248.63,188.80v-1.40M263.73,250.40v1.40M263.73,188.80v-1.40M271.28,250.40v1.40M271.28,188.80v-1.40M158.00,247.83h-1.40M281.10,247.83h1.40M158.00,245.27h-1.40M281.10,245.27h1.40M158.00,242.70h-1.40M281.10,242.70h1.40M158.00,237.57h-1.40M281.10,237.57h1.40M158.00,235.00h-1.40M281.10,235.00h1.40M158.00,232.43h-1.40M281.10,232.43h1.40M158.00,227.30h-1.40M281.10,227.30h1.40M158.00,224.73h-1.40M281.10,224.73h1.40M158.00,222.17h-1.40M281.10,222.17h1.40M158.00,217.03h-1.40M281.10,217.03h1.40M158.00,214.47h-1.40M281.10,214.47h1.40M158.00,211.90h-1.40M281.10,211.90h1.40M158.00,206.77h-1.40M281.10,206.77h1.40M158.00,204.20h-1.40M281.10,204.20h1.40M158.00,201.63h-1.40M281.10,201.63h1.40M158.00,196.50h-1.40M281.10,196.50h1.40M158.00,193.93h-1.40M281.10,193.93h1.40M158.00,191.37h-1.40M281.10,191.37h1.40" stroke="#666" stroke-width="0.6" fill="none"/>
<text x="151.70" y="251.90" font-size="4.25" font-weight="bold" text-anchor="end" fill="#111" stroke="#111" stroke-width="0.04" stroke-linejoin="round">-0.4</text>
<text x="151.70" y="241.63" font-size="4.25" font-weight="bold" text-anchor="end" fill="#111" stroke="#111" stroke-width="0.04" stroke-linejoin="round">0.0</text>
<text x="151.70" y="231.37" font-size="4.25" font-weight="bold" text-anchor="end" fill="#111" stroke="#111" stroke-width="0.04" stroke-linejoin="round">0.4</text>
<text x="151.70" y="221.10" font-size="4.25" font-weight="bold" text-anchor="end" fill="#111" stroke="#111" stroke-width="0.04" stroke-linejoin="round">0.8</text>
<text x="151.70" y="210.83" font-size="4.25" font-weight="bold" text-anchor="end" fill="#111" stroke="#111" stroke-width="0.04" stroke-linejoin="round">1.2</text>
<text x="151.70" y="200.57" font-size="4.25" font-weight="bold" text-anchor="end" fill="#111" stroke="#111" stroke-width="0.04" stroke-linejoin="round">1.6</text>
<text x="151.70" y="190.30" font-size="4.25" font-weight="bold" text-anchor="end" fill="#111" stroke="#111" stroke-width="0.04" stroke-linejoin="round">2.0</text>
<text x="165.45" y="259.60" font-size="4.30" font-weight="bold" text-anchor="middle" fill="#111" stroke="#111" stroke-width="0.04" stroke-linejoin="round">1860</text>
<text x="188.11" y="259.60" font-size="4.30" font-weight="bold" text-anchor="middle" fill="#111" stroke="#111" stroke-width="0.04" stroke-linejoin="round">1890</text>
<text x="210.77" y="259.60" font-size="4.30" font-weight="bold" text-anchor="middle" fill="#111" stroke="#111" stroke-width="0.04" stroke-linejoin="round">1920</text>
<text x="233.42" y="259.60" font-size="4.30" font-weight="bold" text-anchor="middle" fill="#111" stroke="#111" stroke-width="0.04" stroke-linejoin="round">1950</text>
<text x="256.08" y="259.60" font-size="4.30" font-weight="bold" text-anchor="middle" fill="#111" stroke="#111" stroke-width="0.04" stroke-linejoin="round">1980</text>
<text x="278.73" y="259.60" font-size="4.30" font-weight="bold" text-anchor="middle" fill="#111" stroke="#111" stroke-width="0.04" stroke-linejoin="round">2010</text>
<text x="155.80" y="183.30" font-size="4.80" font-weight="bold" fill="#111">(j) 0-30°N</text>
<text x="218.85" y="266.40" font-size="4.70" font-weight="bold" text-anchor="middle" fill="#000" stroke="#000" stroke-width="0.06" stroke-linejoin="round">year</text>
<g clip-path="url(#c22)">
<rect x="303.00" y="225.30" width="123.10" height="6.20" fill="#a9d5e0"/>
<path d="M303.00,233.20 L303.81,233.67 L304.62,234.15 L305.43,234.62 L306.23,235.10 L307.04,235.58 L307.85,236.05 L308.66,236.52 L309.47,237.00 L310.27,237.47 L311.08,237.95 L311.89,238.43 L312.70,238.90 L313.45,238.83 L314.20,238.78 L314.96,238.72 L315.71,238.67 L316.46,238.61 L317.21,238.56 L317.96,238.51 L318.72,238.45 L319.47,238.40 L320.22,238.34 L320.97,238.29 L321.72,238.23 L322.48,238.17 L323.23,238.11 L323.98,238.06 L324.73,238.00 L325.48,237.94 L326.24,237.88 L326.99,237.82 L327.74,237.76 L328.49,237.69 L329.24,237.63 L330.00,237.57 L330.75,237.50 L331.50,237.43 L332.25,237.37 L333.00,237.30 L333.76,237.23 L334.51,237.16 L335.26,237.09 L336.01,237.01 L336.76,236.94 L337.52,236.86 L338.27,236.78 L339.02,236.70 L339.77,236.62 L340.52,236.54 L341.27,236.46 L342.03,236.37 L342.78,236.28 L343.53,236.19 L344.28,236.10 L345.03,236.01 L345.79,235.91 L346.54,235.82 L347.29,235.72 L348.04,235.62 L348.79,235.51 L349.55,235.41 L350.30,235.30 L351.05,235.19 L351.80,235.08 L352.55,234.96 L353.31,234.85 L354.06,234.73 L354.81,234.61 L355.56,234.48 L356.31,234.36 L357.07,234.23 L357.82,234.09 L358.57,233.96 L359.32,233.82 L360.07,233.68 L360.83,233.54 L361.58,233.39 L362.33,233.25 L363.08,233.09 L363.83,232.94 L364.59,232.78 L365.34,232.62 L366.09,232.46 L366.84,232.29 L367.59,232.12 L368.35,231.95 L369.10,231.77 L369.85,231.59 L370.60,231.41 L371.35,231.22 L372.11,231.03 L372.86,230.83 L373.61,230.63 L374.36,230.43 L375.11,230.22 L375.87,230.01 L376.62,229.80 L377.37,229.58 L378.12,229.35 L378.87,229.12 L379.63,228.89 L380.38,228.64 L381.13,228.40 L381.88,228.15 L382.63,227.89 L383.39,227.63 L384.14,227.36 L384.89,227.08 L385.64,226.80 L386.39,226.51 L387.15,226.21 L387.90,225.91 L388.65,225.60 L389.40,225.29 L390.15,224.96 L390.91,224.63 L391.66,224.29 L392.41,223.95 L393.16,223.59 L393.91,223.23 L394.67,222.86 L395.42,222.48 L396.17,222.09 L396.92,221.70 L397.67,221.29 L398.43,220.88 L399.18,220.45 L399.93,220.02 L400.68,219.58 L401.43,219.13 L402.18,218.67 L402.94,218.20 L403.69,217.72 L404.44,217.23 L405.19,216.72 L405.94,216.21 L406.70,215.69 L407.45,215.16 L408.20,214.61 L408.95,214.05 L409.70,213.48 L410.46,212.90 L411.21,212.30 L411.96,211.69 L412.71,211.06 L413.46,210.42 L414.22,209.76 L414.97,209.09 L415.72,208.40 L416.47,207.69 L417.22,206.96 L417.98,206.22 L418.73,205.45 L419.48,204.67 L420.23,203.86 L420.98,203.04 L421.74,202.19 L422.49,201.33 L423.24,200.44 L423.99,199.52 L424.74,198.59 L425.50,197.63 L426.25,196.64 L427.00,195.63 L427.00,213.50 L426.25,214.57 L425.50,215.60 L424.74,216.59 L423.99,217.53 L423.24,218.43 L422.49,219.29 L421.74,220.10 L420.98,220.88 L420.23,221.63 L419.48,222.33 L418.73,223.00 L417.98,223.64 L417.22,224.25 L416.47,224.83 L415.72,225.37 L414.97,225.89 L414.22,226.39 L413.46,226.85 L412.71,227.30 L411.96,227.72 L411.21,228.12 L410.46,228.50 L409.70,228.86 L408.95,229.20 L408.20,229.53 L407.45,229.84 L406.70,230.14 L405.94,230.43 L405.19,230.70 L404.44,230.97 L403.69,231.22 L402.94,231.47 L402.18,231.70 L401.43,231.93 L400.68,232.14 L399.93,232.35 L399.18,232.55 L398.43,232.74 L397.67,232.93 L396.92,233.10 L396.17,233.27 L395.42,233.43 L394.67,233.58 L393.91,233.73 L393.16,233.87 L392.41,234.01 L391.66,234.14 L390.91,234.26 L390.15,234.38 L389.40,234.49 L388.65,234.60 L387.90,234.71 L387.15,234.81 L386.39,234.90 L385.64,235.00 L384.89,235.09 L384.14,235.17 L383.39,235.26 L382.63,235.34 L381.88,235.42 L381.13,235.50 L380.38,235.58 L379.63,235.65 L378.87,235.73 L378.12,235.80 L377.37,235.88 L376.62,235.95 L375.87,236.03 L375.11,236.10 L374.36,236.18 L373.61,236.25 L372.86,236.33 L372.11,236.41 L371.35,236.49 L370.60,236.58 L369.85,236.66 L369.10,236.75 L368.35,236.84 L367.59,236.93 L366.84,237.03 L366.09,237.13 L365.34,237.23 L364.59,237.33 L363.83,237.43 L363.08,237.53 L362.33,237.64 L361.58,237.74 L360.83,237.85 L360.07,237.96 L359.32,238.06 L358.57,238.17 L357.82,238.28 L357.07,238.39 L356.31,238.50 L355.56,238.61 L354.81,238.72 L354.06,238.83 L353.31,238.94 L352.55,239.05 L351.80,239.16 L351.05,239.26 L350.30,239.37 L349.55,239.48 L348.79,239.58 L348.04,239.68 L347.29,239.79 L346.54,239.89 L345.79,239.98 L345.03,240.08 L344.28,240.17 L343.53,240.27 L342.78,240.36 L342.03,240.45 L341.27,240.53 L340.52,240.61 L339.77,240.69 L339.02,240.77 L338.27,240.85 L337.52,240.92 L336.76,240.98 L336.01,241.05 L335.26,241.11 L334.51,241.17 L333.76,241.22 L333.00,241.27 L332.25,241.31 L331.50,241.36 L330.75,241.39 L330.00,241.42 L329.24,241.45 L328.49,241.47 L327.74,241.49 L326.99,241.50 L326.24,241.51 L325.48,241.52 L324.73,241.51 L323.98,241.50 L323.23,241.49 L322.48,241.47 L321.72,241.44 L320.97,241.41 L320.22,241.37 L319.47,241.33 L318.72,241.28 L317.96,241.22 L317.21,241.15 L316.46,241.08 L315.71,241.00 L314.96,240.92 L314.20,240.83 L313.45,240.73 L312.70,240.60 L311.89,241.04 L311.08,241.48 L310.27,241.93 L309.47,242.37 L308.66,242.81 L307.85,243.25 L307.04,243.69 L306.23,244.13 L305.43,244.57 L304.62,245.02 L303.81,245.46 L303.00,245.90 Z" fill="#f7b3c0"/>
<line x1="303.00" y1="229.20" x2="426.10" y2="229.20" stroke="#2a52a8" stroke-width="1.00" stroke-opacity="1.00"/>
<path d="M303.00,237.00 L303.75,237.30 L304.50,237.58 L305.25,237.85 L306.01,238.10 L306.76,238.35 L307.51,238.58 L308.26,238.79 L309.01,238.99 L309.76,239.18 L310.52,239.36 L311.27,239.53 L312.02,239.68 L312.77,239.82 L313.52,239.95 L314.27,240.07 L315.02,240.18 L315.78,240.27 L316.53,240.36 L317.28,240.44 L318.03,240.50 L318.78,240.56 L319.53,240.61 L320.28,240.64 L321.04,240.67 L321.79,240.69 L322.54,240.70 L323.29,240.70 L324.04,240.70 L324.79,240.69 L325.55,240.66 L326.30,240.64 L327.05,240.60 L327.80,240.56 L328.55,240.51 L329.30,240.45 L330.05,240.39 L330.81,240.32 L331.56,240.25 L332.31,240.17 L333.06,240.08 L333.81,239.99 L334.56,239.90 L335.32,239.80 L336.07,239.69 L336.82,239.58 L337.57,239.47 L338.32,239.36 L339.07,239.24 L339.82,239.12 L340.58,238.99 L341.33,238.86 L342.08,238.73 L342.83,238.60 L343.58,238.46 L344.33,238.33 L345.08,238.19 L345.84,238.05 L346.59,237.91 L347.34,237.77 L348.09,237.63 L348.84,237.49 L349.59,237.34 L350.35,237.20 L351.10,237.06 L351.85,236.92 L352.60,236.78 L353.35,236.64 L354.10,236.50 L354.85,236.37 L355.61,236.23 L356.36,236.10 L357.11,235.97 L357.86,235.84 L358.61,235.72 L359.36,235.60 L360.12,235.48 L360.87,235.36 L361.62,235.25 L362.37,235.14 L363.12,235.04 L363.87,234.93 L364.62,234.83 L365.38,234.73 L366.13,234.63 L366.88,234.53 L367.63,234.44 L368.38,234.34 L369.13,234.24 L369.88,234.15 L370.64,234.05 L371.39,233.96 L372.14,233.86 L372.89,233.76 L373.64,233.67 L374.39,233.57 L375.15,233.47 L375.90,233.36 L376.65,233.26 L377.40,233.15 L378.15,233.04 L378.90,232.93 L379.65,232.81 L380.41,232.69 L381.16,232.57 L381.91,232.44 L382.66,232.31 L383.41,232.17 L384.16,232.03 L384.92,231.88 L385.67,231.73 L386.42,231.58 L387.17,231.41 L387.92,231.24 L388.67,231.07 L389.42,230.89 L390.18,230.70 L390.93,230.50 L391.68,230.30 L392.43,230.09 L393.18,229.87 L393.93,229.64 L394.68,229.40 L395.44,229.16 L396.19,228.91 L396.94,228.64 L397.69,228.37 L398.44,228.09 L399.19,227.80 L399.95,227.49 L400.70,227.18 L401.45,226.86 L402.20,226.52 L402.95,226.18 L403.70,225.82 L404.45,225.45 L405.21,225.06 L405.96,224.67 L406.71,224.26 L407.46,223.84 L408.21,223.40 L408.96,222.95 L409.72,222.47 L410.47,221.98 L411.22,221.46 L411.97,220.92 L412.72,220.35 L413.47,219.75 L414.22,219.13 L414.98,218.47 L415.73,217.79 L416.48,217.07 L417.23,216.31 L417.98,215.52 L418.73,214.68 L419.48,213.81 L420.24,212.90 L420.99,211.94 L421.74,210.94 L422.49,209.89 L423.24,208.79 L423.99,207.65 L424.75,206.45 L425.50,205.20 L426.25,203.89 L427.00,202.53" fill="none" stroke="#ee1c24" stroke-width="1.1"/>
<line x1="397.60" y1="188.80" x2="397.60" y2="250.40" stroke="#666" stroke-width="0.55" stroke-dasharray="3.6,1.5" stroke-dashoffset="-1.4"/>
</g>
<text x="396.80" y="226.30" font-size="3.40" text-anchor="end" fill="#333">1979</text>
<line x1="312.00" y1="200.50" x2="323.60" y2="200.50" stroke="#ee1c24" stroke-width="1.40"/>
<line x1="312.00" y1="207.00" x2="323.60" y2="207.00" stroke="#4068b8" stroke-width="1.1"/>
<text x="326.60" y="201.70" font-size="3.40" fill="#333" stroke="#333" stroke-width="0.09" stroke-linejoin="round">Signal</text>
<text x="326.60" y="208.20" font-size="3.40" fill="#333" stroke="#333" stroke-width="0.09" stroke-linejoin="round">Noise</text>
<path d="M302.55,250.40H426.55M303.00,188.80V250.40M426.10,188.80V250.40" fill="none" stroke="#8a8a8a" stroke-width="0.9"/>
<path d="M302.55,188.80H426.55" fill="none" stroke="#8a8a8a" stroke-width="0.9"/>
<path d="M310.55,250.40v2.80M310.55,188.80v-2.80M333.21,250.40v2.80M333.21,188.80v-2.80M355.87,250.40v2.80M355.87,188.80v-2.80M378.52,250.40v2.80M378.52,188.80v-2.80M401.18,250.40v2.80M401.18,188.80v-2.80M423.83,250.40v2.80M423.83,188.80v-2.80M303.00,250.40h-2.80M426.10,250.40h2.80M303.00,240.13h-2.80M426.10,240.13h2.80M303.00,229.87h-2.80M426.10,229.87h2.80M303.00,219.60h-2.80M426.10,219.60h2.80M303.00,209.33h-2.80M426.10,209.33h2.80M303.00,199.07h-2.80M426.10,199.07h2.80M303.00,188.80h-2.80M426.10,188.80h2.80" stroke="#222" stroke-width="0.8" fill="none"/>
<path d="M303.00,250.40v1.40M303.00,188.80v-1.40M318.10,250.40v1.40M318.10,188.80v-1.40M325.66,250.40v1.40M325.66,188.80v-1.40M340.76,250.40v1.40M340.76,188.80v-1.40M348.31,250.40v1.40M348.31,188.80v-1.40M363.42,250.40v1.40M363.42,188.80v-1.40M370.97,250.40v1.40M370.97,188.80v-1.40M386.07,250.40v1.40M386.07,188.80v-1.40M393.63,250.40v1.40M393.63,188.80v-1.40M408.73,250.40v1.40M408.73,188.80v-1.40M416.28,250.40v1.40M416.28,188.80v-1.40M303.00,247.83h-1.40M426.10,247.83h1.40M303.00,245.27h-1.40M426.10,245.27h1.40M303.00,242.70h-1.40M426.10,242.70h1.40M303.00,237.57h-1.40M426.10,237.57h1.40M303.00,235.00h-1.40M426.10,235.00h1.40M303.00,232.43h-1.40M426.10,232.43h1.40M303.00,227.30h-1.40M426.10,227.30h1.40M303.00,224.73h-1.40M426.10,224.73h1.40M303.00,222.17h-1.40M426.10,222.17h1.40M303.00,217.03h-1.40M426.10,217.03h1.40M303.00,214.47h-1.40M426.10,214.47h1.40M303.00,211.90h-1.40M426.10,211.90h1.40M303.00,206.77h-1.40M426.10,206.77h1.40M303.00,204.20h-1.40M426.10,204.20h1.40M303.00,201.63h-1.40M426.10,201.63h1.40M303.00,196.50h-1.40M426.10,196.50h1.40M303.00,193.93h-1.40M426.10,193.93h1.40M303.00,191.37h-1.40M426.10,191.37h1.40" stroke="#666" stroke-width="0.6" fill="none"/>
<text x="296.70" y="251.90" font-size="4.25" font-weight="bold" text-anchor="end" fill="#111" stroke="#111" stroke-width="0.04" stroke-linejoin="round">-0.4</text>
<text x="296.70" y="241.63" font-size="4.25" font-weight="bold" text-anchor="end" fill="#111" stroke="#111" stroke-width="0.04" stroke-linejoin="round">0.0</text>
<text x="296.70" y="231.37" font-size="4.25" font-weight="bold" text-anchor="end" fill="#111" stroke="#111" stroke-width="0.04" stroke-linejoin="round">0.4</text>
<text x="296.70" y="221.10" font-size="4.25" font-weight="bold" text-anchor="end" fill="#111" stroke="#111" stroke-width="0.04" stroke-linejoin="round">0.8</text>
<text x="296.70" y="210.83" font-size="4.25" font-weight="bold" text-anchor="end" fill="#111" stroke="#111" stroke-width="0.04" stroke-linejoin="round">1.2</text>
<text x="296.70" y="200.57" font-size="4.25" font-weight="bold" text-anchor="end" fill="#111" stroke="#111" stroke-width="0.04" stroke-linejoin="round">1.6</text>
<text x="296.70" y="190.30" font-size="4.25" font-weight="bold" text-anchor="end" fill="#111" stroke="#111" stroke-width="0.04" stroke-linejoin="round">2.0</text>
<text x="310.45" y="259.60" font-size="4.30" font-weight="bold" text-anchor="middle" fill="#111" stroke="#111" stroke-width="0.04" stroke-linejoin="round">1860</text>
<text x="333.11" y="259.60" font-size="4.30" font-weight="bold" text-anchor="middle" fill="#111" stroke="#111" stroke-width="0.04" stroke-linejoin="round">1890</text>
<text x="355.77" y="259.60" font-size="4.30" font-weight="bold" text-anchor="middle" fill="#111" stroke="#111" stroke-width="0.04" stroke-linejoin="round">1920</text>
<text x="378.42" y="259.60" font-size="4.30" font-weight="bold" text-anchor="middle" fill="#111" stroke="#111" stroke-width="0.04" stroke-linejoin="round">1950</text>
<text x="401.08" y="259.60" font-size="4.30" font-weight="bold" text-anchor="middle" fill="#111" stroke="#111" stroke-width="0.04" stroke-linejoin="round">1980</text>
<text x="423.73" y="259.60" font-size="4.30" font-weight="bold" text-anchor="middle" fill="#111" stroke="#111" stroke-width="0.04" stroke-linejoin="round">2010</text>
<text x="300.80" y="183.30" font-size="4.80" font-weight="bold" fill="#111">(k) 0-30°S</text>
<text x="363.85" y="266.40" font-size="4.70" font-weight="bold" text-anchor="middle" fill="#000" stroke="#000" stroke-width="0.06" stroke-linejoin="round">year</text>
<g clip-path="url(#c23)">
<rect x="448.60" y="230.90" width="123.10" height="1.40" fill="#a9d5e0"/>
<path d="M448.60,235.20 L449.37,235.52 L450.14,235.84 L450.91,236.16 L451.69,236.49 L452.46,236.81 L453.23,237.13 L454.00,237.45 L454.77,237.77 L455.54,238.09 L456.31,238.41 L457.09,238.74 L457.86,239.06 L458.63,239.38 L459.40,239.70 L460.15,239.61 L460.90,239.54 L461.66,239.47 L462.41,239.40 L463.16,239.33 L463.91,239.26 L464.67,239.19 L465.42,239.13 L466.17,239.06 L466.92,239.00 L467.68,238.93 L468.43,238.87 L469.18,238.81 L469.93,238.75 L470.68,238.69 L471.44,238.63 L472.19,238.56 L472.94,238.51 L473.69,238.45 L474.45,238.39 L475.20,238.33 L475.95,238.27 L476.70,238.21 L477.46,238.15 L478.21,238.09 L478.96,238.04 L479.71,237.98 L480.46,237.92 L481.22,237.86 L481.97,237.80 L482.72,237.74 L483.47,237.68 L484.23,237.62 L484.98,237.56 L485.73,237.50 L486.48,237.44 L487.24,237.38 L487.99,237.32 L488.74,237.26 L489.49,237.19 L490.25,237.13 L491.00,237.06 L491.75,237.00 L492.50,236.93 L493.25,236.86 L494.01,236.80 L494.76,236.73 L495.51,236.65 L496.26,236.58 L497.02,236.51 L497.77,236.44 L498.52,236.36 L499.27,236.28 L500.03,236.20 L500.78,236.12 L501.53,236.04 L502.28,235.96 L503.03,235.88 L503.79,235.79 L504.54,235.70 L505.29,235.61 L506.04,235.52 L506.80,235.43 L507.55,235.33 L508.30,235.23 L509.05,235.14 L509.81,235.03 L510.56,234.93 L511.31,234.83 L512.06,234.72 L512.81,234.61 L513.57,234.50 L514.32,234.38 L515.07,234.26 L515.82,234.14 L516.58,234.02 L517.33,233.90 L518.08,233.77 L518.83,233.64 L519.59,233.51 L520.34,233.37 L521.09,233.23 L521.84,233.09 L522.59,232.95 L523.35,232.80 L524.10,232.65 L524.85,232.50 L525.60,232.34 L526.36,232.18 L527.11,232.02 L527.86,231.85 L528.61,231.68 L529.37,231.51 L530.12,231.34 L530.87,231.16 L531.62,230.97 L532.37,230.79 L533.13,230.60 L533.88,230.40 L534.63,230.20 L535.38,230.00 L536.14,229.80 L536.89,229.59 L537.64,229.38 L538.39,229.16 L539.15,228.94 L539.90,228.71 L540.65,228.48 L541.40,228.25 L542.15,228.01 L542.91,227.77 L543.66,227.52 L544.41,227.27 L545.16,227.02 L545.92,226.76 L546.67,226.49 L547.42,226.22 L548.17,225.95 L548.93,225.67 L549.68,225.39 L550.43,225.10 L551.18,224.81 L551.94,224.51 L552.69,224.21 L553.44,223.90 L554.19,223.59 L554.94,223.27 L555.70,222.95 L556.45,222.62 L557.20,222.29 L557.95,221.95 L558.71,221.61 L559.46,221.26 L560.21,220.90 L560.96,220.54 L561.72,220.18 L562.47,219.80 L563.22,219.43 L563.97,219.04 L564.72,218.66 L565.48,218.26 L566.23,217.86 L566.98,217.46 L567.73,217.04 L568.49,216.63 L569.24,216.20 L569.99,215.77 L570.74,215.33 L571.50,214.89 L572.25,214.44 L573.00,213.99 L573.00,222.80 L572.25,223.36 L571.50,223.90 L570.74,224.42 L569.99,224.92 L569.24,225.41 L568.49,225.87 L567.73,226.32 L566.98,226.76 L566.23,227.18 L565.48,227.58 L564.72,227.96 L563.97,228.34 L563.22,228.70 L562.47,229.04 L561.72,229.37 L560.96,229.69 L560.21,229.99 L559.46,230.29 L558.71,230.57 L557.95,230.84 L557.20,231.10 L556.45,231.34 L555.70,231.58 L554.94,231.81 L554.19,232.03 L553.44,232.25 L552.69,232.45 L551.94,232.64 L551.18,232.83 L550.43,233.02 L549.68,233.19 L548.93,233.36 L548.17,233.52 L547.42,233.68 L546.67,233.84 L545.92,233.99 L545.16,234.13 L544.41,234.28 L543.66,234.42 L542.91,234.55 L542.15,234.69 L541.40,234.82 L540.65,234.95 L539.90,235.08 L539.15,235.21 L538.39,235.34 L537.64,235.47 L536.89,235.59 L536.14,235.71 L535.38,235.83 L534.63,235.95 L533.88,236.07 L533.13,236.18 L532.37,236.30 L531.62,236.41 L530.87,236.52 L530.12,236.63 L529.37,236.74 L528.61,236.84 L527.86,236.95 L527.11,237.05 L526.36,237.15 L525.60,237.25 L524.85,237.35 L524.10,237.44 L523.35,237.54 L522.59,237.63 L521.84,237.72 L521.09,237.81 L520.34,237.90 L519.59,237.99 L518.83,238.07 L518.08,238.15 L517.33,238.24 L516.58,238.32 L515.82,238.40 L515.07,238.47 L514.32,238.55 L513.57,238.62 L512.81,238.70 L512.06,238.77 L511.31,238.84 L510.56,238.90 L509.81,238.97 L509.05,239.04 L508.30,239.10 L507.55,239.16 L506.80,239.22 L506.04,239.28 L505.29,239.34 L504.54,239.39 L503.79,239.45 L503.03,239.50 L502.28,239.55 L501.53,239.60 L500.78,239.65 L500.03,239.70 L499.27,239.74 L498.52,239.79 L497.77,239.83 L497.02,239.87 L496.26,239.91 L495.51,239.95 L494.76,239.99 L494.01,240.02 L493.25,240.06 L492.50,240.09 L491.75,240.12 L491.00,240.15 L490.25,240.18 L489.49,240.20 L488.74,240.23 L487.99,240.25 L487.24,240.27 L486.48,240.30 L485.73,240.31 L484.98,240.33 L484.23,240.35 L483.47,240.36 L482.72,240.38 L481.97,240.39 L481.22,240.40 L480.46,240.41 L479.71,240.42 L478.96,240.43 L478.21,240.43 L477.46,240.44 L476.70,240.44 L475.95,240.44 L475.20,240.44 L474.45,240.44 L473.69,240.44 L472.94,240.43 L472.19,240.43 L471.44,240.42 L470.68,240.41 L469.93,240.40 L469.18,240.39 L468.43,240.38 L467.68,240.37 L466.92,240.35 L466.17,240.34 L465.42,240.32 L464.67,240.30 L463.91,240.28 L463.16,240.26 L462.41,240.24 L461.66,240.21 L460.90,240.19 L460.15,240.16 L459.40,240.10 L458.63,240.36 L457.86,240.63 L457.09,240.89 L456.31,241.16 L455.54,241.42 L454.77,241.69 L454.00,241.95 L453.23,242.21 L452.46,242.48 L451.69,242.74 L450.91,243.01 L450.14,243.27 L449.37,243.54 L448.60,243.80 Z" fill="#f7b3c0"/>
<line x1="448.60" y1="231.60" x2="571.70" y2="231.60" stroke="#3060b0" stroke-width="1.20" stroke-opacity="1.00"/>
<path d="M448.60,238.25 L449.35,238.35 L450.11,238.44 L450.86,238.53 L451.62,238.61 L452.37,238.69 L453.12,238.77 L453.88,238.84 L454.63,238.91 L455.39,238.98 L456.14,239.04 L456.89,239.10 L457.65,239.16 L458.40,239.21 L459.16,239.26 L459.91,239.31 L460.66,239.35 L461.42,239.39 L462.17,239.43 L462.92,239.46 L463.68,239.49 L464.43,239.52 L465.19,239.54 L465.94,239.56 L466.69,239.58 L467.45,239.59 L468.20,239.60 L468.96,239.61 L469.71,239.62 L470.46,239.62 L471.22,239.62 L471.97,239.62 L472.73,239.62 L473.48,239.61 L474.23,239.60 L474.99,239.58 L475.74,239.57 L476.50,239.55 L477.25,239.53 L478.00,239.51 L478.76,239.48 L479.51,239.45 L480.27,239.42 L481.02,239.39 L481.77,239.36 L482.53,239.32 L483.28,239.28 L484.04,239.24 L484.79,239.19 L485.54,239.15 L486.30,239.10 L487.05,239.05 L487.80,239.00 L488.56,238.95 L489.31,238.89 L490.07,238.83 L490.82,238.77 L491.57,238.71 L492.33,238.65 L493.08,238.59 L493.84,238.52 L494.59,238.45 L495.34,238.38 L496.10,238.31 L496.85,238.24 L497.61,238.17 L498.36,238.09 L499.11,238.01 L499.87,237.94 L500.62,237.86 L501.38,237.78 L502.13,237.69 L502.88,237.61 L503.64,237.53 L504.39,237.44 L505.15,237.35 L505.90,237.27 L506.65,237.18 L507.41,237.09 L508.16,237.00 L508.92,236.91 L509.67,236.81 L510.42,236.72 L511.18,236.62 L511.93,236.53 L512.68,236.43 L513.44,236.34 L514.19,236.24 L514.95,236.14 L515.70,236.04 L516.45,235.95 L517.21,235.85 L517.96,235.75 L518.72,235.65 L519.47,235.54 L520.22,235.44 L520.98,235.34 L521.73,235.24 L522.49,235.14 L523.24,235.04 L523.99,234.93 L524.75,234.83 L525.50,234.73 L526.26,234.62 L527.01,234.52 L527.76,234.41 L528.52,234.30 L529.27,234.19 L530.03,234.08 L530.78,233.97 L531.53,233.85 L532.29,233.73 L533.04,233.61 L533.80,233.49 L534.55,233.36 L535.30,233.23 L536.06,233.09 L536.81,232.95 L537.56,232.81 L538.32,232.66 L539.07,232.50 L539.83,232.34 L540.58,232.18 L541.33,232.01 L542.09,231.83 L542.84,231.65 L543.60,231.46 L544.35,231.27 L545.10,231.06 L545.86,230.85 L546.61,230.64 L547.37,230.41 L548.12,230.18 L548.87,229.94 L549.63,229.69 L550.38,229.44 L551.14,229.17 L551.89,228.89 L552.64,228.61 L553.40,228.32 L554.15,228.01 L554.91,227.70 L555.66,227.38 L556.41,227.04 L557.17,226.70 L557.92,226.34 L558.68,225.97 L559.43,225.59 L560.18,225.20 L560.94,224.80 L561.69,224.39 L562.44,223.96 L563.20,223.52 L563.95,223.07 L564.71,222.60 L565.46,222.12 L566.21,221.63 L566.97,221.12 L567.72,220.60 L568.48,220.06 L569.23,219.51 L569.98,218.95 L570.74,218.37 L571.49,217.77 L572.25,217.16 L573.00,216.53" fill="none" stroke="#ee1c24" stroke-width="1.1"/>
<line x1="547.50" y1="188.80" x2="547.50" y2="250.40" stroke="#666" stroke-width="0.55" stroke-dasharray="3.6,1.5" stroke-dashoffset="-1.4"/>
</g>
<text x="546.70" y="228.60" font-size="3.40" text-anchor="end" fill="#333">1981</text>
<line x1="457.60" y1="200.50" x2="469.20" y2="200.50" stroke="#ee1c24" stroke-width="1.40"/>
<line x1="457.60" y1="207.00" x2="469.20" y2="207.00" stroke="#4068b8" stroke-width="1.1"/>
<text x="472.20" y="201.70" font-size="3.20" font-weight="bold" fill="#000" stroke="#000" stroke-width="0.05" stroke-linejoin="round">Signal</text>
<text x="472.20" y="208.20" font-size="3.20" font-weight="bold" fill="#000" stroke="#000" stroke-width="0.05" stroke-linejoin="round">Noise</text>
<path d="M448.15,250.40H572.15M448.60,188.80V250.40M571.70,188.80V250.40" fill="none" stroke="#8a8a8a" stroke-width="0.9"/>
<path d="M448.15,188.80H572.15" fill="none" stroke="#8a8a8a" stroke-width="0.9"/>
<path d="M456.15,250.40v2.80M456.15,188.80v-2.80M478.81,250.40v2.80M478.81,188.80v-2.80M501.47,250.40v2.80M501.47,188.80v-2.80M524.12,250.40v2.80M524.12,188.80v-2.80M546.78,250.40v2.80M546.78,188.80v-2.80M569.43,250.40v2.80M569.43,188.80v-2.80M448.60,250.40h-2.80M571.70,250.40h2.80M448.60,240.13h-2.80M571.70,240.13h2.80M448.60,229.87h-2.80M571.70,229.87h2.80M448.60,219.60h-2.80M571.70,219.60h2.80M448.60,209.33h-2.80M571.70,209.33h2.80M448.60,199.07h-2.80M571.70,199.07h2.80M448.60,188.80h-2.80M571.70,188.80h2.80" stroke="#222" stroke-width="0.8" fill="none"/>
<path d="M448.60,250.40v1.40M448.60,188.80v-1.40M463.70,250.40v1.40M463.70,188.80v-1.40M471.26,250.40v1.40M471.26,188.80v-1.40M486.36,250.40v1.40M486.36,188.80v-1.40M493.91,250.40v1.40M493.91,188.80v-1.40M509.02,250.40v1.40M509.02,188.80v-1.40M516.57,250.40v1.40M516.57,188.80v-1.40M531.67,250.40v1.40M531.67,188.80v-1.40M539.23,250.40v1.40M539.23,188.80v-1.40M554.33,250.40v1.40M554.33,188.80v-1.40M561.88,250.40v1.40M561.88,188.80v-1.40M448.60,247.83h-1.40M571.70,247.83h1.40M448.60,245.27h-1.40M571.70,245.27h1.40M448.60,242.70h-1.40M571.70,242.70h1.40M448.60,237.57h-1.40M571.70,237.57h1.40M448.60,235.00h-1.40M571.70,235.00h1.40M448.60,232.43h-1.40M571.70,232.43h1.40M448.60,227.30h-1.40M571.70,227.30h1.40M448.60,224.73h-1.40M571.70,224.73h1.40M448.60,222.17h-1.40M571.70,222.17h1.40M448.60,217.03h-1.40M571.70,217.03h1.40M448.60,214.47h-1.40M571.70,214.47h1.40M448.60,211.90h-1.40M571.70,211.90h1.40M448.60,206.77h-1.40M571.70,206.77h1.40M448.60,204.20h-1.40M571.70,204.20h1.40M448.60,201.63h-1.40M571.70,201.63h1.40M448.60,196.50h-1.40M571.70,196.50h1.40M448.60,193.93h-1.40M571.70,193.93h1.40M448.60,191.37h-1.40M571.70,191.37h1.40" stroke="#666" stroke-width="0.6" fill="none"/>
<text x="442.30" y="251.90" font-size="4.25" font-weight="bold" text-anchor="end" fill="#111" stroke="#111" stroke-width="0.04" stroke-linejoin="round">-0.4</text>
<text x="442.30" y="241.63" font-size="4.25" font-weight="bold" text-anchor="end" fill="#111" stroke="#111" stroke-width="0.04" stroke-linejoin="round">0.0</text>
<text x="442.30" y="231.37" font-size="4.25" font-weight="bold" text-anchor="end" fill="#111" stroke="#111" stroke-width="0.04" stroke-linejoin="round">0.4</text>
<text x="442.30" y="221.10" font-size="4.25" font-weight="bold" text-anchor="end" fill="#111" stroke="#111" stroke-width="0.04" stroke-linejoin="round">0.8</text>
<text x="442.30" y="210.83" font-size="4.25" font-weight="bold" text-anchor="end" fill="#111" stroke="#111" stroke-width="0.04" stroke-linejoin="round">1.2</text>
<text x="442.30" y="200.57" font-size="4.25" font-weight="bold" text-anchor="end" fill="#111" stroke="#111" stroke-width="0.04" stroke-linejoin="round">1.6</text>
<text x="442.30" y="190.30" font-size="4.25" font-weight="bold" text-anchor="end" fill="#111" stroke="#111" stroke-width="0.04" stroke-linejoin="round">2.0</text>
<text x="456.05" y="259.60" font-size="4.30" font-weight="bold" text-anchor="middle" fill="#111" stroke="#111" stroke-width="0.04" stroke-linejoin="round">1860</text>
<text x="478.71" y="259.60" font-size="4.30" font-weight="bold" text-anchor="middle" fill="#111" stroke="#111" stroke-width="0.04" stroke-linejoin="round">1890</text>
<text x="501.37" y="259.60" font-size="4.30" font-weight="bold" text-anchor="middle" fill="#111" stroke="#111" stroke-width="0.04" stroke-linejoin="round">1920</text>
<text x="524.02" y="259.60" font-size="4.30" font-weight="bold" text-anchor="middle" fill="#111" stroke="#111" stroke-width="0.04" stroke-linejoin="round">1950</text>
<text x="546.68" y="259.60" font-size="4.30" font-weight="bold" text-anchor="middle" fill="#111" stroke="#111" stroke-width="0.04" stroke-linejoin="round">1980</text>
<text x="569.33" y="259.60" font-size="4.30" font-weight="bold" text-anchor="middle" fill="#111" stroke="#111" stroke-width="0.04" stroke-linejoin="round">2010</text>
<text x="446.40" y="183.30" font-size="4.80" font-weight="bold" fill="#111">(l) 0-30°S</text>
<text x="509.45" y="266.40" font-size="4.70" font-weight="bold" text-anchor="middle" fill="#000" stroke="#000" stroke-width="0.06" stroke-linejoin="round">year</text>
</svg></body></html>
